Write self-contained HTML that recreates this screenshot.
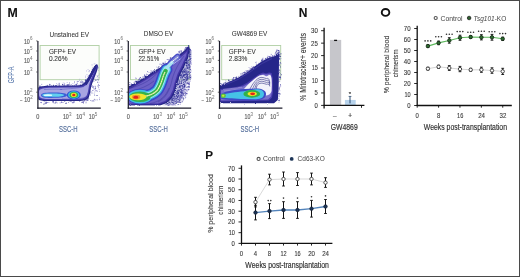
<!DOCTYPE html>
<html><head><meta charset="utf-8"><style>
html,body{margin:0;padding:0;background:#fff;}
svg{display:block;font-family:"Liberation Sans", sans-serif;will-change:transform;}
</style></head><body>
<svg width="520" height="277" viewBox="0 0 520 277">
<text x="7.60" y="16.80" font-size="12.3" fill="#111" text-anchor="start" font-weight="bold" stroke="#111" stroke-width="0.1" >M</text>
<text x="298.80" y="16.70" font-size="12.0" fill="#111" text-anchor="start" font-weight="bold" stroke="#111" stroke-width="0.1" >N</text>
<ellipse cx="385.55" cy="12.45" rx="3.8" ry="3.4" fill="none" stroke="#111" stroke-width="1.9"/>
<text x="205.20" y="159.00" font-size="11.7" fill="#111" text-anchor="start" font-weight="bold" stroke="#111" stroke-width="0.1" >P</text>
<text x="69.30" y="36.60" font-size="6.9" fill="#333" text-anchor="middle" textLength="39.4" lengthAdjust="spacingAndGlyphs" stroke="#333" stroke-width="0.05" >Unstained EV</text>
<rect x="40.1" y="45.5" width="59" height="34.2" fill="#fcfdfb" stroke="#b0cfa4" stroke-width="0.9"/>
<text x="48.90" y="53.80" font-size="6.9" fill="#333" text-anchor="start" textLength="27.0" lengthAdjust="spacingAndGlyphs" stroke="#333" stroke-width="0.08" >GFP+ EV</text>
<text x="48.90" y="61.00" font-size="6.9" fill="#333" text-anchor="start" textLength="18.6" lengthAdjust="spacingAndGlyphs" stroke="#333" stroke-width="0.08" >0.26%</text>
<text x="23.90" y="43.50" font-size="6.6" fill="#5c5c5c" text-anchor="start" textLength="5.9" lengthAdjust="spacingAndGlyphs" stroke="#5c5c5c" stroke-width="0.15" >10</text><text x="30.00" y="40.20" font-size="4.5" fill="#7a7a7a" text-anchor="start" stroke="#7a7a7a" stroke-width="0.05" >6</text>
<line x1="36.2" y1="40.9" x2="37.6" y2="40.9" stroke="#333" stroke-width="0.7"/>
<text x="23.90" y="53.60" font-size="6.6" fill="#5c5c5c" text-anchor="start" textLength="5.9" lengthAdjust="spacingAndGlyphs" stroke="#5c5c5c" stroke-width="0.15" >10</text><text x="30.00" y="50.30" font-size="4.5" fill="#7a7a7a" text-anchor="start" stroke="#7a7a7a" stroke-width="0.05" >5</text>
<line x1="36.2" y1="51.0" x2="37.6" y2="51.0" stroke="#333" stroke-width="0.7"/>
<text x="23.90" y="63.00" font-size="6.6" fill="#5c5c5c" text-anchor="start" textLength="5.9" lengthAdjust="spacingAndGlyphs" stroke="#5c5c5c" stroke-width="0.15" >10</text><text x="30.00" y="59.70" font-size="4.5" fill="#7a7a7a" text-anchor="start" stroke="#7a7a7a" stroke-width="0.05" >4</text>
<line x1="36.2" y1="60.4" x2="37.6" y2="60.4" stroke="#333" stroke-width="0.7"/>
<text x="23.90" y="74.60" font-size="6.6" fill="#5c5c5c" text-anchor="start" textLength="5.9" lengthAdjust="spacingAndGlyphs" stroke="#5c5c5c" stroke-width="0.15" >10</text><text x="30.00" y="71.30" font-size="4.5" fill="#7a7a7a" text-anchor="start" stroke="#7a7a7a" stroke-width="0.05" >3</text>
<line x1="36.2" y1="72.0" x2="37.6" y2="72.0" stroke="#333" stroke-width="0.7"/>
<text x="23.90" y="94.80" font-size="6.6" fill="#5c5c5c" text-anchor="start" textLength="5.9" lengthAdjust="spacingAndGlyphs" stroke="#5c5c5c" stroke-width="0.15" >10</text><text x="30.00" y="91.50" font-size="4.5" fill="#7a7a7a" text-anchor="start" stroke="#7a7a7a" stroke-width="0.05" >2</text>
<line x1="36.2" y1="92.2" x2="37.6" y2="92.2" stroke="#333" stroke-width="0.7"/>
<text x="20.00" y="101.90" font-size="6.6" fill="#5c5c5c" text-anchor="start" textLength="2.4" lengthAdjust="spacingAndGlyphs" >–</text>
<text x="24.20" y="101.90" font-size="6.6" fill="#5c5c5c" text-anchor="start" textLength="5.9" lengthAdjust="spacingAndGlyphs" stroke="#5c5c5c" stroke-width="0.15" >10</text><text x="30.30" y="98.60" font-size="4.5" fill="#7a7a7a" text-anchor="start" stroke="#7a7a7a" stroke-width="0.05" >2</text>
<text x="37.80" y="119.00" font-size="6.6" fill="#5c5c5c" text-anchor="middle" textLength="3.1" lengthAdjust="spacingAndGlyphs" stroke="#5c5c5c" stroke-width="0.15" >0</text>
<text x="62.90" y="118.90" font-size="6.6" fill="#5c5c5c" text-anchor="start" textLength="5.9" lengthAdjust="spacingAndGlyphs" stroke="#5c5c5c" stroke-width="0.15" >10</text><text x="69.00" y="115.60" font-size="4.5" fill="#7a7a7a" text-anchor="start" stroke="#7a7a7a" stroke-width="0.05" >3</text>
<text x="76.30" y="118.90" font-size="6.6" fill="#5c5c5c" text-anchor="start" textLength="5.9" lengthAdjust="spacingAndGlyphs" stroke="#5c5c5c" stroke-width="0.15" >10</text><text x="82.40" y="115.60" font-size="4.5" fill="#7a7a7a" text-anchor="start" stroke="#7a7a7a" stroke-width="0.05" >4</text>
<text x="88.70" y="118.90" font-size="6.6" fill="#5c5c5c" text-anchor="start" textLength="5.9" lengthAdjust="spacingAndGlyphs" stroke="#5c5c5c" stroke-width="0.15" >10</text><text x="94.80" y="115.60" font-size="4.5" fill="#7a7a7a" text-anchor="start" stroke="#7a7a7a" stroke-width="0.05" >5</text>
<g transform="translate(68.20,131.8) scale(1,1.12)"><text x="0.00" y="0.00" font-size="8.9" fill="#56709c" text-anchor="middle" textLength="18.6" lengthAdjust="spacingAndGlyphs" stroke="#56709c" stroke-width="0.15" >SSC-H</text></g>
<text x="158.60" y="36.10" font-size="6.9" fill="#333" text-anchor="middle" textLength="29.5" lengthAdjust="spacingAndGlyphs" stroke="#333" stroke-width="0.05" >DMSO EV</text>
<rect x="130.5" y="45.5" width="59" height="34.2" fill="#fcfdfb" stroke="#b0cfa4" stroke-width="0.9"/>
<text x="138.40" y="53.80" font-size="6.9" fill="#333" text-anchor="start" textLength="27.0" lengthAdjust="spacingAndGlyphs" stroke="#333" stroke-width="0.08" >GFP+ EV</text>
<text x="138.40" y="61.00" font-size="6.9" fill="#333" text-anchor="start" textLength="20.8" lengthAdjust="spacingAndGlyphs" stroke="#333" stroke-width="0.08" >22.51%</text>
<text x="114.30" y="43.50" font-size="6.6" fill="#5c5c5c" text-anchor="start" textLength="5.9" lengthAdjust="spacingAndGlyphs" stroke="#5c5c5c" stroke-width="0.15" >10</text><text x="120.40" y="40.20" font-size="4.5" fill="#7a7a7a" text-anchor="start" stroke="#7a7a7a" stroke-width="0.05" >6</text>
<line x1="126.6" y1="40.9" x2="128.0" y2="40.9" stroke="#333" stroke-width="0.7"/>
<text x="114.30" y="53.60" font-size="6.6" fill="#5c5c5c" text-anchor="start" textLength="5.9" lengthAdjust="spacingAndGlyphs" stroke="#5c5c5c" stroke-width="0.15" >10</text><text x="120.40" y="50.30" font-size="4.5" fill="#7a7a7a" text-anchor="start" stroke="#7a7a7a" stroke-width="0.05" >5</text>
<line x1="126.6" y1="51.0" x2="128.0" y2="51.0" stroke="#333" stroke-width="0.7"/>
<text x="114.30" y="63.00" font-size="6.6" fill="#5c5c5c" text-anchor="start" textLength="5.9" lengthAdjust="spacingAndGlyphs" stroke="#5c5c5c" stroke-width="0.15" >10</text><text x="120.40" y="59.70" font-size="4.5" fill="#7a7a7a" text-anchor="start" stroke="#7a7a7a" stroke-width="0.05" >4</text>
<line x1="126.6" y1="60.4" x2="128.0" y2="60.4" stroke="#333" stroke-width="0.7"/>
<text x="114.30" y="74.60" font-size="6.6" fill="#5c5c5c" text-anchor="start" textLength="5.9" lengthAdjust="spacingAndGlyphs" stroke="#5c5c5c" stroke-width="0.15" >10</text><text x="120.40" y="71.30" font-size="4.5" fill="#7a7a7a" text-anchor="start" stroke="#7a7a7a" stroke-width="0.05" >3</text>
<line x1="126.6" y1="72.0" x2="128.0" y2="72.0" stroke="#333" stroke-width="0.7"/>
<text x="114.30" y="94.80" font-size="6.6" fill="#5c5c5c" text-anchor="start" textLength="5.9" lengthAdjust="spacingAndGlyphs" stroke="#5c5c5c" stroke-width="0.15" >10</text><text x="120.40" y="91.50" font-size="4.5" fill="#7a7a7a" text-anchor="start" stroke="#7a7a7a" stroke-width="0.05" >2</text>
<line x1="126.6" y1="92.2" x2="128.0" y2="92.2" stroke="#333" stroke-width="0.7"/>
<text x="110.40" y="101.90" font-size="6.6" fill="#5c5c5c" text-anchor="start" textLength="2.4" lengthAdjust="spacingAndGlyphs" >–</text>
<text x="114.60" y="101.90" font-size="6.6" fill="#5c5c5c" text-anchor="start" textLength="5.9" lengthAdjust="spacingAndGlyphs" stroke="#5c5c5c" stroke-width="0.15" >10</text><text x="120.70" y="98.60" font-size="4.5" fill="#7a7a7a" text-anchor="start" stroke="#7a7a7a" stroke-width="0.05" >2</text>
<text x="128.20" y="119.00" font-size="6.6" fill="#5c5c5c" text-anchor="middle" textLength="3.1" lengthAdjust="spacingAndGlyphs" stroke="#5c5c5c" stroke-width="0.15" >0</text>
<text x="153.30" y="118.90" font-size="6.6" fill="#5c5c5c" text-anchor="start" textLength="5.9" lengthAdjust="spacingAndGlyphs" stroke="#5c5c5c" stroke-width="0.15" >10</text><text x="159.40" y="115.60" font-size="4.5" fill="#7a7a7a" text-anchor="start" stroke="#7a7a7a" stroke-width="0.05" >3</text>
<text x="166.70" y="118.90" font-size="6.6" fill="#5c5c5c" text-anchor="start" textLength="5.9" lengthAdjust="spacingAndGlyphs" stroke="#5c5c5c" stroke-width="0.15" >10</text><text x="172.80" y="115.60" font-size="4.5" fill="#7a7a7a" text-anchor="start" stroke="#7a7a7a" stroke-width="0.05" >4</text>
<text x="179.10" y="118.90" font-size="6.6" fill="#5c5c5c" text-anchor="start" textLength="5.9" lengthAdjust="spacingAndGlyphs" stroke="#5c5c5c" stroke-width="0.15" >10</text><text x="185.20" y="115.60" font-size="4.5" fill="#7a7a7a" text-anchor="start" stroke="#7a7a7a" stroke-width="0.05" >5</text>
<g transform="translate(158.60,131.8) scale(1,1.12)"><text x="0.00" y="0.00" font-size="8.9" fill="#56709c" text-anchor="middle" textLength="18.6" lengthAdjust="spacingAndGlyphs" stroke="#56709c" stroke-width="0.15" >SSC-H</text></g>
<text x="249.50" y="36.10" font-size="6.9" fill="#333" text-anchor="middle" textLength="35.6" lengthAdjust="spacingAndGlyphs" stroke="#333" stroke-width="0.05" >GW4869 EV</text>
<rect x="221.7" y="45.5" width="59" height="34.2" fill="#fcfdfb" stroke="#b0cfa4" stroke-width="0.9"/>
<text x="228.80" y="53.80" font-size="6.9" fill="#333" text-anchor="start" textLength="27.0" lengthAdjust="spacingAndGlyphs" stroke="#333" stroke-width="0.08" >GFP+ EV</text>
<text x="228.80" y="61.00" font-size="6.9" fill="#333" text-anchor="start" textLength="18.6" lengthAdjust="spacingAndGlyphs" stroke="#333" stroke-width="0.08" >2.83%</text>
<text x="205.50" y="43.50" font-size="6.6" fill="#5c5c5c" text-anchor="start" textLength="5.9" lengthAdjust="spacingAndGlyphs" stroke="#5c5c5c" stroke-width="0.15" >10</text><text x="211.60" y="40.20" font-size="4.5" fill="#7a7a7a" text-anchor="start" stroke="#7a7a7a" stroke-width="0.05" >6</text>
<line x1="217.79999999999998" y1="40.9" x2="219.2" y2="40.9" stroke="#333" stroke-width="0.7"/>
<text x="205.50" y="53.60" font-size="6.6" fill="#5c5c5c" text-anchor="start" textLength="5.9" lengthAdjust="spacingAndGlyphs" stroke="#5c5c5c" stroke-width="0.15" >10</text><text x="211.60" y="50.30" font-size="4.5" fill="#7a7a7a" text-anchor="start" stroke="#7a7a7a" stroke-width="0.05" >5</text>
<line x1="217.79999999999998" y1="51.0" x2="219.2" y2="51.0" stroke="#333" stroke-width="0.7"/>
<text x="205.50" y="63.00" font-size="6.6" fill="#5c5c5c" text-anchor="start" textLength="5.9" lengthAdjust="spacingAndGlyphs" stroke="#5c5c5c" stroke-width="0.15" >10</text><text x="211.60" y="59.70" font-size="4.5" fill="#7a7a7a" text-anchor="start" stroke="#7a7a7a" stroke-width="0.05" >4</text>
<line x1="217.79999999999998" y1="60.4" x2="219.2" y2="60.4" stroke="#333" stroke-width="0.7"/>
<text x="205.50" y="74.60" font-size="6.6" fill="#5c5c5c" text-anchor="start" textLength="5.9" lengthAdjust="spacingAndGlyphs" stroke="#5c5c5c" stroke-width="0.15" >10</text><text x="211.60" y="71.30" font-size="4.5" fill="#7a7a7a" text-anchor="start" stroke="#7a7a7a" stroke-width="0.05" >3</text>
<line x1="217.79999999999998" y1="72.0" x2="219.2" y2="72.0" stroke="#333" stroke-width="0.7"/>
<text x="205.50" y="94.80" font-size="6.6" fill="#5c5c5c" text-anchor="start" textLength="5.9" lengthAdjust="spacingAndGlyphs" stroke="#5c5c5c" stroke-width="0.15" >10</text><text x="211.60" y="91.50" font-size="4.5" fill="#7a7a7a" text-anchor="start" stroke="#7a7a7a" stroke-width="0.05" >2</text>
<line x1="217.79999999999998" y1="92.2" x2="219.2" y2="92.2" stroke="#333" stroke-width="0.7"/>
<text x="201.60" y="101.90" font-size="6.6" fill="#5c5c5c" text-anchor="start" textLength="2.4" lengthAdjust="spacingAndGlyphs" >–</text>
<text x="205.80" y="101.90" font-size="6.6" fill="#5c5c5c" text-anchor="start" textLength="5.9" lengthAdjust="spacingAndGlyphs" stroke="#5c5c5c" stroke-width="0.15" >10</text><text x="211.90" y="98.60" font-size="4.5" fill="#7a7a7a" text-anchor="start" stroke="#7a7a7a" stroke-width="0.05" >2</text>
<text x="219.40" y="119.00" font-size="6.6" fill="#5c5c5c" text-anchor="middle" textLength="3.1" lengthAdjust="spacingAndGlyphs" stroke="#5c5c5c" stroke-width="0.15" >0</text>
<text x="244.50" y="118.90" font-size="6.6" fill="#5c5c5c" text-anchor="start" textLength="5.9" lengthAdjust="spacingAndGlyphs" stroke="#5c5c5c" stroke-width="0.15" >10</text><text x="250.60" y="115.60" font-size="4.5" fill="#7a7a7a" text-anchor="start" stroke="#7a7a7a" stroke-width="0.05" >3</text>
<text x="257.90" y="118.90" font-size="6.6" fill="#5c5c5c" text-anchor="start" textLength="5.9" lengthAdjust="spacingAndGlyphs" stroke="#5c5c5c" stroke-width="0.15" >10</text><text x="264.00" y="115.60" font-size="4.5" fill="#7a7a7a" text-anchor="start" stroke="#7a7a7a" stroke-width="0.05" >4</text>
<text x="270.30" y="118.90" font-size="6.6" fill="#5c5c5c" text-anchor="start" textLength="5.9" lengthAdjust="spacingAndGlyphs" stroke="#5c5c5c" stroke-width="0.15" >10</text><text x="276.40" y="115.60" font-size="4.5" fill="#7a7a7a" text-anchor="start" stroke="#7a7a7a" stroke-width="0.05" >5</text>
<g transform="translate(249.80,131.8) scale(1,1.12)"><text x="0.00" y="0.00" font-size="8.9" fill="#56709c" text-anchor="middle" textLength="18.6" lengthAdjust="spacingAndGlyphs" stroke="#56709c" stroke-width="0.15" >SSC-H</text></g>
<text transform="translate(14.2,74.9) rotate(-90)" font-size="9.0" fill="#5878ac" stroke="#5878ac" stroke-width="0.08" text-anchor="middle" textLength="16.6" lengthAdjust="spacingAndGlyphs">GFP-A</text>
<defs>
<filter id="bl" x="-20%" y="-20%" width="140%" height="140%"><feGaussianBlur stdDeviation="0.45"/></filter>
<filter id="bl3" x="-20%" y="-20%" width="140%" height="140%"><feGaussianBlur stdDeviation="0.3"/></filter>
<filter id="er1" x="-20%" y="-20%" width="140%" height="140%"><feMorphology operator="erode" radius="1.2"/><feGaussianBlur stdDeviation="0.4"/></filter>
<filter id="er2" x="-20%" y="-20%" width="140%" height="140%"><feMorphology operator="erode" radius="2.2"/><feGaussianBlur stdDeviation="0.45"/></filter>
<filter id="rough" x="-10%" y="-10%" width="120%" height="120%"><feTurbulence type="fractalNoise" baseFrequency="0.9" numOctaves="2" seed="3" result="t"/><feDisplacementMap in="SourceGraphic" in2="t" scale="2.4" xChannelSelector="R" yChannelSelector="G" result="d"/><feGaussianBlur in="d" stdDeviation="0.35"/></filter>
<clipPath id="c1"><rect x="38.2" y="41" width="63" height="64.8"/></clipPath>
<clipPath id="c2"><rect x="128.6" y="41" width="63" height="64.8"/></clipPath>
<clipPath id="c3"><rect x="219.8" y="41" width="63" height="64.8"/></clipPath>
</defs>
<g clip-path="url(#c1)">
<g filter="url(#bl3)">
<g><rect x="93.0" y="89.7" width="0.9" height="0.9" fill="#7a70c8" opacity="0.58"/><rect x="97.4" y="79.3" width="0.9" height="0.9" fill="#7a70c8" opacity="0.66"/><rect x="96.7" y="76.6" width="0.9" height="0.9" fill="#5a4fb4" opacity="0.42"/><rect x="93.9" y="98.9" width="0.9" height="0.9" fill="#26268a" opacity="0.65"/><rect x="92.4" y="86.7" width="0.9" height="0.9" fill="#3a3a9e" opacity="0.66"/><rect x="97.1" y="75.8" width="0.9" height="0.9" fill="#26268a" opacity="0.45"/><rect x="93.1" y="86.3" width="0.9" height="0.9" fill="#3a3a9e" opacity="0.61"/><rect x="95.0" y="88.0" width="0.9" height="0.9" fill="#26268a" opacity="0.58"/><rect x="99.0" y="97.5" width="0.9" height="0.9" fill="#5a4fb4" opacity="0.51"/><rect x="90.5" y="82.1" width="0.9" height="0.9" fill="#26268a" opacity="0.63"/><rect x="90.3" y="100.0" width="0.9" height="0.9" fill="#26268a" opacity="0.58"/><rect x="98.8" y="85.1" width="0.9" height="0.9" fill="#26268a" opacity="0.63"/><rect x="90.2" y="92.9" width="0.9" height="0.9" fill="#5a4fb4" opacity="0.39"/><rect x="91.7" y="101.0" width="0.9" height="0.9" fill="#26268a" opacity="0.42"/><rect x="93.1" y="87.6" width="0.9" height="0.9" fill="#3a3a9e" opacity="0.57"/><rect x="90.1" y="94.5" width="0.9" height="0.9" fill="#3a3a9e" opacity="0.56"/><rect x="92.2" y="85.1" width="0.9" height="0.9" fill="#3a3a9e" opacity="0.35"/><rect x="99.0" y="90.9" width="0.9" height="0.9" fill="#26268a" opacity="0.37"/><rect x="89.6" y="86.4" width="0.9" height="0.9" fill="#26268a" opacity="0.74"/><rect x="91.6" y="82.3" width="0.9" height="0.9" fill="#26268a" opacity="0.39"/><rect x="90.3" y="91.8" width="0.9" height="0.9" fill="#26268a" opacity="0.65"/><rect x="92.1" y="86.7" width="0.9" height="0.9" fill="#7a70c8" opacity="0.77"/><rect x="89.5" y="84.8" width="0.9" height="0.9" fill="#3a3a9e" opacity="0.51"/><rect x="90.5" y="91.1" width="0.9" height="0.9" fill="#3a3a9e" opacity="0.43"/><rect x="94.9" y="89.5" width="0.9" height="0.9" fill="#7a70c8" opacity="0.79"/><rect x="94.6" y="85.8" width="0.9" height="0.9" fill="#26268a" opacity="0.40"/><rect x="93.6" y="81.1" width="0.9" height="0.9" fill="#7a70c8" opacity="0.48"/><rect x="97.1" y="90.7" width="0.9" height="0.9" fill="#5a4fb4" opacity="0.61"/><rect x="89.4" y="87.4" width="0.9" height="0.9" fill="#26268a" opacity="0.49"/><rect x="98.1" y="79.7" width="0.9" height="0.9" fill="#26268a" opacity="0.38"/><rect x="92.5" y="81.0" width="0.9" height="0.9" fill="#26268a" opacity="0.44"/><rect x="92.1" y="90.0" width="0.9" height="0.9" fill="#3a3a9e" opacity="0.40"/><rect x="89.5" y="86.6" width="0.9" height="0.9" fill="#5a4fb4" opacity="0.68"/><rect x="95.6" y="90.4" width="0.9" height="0.9" fill="#3a3a9e" opacity="0.64"/><rect x="98.2" y="87.3" width="0.9" height="0.9" fill="#5a4fb4" opacity="0.70"/><rect x="95.0" y="87.5" width="0.9" height="0.9" fill="#5a4fb4" opacity="0.51"/><rect x="94.0" y="94.6" width="0.9" height="0.9" fill="#3a3a9e" opacity="0.75"/><rect x="98.1" y="83.9" width="0.9" height="0.9" fill="#7a70c8" opacity="0.80"/><rect x="97.6" y="85.7" width="0.9" height="0.9" fill="#26268a" opacity="0.78"/><rect x="94.3" y="91.5" width="0.9" height="0.9" fill="#7a70c8" opacity="0.54"/><rect x="90.8" y="85.7" width="0.9" height="0.9" fill="#5a4fb4" opacity="0.54"/><rect x="96.1" y="90.3" width="0.9" height="0.9" fill="#7a70c8" opacity="0.58"/><rect x="94.0" y="88.5" width="0.9" height="0.9" fill="#26268a" opacity="0.51"/><rect x="98.5" y="77.2" width="0.9" height="0.9" fill="#7a70c8" opacity="0.48"/><rect x="95.5" y="79.7" width="0.9" height="0.9" fill="#3a3a9e" opacity="0.73"/><rect x="91.8" y="100.0" width="0.9" height="0.9" fill="#7a70c8" opacity="0.80"/><rect x="91.6" y="92.6" width="0.9" height="0.9" fill="#3a3a9e" opacity="0.67"/><rect x="96.8" y="95.1" width="0.9" height="0.9" fill="#3a3a9e" opacity="0.79"/><rect x="92.2" y="90.3" width="0.9" height="0.9" fill="#5a4fb4" opacity="0.45"/><rect x="89.5" y="83.8" width="0.9" height="0.9" fill="#26268a" opacity="0.71"/><rect x="98.5" y="81.8" width="0.9" height="0.9" fill="#3a3a9e" opacity="0.41"/><rect x="93.2" y="99.9" width="0.9" height="0.9" fill="#7a70c8" opacity="0.54"/><rect x="93.7" y="92.8" width="0.9" height="0.9" fill="#7a70c8" opacity="0.51"/><rect x="97.1" y="81.8" width="0.9" height="0.9" fill="#26268a" opacity="0.69"/><rect x="91.1" y="83.9" width="0.9" height="0.9" fill="#26268a" opacity="0.67"/><rect x="92.5" y="79.3" width="0.9" height="0.9" fill="#5a4fb4" opacity="0.47"/><rect x="94.9" y="86.5" width="0.9" height="0.9" fill="#5a4fb4" opacity="0.83"/><rect x="95.5" y="79.6" width="0.9" height="0.9" fill="#7a70c8" opacity="0.48"/><rect x="95.9" y="95.1" width="0.9" height="0.9" fill="#26268a" opacity="0.44"/><rect x="91.0" y="83.7" width="0.9" height="0.9" fill="#3a3a9e" opacity="0.55"/><rect x="96.7" y="99.4" width="0.9" height="0.9" fill="#26268a" opacity="0.56"/><rect x="97.8" y="84.9" width="0.9" height="0.9" fill="#7a70c8" opacity="0.58"/><rect x="94.9" y="99.5" width="0.9" height="0.9" fill="#7a70c8" opacity="0.63"/><rect x="95.2" y="88.1" width="0.9" height="0.9" fill="#5a4fb4" opacity="0.58"/><rect x="95.2" y="79.7" width="0.9" height="0.9" fill="#26268a" opacity="0.46"/><rect x="98.8" y="89.0" width="0.9" height="0.9" fill="#5a4fb4" opacity="0.48"/><rect x="91.8" y="85.8" width="0.9" height="0.9" fill="#5a4fb4" opacity="0.59"/><rect x="89.9" y="83.4" width="0.9" height="0.9" fill="#3a3a9e" opacity="0.59"/><rect x="99.0" y="99.2" width="0.9" height="0.9" fill="#7a70c8" opacity="0.82"/><rect x="93.4" y="100.6" width="0.9" height="0.9" fill="#26268a" opacity="0.73"/></g>
<g><rect x="70.7" y="84.3" width="0.9" height="0.9" fill="#5a4fb4" opacity="0.36"/><rect x="64.0" y="85.3" width="0.9" height="0.9" fill="#3a3a9e" opacity="0.52"/><rect x="76.8" y="80.9" width="0.9" height="0.9" fill="#7a70c8" opacity="0.45"/><rect x="74.0" y="81.3" width="0.9" height="0.9" fill="#5a4fb4" opacity="0.57"/><rect x="81.3" y="80.6" width="0.9" height="0.9" fill="#26268a" opacity="0.63"/><rect x="76.8" y="81.5" width="0.9" height="0.9" fill="#7a70c8" opacity="0.68"/><rect x="58.7" y="82.8" width="0.9" height="0.9" fill="#3a3a9e" opacity="0.52"/><rect x="84.1" y="83.6" width="0.9" height="0.9" fill="#26268a" opacity="0.52"/><rect x="75.0" y="84.3" width="0.9" height="0.9" fill="#7a70c8" opacity="0.49"/><rect x="87.2" y="84.3" width="0.9" height="0.9" fill="#5a4fb4" opacity="0.68"/><rect x="83.6" y="82.5" width="0.9" height="0.9" fill="#5a4fb4" opacity="0.35"/><rect x="62.8" y="82.4" width="0.9" height="0.9" fill="#3a3a9e" opacity="0.31"/><rect x="82.1" y="82.8" width="0.9" height="0.9" fill="#26268a" opacity="0.39"/><rect x="69.1" y="82.5" width="0.9" height="0.9" fill="#26268a" opacity="0.60"/><rect x="64.0" y="82.8" width="0.9" height="0.9" fill="#7a70c8" opacity="0.44"/><rect x="64.3" y="83.1" width="0.9" height="0.9" fill="#7a70c8" opacity="0.40"/><rect x="80.3" y="81.4" width="0.9" height="0.9" fill="#26268a" opacity="0.68"/><rect x="85.2" y="85.2" width="0.9" height="0.9" fill="#3a3a9e" opacity="0.40"/><rect x="81.0" y="85.4" width="0.9" height="0.9" fill="#26268a" opacity="0.39"/><rect x="72.4" y="83.1" width="0.9" height="0.9" fill="#5a4fb4" opacity="0.41"/><rect x="86.2" y="85.8" width="0.9" height="0.9" fill="#3a3a9e" opacity="0.48"/><rect x="65.9" y="85.6" width="0.9" height="0.9" fill="#7a70c8" opacity="0.58"/><rect x="63.4" y="84.4" width="0.9" height="0.9" fill="#26268a" opacity="0.35"/><rect x="84.3" y="82.7" width="0.9" height="0.9" fill="#3a3a9e" opacity="0.38"/><rect x="73.8" y="84.7" width="0.9" height="0.9" fill="#5a4fb4" opacity="0.60"/><rect x="68.8" y="83.8" width="0.9" height="0.9" fill="#7a70c8" opacity="0.62"/><rect x="74.1" y="82.3" width="0.9" height="0.9" fill="#5a4fb4" opacity="0.56"/><rect x="77.7" y="81.0" width="0.9" height="0.9" fill="#26268a" opacity="0.62"/><rect x="84.6" y="85.9" width="0.9" height="0.9" fill="#3a3a9e" opacity="0.62"/><rect x="66.7" y="82.0" width="0.9" height="0.9" fill="#7a70c8" opacity="0.55"/><rect x="59.1" y="83.5" width="0.9" height="0.9" fill="#7a70c8" opacity="0.53"/><rect x="77.7" y="84.7" width="0.9" height="0.9" fill="#5a4fb4" opacity="0.58"/><rect x="80.1" y="84.3" width="0.9" height="0.9" fill="#7a70c8" opacity="0.45"/><rect x="56.0" y="83.2" width="0.9" height="0.9" fill="#7a70c8" opacity="0.49"/><rect x="56.9" y="83.9" width="0.9" height="0.9" fill="#7a70c8" opacity="0.40"/></g>
<g><rect x="93.5" y="63.5" width="0.9" height="0.9" fill="#5a4fb4" opacity="0.26"/><rect x="96.5" y="75.0" width="0.9" height="0.9" fill="#7a70c8" opacity="0.33"/><rect x="85.1" y="75.6" width="0.9" height="0.9" fill="#7a70c8" opacity="0.39"/><rect x="85.2" y="80.6" width="0.9" height="0.9" fill="#5a4fb4" opacity="0.56"/><rect x="94.7" y="64.9" width="0.9" height="0.9" fill="#7a70c8" opacity="0.33"/><rect x="87.6" y="69.2" width="0.9" height="0.9" fill="#5a4fb4" opacity="0.41"/><rect x="94.8" y="69.7" width="0.9" height="0.9" fill="#7a70c8" opacity="0.58"/><rect x="91.6" y="68.9" width="0.9" height="0.9" fill="#5a4fb4" opacity="0.42"/><rect x="97.7" y="75.2" width="0.9" height="0.9" fill="#5a4fb4" opacity="0.35"/><rect x="88.4" y="79.5" width="0.9" height="0.9" fill="#5a4fb4" opacity="0.56"/><rect x="93.2" y="80.3" width="0.9" height="0.9" fill="#7a70c8" opacity="0.39"/><rect x="97.9" y="67.8" width="0.9" height="0.9" fill="#5a4fb4" opacity="0.36"/><rect x="86.1" y="70.5" width="0.9" height="0.9" fill="#7a70c8" opacity="0.52"/><rect x="93.9" y="78.4" width="0.9" height="0.9" fill="#7a70c8" opacity="0.42"/><rect x="85.9" y="78.5" width="0.9" height="0.9" fill="#5a4fb4" opacity="0.35"/><rect x="78.9" y="79.7" width="0.9" height="0.9" fill="#7a70c8" opacity="0.31"/><rect x="88.5" y="70.6" width="0.9" height="0.9" fill="#7a70c8" opacity="0.27"/><rect x="79.3" y="78.6" width="0.9" height="0.9" fill="#7a70c8" opacity="0.33"/><rect x="93.9" y="69.9" width="0.9" height="0.9" fill="#7a70c8" opacity="0.49"/><rect x="93.8" y="78.4" width="0.9" height="0.9" fill="#7a70c8" opacity="0.37"/><rect x="91.0" y="75.5" width="0.9" height="0.9" fill="#7a70c8" opacity="0.36"/><rect x="95.3" y="77.6" width="0.9" height="0.9" fill="#7a70c8" opacity="0.26"/><rect x="92.1" y="67.7" width="0.9" height="0.9" fill="#7a70c8" opacity="0.57"/><rect x="88.5" y="71.3" width="0.9" height="0.9" fill="#7a70c8" opacity="0.57"/><rect x="92.4" y="66.9" width="0.9" height="0.9" fill="#7a70c8" opacity="0.25"/><rect x="97.4" y="78.8" width="0.9" height="0.9" fill="#5a4fb4" opacity="0.60"/><rect x="93.2" y="68.8" width="0.9" height="0.9" fill="#5a4fb4" opacity="0.37"/><rect x="90.9" y="73.6" width="0.9" height="0.9" fill="#5a4fb4" opacity="0.39"/><rect x="94.4" y="63.4" width="0.9" height="0.9" fill="#7a70c8" opacity="0.54"/><rect x="91.8" y="72.7" width="0.9" height="0.9" fill="#7a70c8" opacity="0.38"/><rect x="89.1" y="70.3" width="0.9" height="0.9" fill="#5a4fb4" opacity="0.54"/><rect x="92.4" y="80.2" width="0.9" height="0.9" fill="#7a70c8" opacity="0.55"/><rect x="98.7" y="74.6" width="0.9" height="0.9" fill="#7a70c8" opacity="0.26"/><rect x="85.1" y="76.7" width="0.9" height="0.9" fill="#7a70c8" opacity="0.60"/><rect x="79.3" y="80.2" width="0.9" height="0.9" fill="#5a4fb4" opacity="0.28"/><rect x="91.6" y="64.5" width="0.9" height="0.9" fill="#5a4fb4" opacity="0.53"/><rect x="93.2" y="71.8" width="0.9" height="0.9" fill="#5a4fb4" opacity="0.36"/><rect x="90.9" y="79.3" width="0.9" height="0.9" fill="#7a70c8" opacity="0.40"/><rect x="86.8" y="79.3" width="0.9" height="0.9" fill="#7a70c8" opacity="0.51"/><rect x="87.3" y="76.3" width="0.9" height="0.9" fill="#5a4fb4" opacity="0.41"/><rect x="86.5" y="74.3" width="0.9" height="0.9" fill="#5a4fb4" opacity="0.48"/><rect x="98.9" y="73.5" width="0.9" height="0.9" fill="#7a70c8" opacity="0.41"/><rect x="85.1" y="79.5" width="0.9" height="0.9" fill="#7a70c8" opacity="0.39"/><rect x="94.9" y="68.9" width="0.9" height="0.9" fill="#5a4fb4" opacity="0.31"/><rect x="98.0" y="69.9" width="0.9" height="0.9" fill="#7a70c8" opacity="0.37"/></g>
<g><rect x="56.2" y="85.0" width="0.9" height="0.9" fill="#3a3a9e" opacity="0.83"/><rect x="82.3" y="81.3" width="0.9" height="0.9" fill="#3a3a9e" opacity="0.82"/><rect x="51.5" y="87.3" width="0.9" height="0.9" fill="#5a4fb4" opacity="0.51"/><rect x="47.4" y="86.5" width="0.9" height="0.9" fill="#26268a" opacity="1.00"/><rect x="91.5" y="75.2" width="0.9" height="0.9" fill="#5a4fb4" opacity="0.91"/><rect x="87.2" y="79.6" width="0.9" height="0.9" fill="#3a3a9e" opacity="0.90"/><rect x="56.1" y="86.2" width="0.9" height="0.9" fill="#7a70c8" opacity="0.84"/><rect x="91.5" y="70.9" width="0.9" height="0.9" fill="#5a4fb4" opacity="0.83"/><rect x="62.0" y="84.4" width="0.9" height="0.9" fill="#5a4fb4" opacity="0.85"/><rect x="75.8" y="84.5" width="0.9" height="0.9" fill="#3a3a9e" opacity="0.72"/><rect x="85.3" y="79.4" width="0.9" height="0.9" fill="#3a3a9e" opacity="0.76"/><rect x="55.8" y="85.4" width="0.9" height="0.9" fill="#7a70c8" opacity="0.63"/><rect x="57.6" y="86.5" width="0.9" height="0.9" fill="#3a3a9e" opacity="0.78"/><rect x="91.5" y="71.1" width="0.9" height="0.9" fill="#5a4fb4" opacity="0.57"/><rect x="67.6" y="84.7" width="0.9" height="0.9" fill="#26268a" opacity="0.86"/><rect x="93.1" y="68.4" width="0.9" height="0.9" fill="#26268a" opacity="0.61"/><rect x="72.1" y="85.0" width="0.9" height="0.9" fill="#5a4fb4" opacity="0.58"/><rect x="66.5" y="84.5" width="0.9" height="0.9" fill="#5a4fb4" opacity="0.94"/><rect x="89.5" y="76.4" width="0.9" height="0.9" fill="#5a4fb4" opacity="0.76"/><rect x="82.8" y="84.3" width="0.9" height="0.9" fill="#3a3a9e" opacity="0.86"/><rect x="53.1" y="84.8" width="0.9" height="0.9" fill="#26268a" opacity="0.68"/><rect x="85.2" y="79.4" width="0.9" height="0.9" fill="#5a4fb4" opacity="0.59"/><rect x="51.8" y="86.0" width="0.9" height="0.9" fill="#3a3a9e" opacity="0.58"/><rect x="67.5" y="84.2" width="0.9" height="0.9" fill="#26268a" opacity="0.99"/><rect x="89.4" y="74.6" width="0.9" height="0.9" fill="#3a3a9e" opacity="1.00"/><rect x="47.1" y="84.9" width="0.9" height="0.9" fill="#5a4fb4" opacity="0.95"/><rect x="76.3" y="84.4" width="0.9" height="0.9" fill="#5a4fb4" opacity="0.93"/><rect x="41.3" y="83.9" width="0.9" height="0.9" fill="#5a4fb4" opacity="0.67"/><rect x="72.0" y="86.3" width="0.9" height="0.9" fill="#7a70c8" opacity="0.61"/><rect x="52.8" y="85.5" width="0.9" height="0.9" fill="#26268a" opacity="0.69"/><rect x="85.4" y="80.8" width="0.9" height="0.9" fill="#7a70c8" opacity="0.84"/><rect x="91.2" y="73.8" width="0.9" height="0.9" fill="#5a4fb4" opacity="0.71"/><rect x="54.7" y="85.8" width="0.9" height="0.9" fill="#7a70c8" opacity="0.60"/><rect x="62.3" y="84.3" width="0.9" height="0.9" fill="#26268a" opacity="0.66"/><rect x="69.6" y="85.6" width="0.9" height="0.9" fill="#26268a" opacity="0.83"/><rect x="59.4" y="85.6" width="0.9" height="0.9" fill="#7a70c8" opacity="0.74"/><rect x="75.9" y="84.8" width="0.9" height="0.9" fill="#7a70c8" opacity="0.98"/><rect x="48.9" y="86.4" width="0.9" height="0.9" fill="#26268a" opacity="0.56"/><rect x="90.1" y="75.2" width="0.9" height="0.9" fill="#7a70c8" opacity="0.65"/><rect x="62.1" y="86.2" width="0.9" height="0.9" fill="#26268a" opacity="0.68"/><rect x="68.4" y="87.3" width="0.9" height="0.9" fill="#26268a" opacity="0.68"/><rect x="58.6" y="83.6" width="0.9" height="0.9" fill="#26268a" opacity="0.66"/><rect x="92.0" y="70.9" width="0.9" height="0.9" fill="#26268a" opacity="0.95"/><rect x="92.9" y="69.9" width="0.9" height="0.9" fill="#3a3a9e" opacity="0.54"/><rect x="94.2" y="69.2" width="0.9" height="0.9" fill="#3a3a9e" opacity="0.52"/><rect x="54.8" y="85.9" width="0.9" height="0.9" fill="#3a3a9e" opacity="0.76"/><rect x="92.3" y="69.0" width="0.9" height="0.9" fill="#26268a" opacity="0.92"/><rect x="92.9" y="71.1" width="0.9" height="0.9" fill="#26268a" opacity="0.81"/><rect x="94.1" y="68.3" width="0.9" height="0.9" fill="#7a70c8" opacity="0.65"/><rect x="94.0" y="66.7" width="0.9" height="0.9" fill="#5a4fb4" opacity="0.63"/><rect x="63.8" y="85.9" width="0.9" height="0.9" fill="#26268a" opacity="0.55"/><rect x="85.1" y="80.3" width="0.9" height="0.9" fill="#26268a" opacity="1.00"/><rect x="88.5" y="75.1" width="0.9" height="0.9" fill="#5a4fb4" opacity="0.96"/><rect x="41.7" y="86.5" width="0.9" height="0.9" fill="#26268a" opacity="0.65"/><rect x="95.3" y="64.9" width="0.9" height="0.9" fill="#3a3a9e" opacity="0.73"/><rect x="39.2" y="86.1" width="0.9" height="0.9" fill="#26268a" opacity="0.77"/><rect x="57.4" y="86.0" width="0.9" height="0.9" fill="#5a4fb4" opacity="0.71"/><rect x="98.1" y="66.8" width="0.9" height="0.9" fill="#7a70c8" opacity="0.70"/><rect x="49.3" y="83.8" width="0.9" height="0.9" fill="#7a70c8" opacity="0.60"/><rect x="64.0" y="84.4" width="0.9" height="0.9" fill="#7a70c8" opacity="0.92"/><rect x="41.0" y="86.8" width="0.9" height="0.9" fill="#3a3a9e" opacity="0.56"/><rect x="39.4" y="85.4" width="0.9" height="0.9" fill="#3a3a9e" opacity="0.65"/><rect x="91.1" y="71.0" width="0.9" height="0.9" fill="#26268a" opacity="0.61"/><rect x="86.6" y="79.0" width="0.9" height="0.9" fill="#7a70c8" opacity="0.51"/><rect x="74.4" y="85.5" width="0.9" height="0.9" fill="#5a4fb4" opacity="0.92"/><rect x="49.2" y="84.4" width="0.9" height="0.9" fill="#26268a" opacity="0.87"/><rect x="67.5" y="85.4" width="0.9" height="0.9" fill="#26268a" opacity="0.80"/><rect x="55.2" y="85.0" width="0.9" height="0.9" fill="#26268a" opacity="0.79"/><rect x="93.2" y="71.7" width="0.9" height="0.9" fill="#26268a" opacity="0.76"/><rect x="95.1" y="65.1" width="0.9" height="0.9" fill="#3a3a9e" opacity="0.96"/><rect x="87.6" y="80.3" width="0.9" height="0.9" fill="#7a70c8" opacity="0.91"/><rect x="91.2" y="75.2" width="0.9" height="0.9" fill="#5a4fb4" opacity="0.86"/><rect x="82.6" y="81.9" width="0.9" height="0.9" fill="#3a3a9e" opacity="0.56"/><rect x="50.9" y="85.3" width="0.9" height="0.9" fill="#26268a" opacity="0.53"/><rect x="81.0" y="82.3" width="0.9" height="0.9" fill="#7a70c8" opacity="0.94"/><rect x="64.3" y="84.7" width="0.9" height="0.9" fill="#7a70c8" opacity="0.90"/><rect x="73.2" y="86.9" width="0.9" height="0.9" fill="#5a4fb4" opacity="0.67"/><rect x="83.4" y="83.0" width="0.9" height="0.9" fill="#3a3a9e" opacity="0.84"/><rect x="64.0" y="86.3" width="0.9" height="0.9" fill="#7a70c8" opacity="0.65"/><rect x="94.0" y="69.3" width="0.9" height="0.9" fill="#26268a" opacity="0.99"/><rect x="68.8" y="84.4" width="0.9" height="0.9" fill="#26268a" opacity="0.54"/><rect x="53.3" y="86.3" width="0.9" height="0.9" fill="#3a3a9e" opacity="0.77"/><rect x="96.2" y="65.9" width="0.9" height="0.9" fill="#7a70c8" opacity="0.97"/><rect x="58.6" y="84.6" width="0.9" height="0.9" fill="#3a3a9e" opacity="0.81"/><rect x="91.8" y="72.1" width="0.9" height="0.9" fill="#26268a" opacity="0.78"/><rect x="79.9" y="82.2" width="0.9" height="0.9" fill="#5a4fb4" opacity="0.58"/><rect x="40.0" y="85.9" width="0.9" height="0.9" fill="#3a3a9e" opacity="0.72"/><rect x="95.3" y="65.7" width="0.9" height="0.9" fill="#3a3a9e" opacity="0.83"/><rect x="84.6" y="80.5" width="0.9" height="0.9" fill="#3a3a9e" opacity="0.56"/><rect x="62.2" y="83.9" width="0.9" height="0.9" fill="#26268a" opacity="0.76"/><rect x="73.6" y="85.4" width="0.9" height="0.9" fill="#7a70c8" opacity="0.65"/><rect x="58.8" y="85.0" width="0.9" height="0.9" fill="#5a4fb4" opacity="0.64"/><rect x="76.7" y="82.9" width="0.9" height="0.9" fill="#5a4fb4" opacity="0.87"/><rect x="53.1" y="85.0" width="0.9" height="0.9" fill="#26268a" opacity="0.58"/><rect x="91.7" y="73.5" width="0.9" height="0.9" fill="#3a3a9e" opacity="0.81"/><rect x="45.7" y="85.7" width="0.9" height="0.9" fill="#7a70c8" opacity="0.72"/><rect x="45.9" y="85.5" width="0.9" height="0.9" fill="#7a70c8" opacity="0.57"/><rect x="70.7" y="84.2" width="0.9" height="0.9" fill="#7a70c8" opacity="0.67"/><rect x="63.2" y="87.3" width="0.9" height="0.9" fill="#26268a" opacity="0.85"/><rect x="87.6" y="77.8" width="0.9" height="0.9" fill="#5a4fb4" opacity="0.72"/><rect x="67.0" y="85.4" width="0.9" height="0.9" fill="#3a3a9e" opacity="0.62"/><rect x="49.0" y="85.8" width="0.9" height="0.9" fill="#7a70c8" opacity="0.51"/><rect x="63.1" y="85.5" width="0.9" height="0.9" fill="#26268a" opacity="0.57"/><rect x="49.6" y="84.3" width="0.9" height="0.9" fill="#3a3a9e" opacity="0.81"/><rect x="94.4" y="68.4" width="0.9" height="0.9" fill="#26268a" opacity="0.75"/><rect x="75.7" y="84.0" width="0.9" height="0.9" fill="#3a3a9e" opacity="0.81"/><rect x="64.1" y="87.0" width="0.9" height="0.9" fill="#5a4fb4" opacity="0.96"/><rect x="65.6" y="85.6" width="0.9" height="0.9" fill="#26268a" opacity="0.78"/><rect x="65.7" y="86.0" width="0.9" height="0.9" fill="#26268a" opacity="0.89"/><rect x="68.3" y="84.3" width="0.9" height="0.9" fill="#7a70c8" opacity="0.87"/><rect x="91.3" y="70.7" width="0.9" height="0.9" fill="#3a3a9e" opacity="0.51"/><rect x="94.7" y="66.4" width="0.9" height="0.9" fill="#26268a" opacity="0.75"/><rect x="93.2" y="71.2" width="0.9" height="0.9" fill="#7a70c8" opacity="0.70"/><rect x="79.7" y="83.9" width="0.9" height="0.9" fill="#7a70c8" opacity="0.89"/><rect x="67.7" y="85.1" width="0.9" height="0.9" fill="#7a70c8" opacity="0.61"/><rect x="82.5" y="82.5" width="0.9" height="0.9" fill="#3a3a9e" opacity="0.78"/><rect x="67.1" y="86.7" width="0.9" height="0.9" fill="#7a70c8" opacity="0.76"/><rect x="84.1" y="82.3" width="0.9" height="0.9" fill="#7a70c8" opacity="0.70"/><rect x="93.0" y="72.9" width="0.9" height="0.9" fill="#26268a" opacity="0.75"/><rect x="71.6" y="87.0" width="0.9" height="0.9" fill="#7a70c8" opacity="0.54"/></g>
<g><rect x="45.4" y="101.7" width="0.9" height="0.9" fill="#3a3a9e" opacity="0.64"/><rect x="52.8" y="101.0" width="0.9" height="0.9" fill="#26268a" opacity="0.83"/><rect x="55.2" y="101.7" width="0.9" height="0.9" fill="#26268a" opacity="0.63"/><rect x="83.6" y="100.9" width="0.9" height="0.9" fill="#5a4fb4" opacity="0.68"/><rect x="53.0" y="102.3" width="0.9" height="0.9" fill="#3a3a9e" opacity="0.58"/><rect x="73.3" y="100.8" width="0.9" height="0.9" fill="#5a4fb4" opacity="0.58"/><rect x="72.7" y="102.2" width="0.9" height="0.9" fill="#26268a" opacity="0.64"/><rect x="82.8" y="102.0" width="0.9" height="0.9" fill="#7a70c8" opacity="0.70"/><rect x="88.1" y="97.5" width="0.9" height="0.9" fill="#26268a" opacity="0.79"/><rect x="71.9" y="102.1" width="0.9" height="0.9" fill="#5a4fb4" opacity="0.59"/><rect x="44.7" y="102.6" width="0.9" height="0.9" fill="#3a3a9e" opacity="0.64"/><rect x="71.3" y="101.2" width="0.9" height="0.9" fill="#7a70c8" opacity="0.90"/><rect x="65.1" y="102.9" width="0.9" height="0.9" fill="#26268a" opacity="0.64"/><rect x="45.9" y="102.8" width="0.9" height="0.9" fill="#3a3a9e" opacity="0.87"/><rect x="45.7" y="101.7" width="0.9" height="0.9" fill="#7a70c8" opacity="0.99"/><rect x="48.4" y="102.0" width="0.9" height="0.9" fill="#7a70c8" opacity="0.73"/><rect x="64.3" y="101.0" width="0.9" height="0.9" fill="#26268a" opacity="0.63"/><rect x="59.7" y="102.4" width="0.9" height="0.9" fill="#7a70c8" opacity="0.93"/><rect x="86.7" y="100.0" width="0.9" height="0.9" fill="#5a4fb4" opacity="0.79"/><rect x="41.0" y="102.2" width="0.9" height="0.9" fill="#7a70c8" opacity="0.97"/><rect x="61.2" y="101.5" width="0.9" height="0.9" fill="#7a70c8" opacity="0.63"/><rect x="55.1" y="102.7" width="0.9" height="0.9" fill="#3a3a9e" opacity="0.52"/><rect x="68.1" y="101.9" width="0.9" height="0.9" fill="#26268a" opacity="0.52"/><rect x="55.7" y="101.7" width="0.9" height="0.9" fill="#26268a" opacity="0.79"/><rect x="54.2" y="102.6" width="0.9" height="0.9" fill="#5a4fb4" opacity="0.56"/><rect x="87.1" y="99.0" width="0.9" height="0.9" fill="#3a3a9e" opacity="0.50"/><rect x="52.5" y="101.6" width="0.9" height="0.9" fill="#3a3a9e" opacity="0.80"/><rect x="85.6" y="100.4" width="0.9" height="0.9" fill="#5a4fb4" opacity="0.86"/><rect x="85.6" y="102.3" width="0.9" height="0.9" fill="#3a3a9e" opacity="0.75"/><rect x="82.2" y="101.8" width="0.9" height="0.9" fill="#5a4fb4" opacity="0.75"/><rect x="52.3" y="101.3" width="0.9" height="0.9" fill="#5a4fb4" opacity="0.74"/><rect x="87.4" y="99.8" width="0.9" height="0.9" fill="#26268a" opacity="0.62"/><rect x="85.9" y="99.4" width="0.9" height="0.9" fill="#5a4fb4" opacity="0.90"/><rect x="46.5" y="102.1" width="0.9" height="0.9" fill="#26268a" opacity="0.85"/><rect x="47.0" y="102.0" width="0.9" height="0.9" fill="#7a70c8" opacity="0.53"/><rect x="45.3" y="102.8" width="0.9" height="0.9" fill="#5a4fb4" opacity="0.77"/><rect x="61.0" y="101.7" width="0.9" height="0.9" fill="#3a3a9e" opacity="0.57"/><rect x="73.5" y="101.8" width="0.9" height="0.9" fill="#3a3a9e" opacity="0.99"/><rect x="83.1" y="102.5" width="0.9" height="0.9" fill="#26268a" opacity="0.79"/><rect x="63.4" y="99.9" width="0.9" height="0.9" fill="#7a70c8" opacity="0.66"/><rect x="43.8" y="100.5" width="0.9" height="0.9" fill="#26268a" opacity="0.96"/><rect x="43.4" y="103.7" width="0.9" height="0.9" fill="#26268a" opacity="0.94"/><rect x="81.5" y="101.8" width="0.9" height="0.9" fill="#5a4fb4" opacity="0.52"/><rect x="88.3" y="98.4" width="0.9" height="0.9" fill="#3a3a9e" opacity="0.50"/><rect x="62.5" y="102.1" width="0.9" height="0.9" fill="#26268a" opacity="0.65"/><rect x="87.4" y="98.2" width="0.9" height="0.9" fill="#3a3a9e" opacity="0.64"/><rect x="69.7" y="100.9" width="0.9" height="0.9" fill="#3a3a9e" opacity="0.86"/><rect x="40.4" y="102.0" width="0.9" height="0.9" fill="#5a4fb4" opacity="0.95"/><rect x="82.8" y="100.9" width="0.9" height="0.9" fill="#5a4fb4" opacity="0.86"/><rect x="56.7" y="102.5" width="0.9" height="0.9" fill="#5a4fb4" opacity="0.57"/><rect x="87.4" y="99.6" width="0.9" height="0.9" fill="#3a3a9e" opacity="0.76"/><rect x="81.8" y="100.5" width="0.9" height="0.9" fill="#7a70c8" opacity="0.51"/><rect x="72.4" y="102.4" width="0.9" height="0.9" fill="#7a70c8" opacity="0.90"/><rect x="61.2" y="102.0" width="0.9" height="0.9" fill="#7a70c8" opacity="0.99"/><rect x="79.2" y="100.8" width="0.9" height="0.9" fill="#3a3a9e" opacity="0.69"/><rect x="66.1" y="102.7" width="0.9" height="0.9" fill="#26268a" opacity="0.88"/><rect x="81.5" y="102.0" width="0.9" height="0.9" fill="#26268a" opacity="0.62"/><rect x="44.5" y="103.3" width="0.9" height="0.9" fill="#26268a" opacity="0.51"/><rect x="73.8" y="101.3" width="0.9" height="0.9" fill="#7a70c8" opacity="0.73"/><rect x="84.3" y="100.1" width="0.9" height="0.9" fill="#26268a" opacity="0.81"/></g>
</g>
<path d="M37,89 C38,86.5 42,86 50,85.8 L76,85.6 C80.5,85.5 83,84.5 85.5,81.5 C88,78 91,72.5 93.8,68 C95,65.5 96,64 97,64.2 C98.3,64.8 98.2,67.5 97,71 C95.5,75 93.5,80 92,84 C90.5,88 90.4,93.5 89,96.8 C87.8,99.6 85.5,100.9 80,100.9 L44,100.9 C39.5,100.9 37,99.5 37,96.8 Z" fill="#26268a" filter="url(#bl)"/>
<path d="M37,89 C38,86.5 42,86 50,85.8 L76,85.6 C80.5,85.5 83,84.5 85.5,81.5 C88,78 91,72.5 93.8,68 C95,65.5 96,64 97,64.2 C98.3,64.8 98.2,67.5 97,71 C95.5,75 93.5,80 92,84 C90.5,88 90.4,93.5 89,96.8 C87.8,99.6 85.5,100.9 80,100.9 L44,100.9 C39.5,100.9 37,99.5 37,96.8 Z" fill="#4a40b0" filter="url(#er1)"/>
<path d="M37,89 C38,86.5 42,86 50,85.8 L76,85.6 C80.5,85.5 83,84.5 85.5,81.5 C88,78 91,72.5 93.8,68 C95,65.5 96,64 97,64.2 C98.3,64.8 98.2,67.5 97,71 C95.5,75 93.5,80 92,84 C90.5,88 90.4,93.5 89,96.8 C87.8,99.6 85.5,100.9 80,100.9 L44,100.9 C39.5,100.9 37,99.5 37,96.8 Z" fill="#a8a4e2" filter="url(#er2)"/>
<path d="M85.5,84.5 C88.5,80 91.5,74 95.5,66.5" fill="none" stroke="#2a2a8c" stroke-width="2.6" filter="url(#bl)"/>
<g fill="none" stroke="#4a48b8" stroke-width="0.5" opacity="0.9">
<path d="M60,89.5 C70,88.5 78,88.5 84,86.5"/><path d="M62,99 C72,99.3 80,99.2 86,97"/><path d="M44,89.5 C52,89 58,89 62,89.5"/>
</g>
<g filter="url(#bl)">
<path d="M41,95.2 C41,92.6 47,92.3 56,92.6 C62,92.8 67,93.5 67,95.2 C67,96.9 62,97.6 56,97.8 C47,98.1 41,97.8 41,95.2 Z" fill="#3a5ed6"/>
<path d="M42.3,95.2 C42.3,93.6 47,93.4 55,93.6 C60,93.8 64,94.3 64,95.2 C64,96.1 60,96.6 55,96.8 C47,97 42.3,96.8 42.3,95.2 Z" fill="#62d0ee"/>
<ellipse cx="48" cy="95.2" rx="4.2" ry="0.9" fill="#e0fbff"/>
<ellipse cx="73.8" cy="94.95" rx="7.0" ry="4.5" fill="#3454d0"/>
<ellipse cx="73.8" cy="94.95" rx="5.7" ry="3.7" fill="#3cc0e4"/>
<ellipse cx="73.8" cy="94.95" rx="4.3" ry="2.9" fill="#2fb04c"/>
<ellipse cx="73.8" cy="94.95" rx="2.9" ry="2.1" fill="#f0e22c"/>
<ellipse cx="73.8" cy="94.95" rx="1.6" ry="1.2" fill="#e4221e"/>
</g></g>
<g clip-path="url(#c2)">
<g filter="url(#bl3)">
<path d="M176,66 L190,46 L191,62 L187,84 L182,98 L174,105.5 L163,105.5 L171,99 L175,90 Z" fill="#5a5ab4" opacity="0.35"/>
<g><rect x="181.5" y="76.3" width="0.9" height="0.9" fill="#3a3a9e" opacity="0.99"/><rect x="189.3" y="73.3" width="0.9" height="0.9" fill="#3a3a9e" opacity="0.89"/><rect x="168.0" y="104.2" width="0.9" height="0.9" fill="#5a4fb4" opacity="0.46"/><rect x="182.3" y="75.7" width="0.9" height="0.9" fill="#3a3a9e" opacity="0.49"/><rect x="185.9" y="86.8" width="0.9" height="0.9" fill="#26268a" opacity="0.52"/><rect x="177.4" y="96.8" width="0.9" height="0.9" fill="#3a3a9e" opacity="0.64"/><rect x="172.6" y="104.3" width="0.9" height="0.9" fill="#7a70c8" opacity="0.62"/><rect x="186.7" y="57.4" width="0.9" height="0.9" fill="#7a70c8" opacity="0.45"/><rect x="178.6" y="81.7" width="0.9" height="0.9" fill="#5a4fb4" opacity="0.76"/><rect x="189.1" y="68.5" width="0.9" height="0.9" fill="#5a4fb4" opacity="0.59"/><rect x="169.4" y="102.5" width="0.9" height="0.9" fill="#3a3a9e" opacity="0.88"/><rect x="189.9" y="72.0" width="0.9" height="0.9" fill="#3a3a9e" opacity="0.98"/><rect x="180.4" y="100.1" width="0.9" height="0.9" fill="#7a70c8" opacity="0.73"/><rect x="176.4" y="72.0" width="0.9" height="0.9" fill="#7a70c8" opacity="0.48"/><rect x="172.5" y="98.3" width="0.9" height="0.9" fill="#5a4fb4" opacity="0.47"/><rect x="187.6" y="86.1" width="0.9" height="0.9" fill="#3a3a9e" opacity="0.99"/><rect x="184.4" y="76.3" width="0.9" height="0.9" fill="#5a4fb4" opacity="0.53"/><rect x="177.5" y="104.2" width="0.9" height="0.9" fill="#5a4fb4" opacity="0.89"/><rect x="187.9" y="83.5" width="0.9" height="0.9" fill="#7a70c8" opacity="0.72"/><rect x="188.5" y="76.1" width="0.9" height="0.9" fill="#3a3a9e" opacity="0.74"/><rect x="189.8" y="49.4" width="0.9" height="0.9" fill="#5a4fb4" opacity="0.80"/><rect x="187.1" y="82.5" width="0.9" height="0.9" fill="#5a4fb4" opacity="0.83"/><rect x="184.5" y="95.9" width="0.9" height="0.9" fill="#3a3a9e" opacity="0.52"/><rect x="179.0" y="67.1" width="0.9" height="0.9" fill="#7a70c8" opacity="0.94"/><rect x="187.3" y="59.9" width="0.9" height="0.9" fill="#26268a" opacity="0.78"/><rect x="178.1" y="92.0" width="0.9" height="0.9" fill="#26268a" opacity="0.88"/><rect x="188.4" y="65.4" width="0.9" height="0.9" fill="#7a70c8" opacity="0.97"/><rect x="178.2" y="91.3" width="0.9" height="0.9" fill="#5a4fb4" opacity="0.61"/><rect x="181.2" y="92.7" width="0.9" height="0.9" fill="#3a3a9e" opacity="0.49"/><rect x="190.8" y="54.3" width="0.9" height="0.9" fill="#26268a" opacity="0.81"/><rect x="181.3" y="95.7" width="0.9" height="0.9" fill="#7a70c8" opacity="0.73"/><rect x="183.3" y="75.8" width="0.9" height="0.9" fill="#7a70c8" opacity="0.93"/><rect x="175.5" y="73.2" width="0.9" height="0.9" fill="#3a3a9e" opacity="0.67"/><rect x="188.8" y="86.6" width="0.9" height="0.9" fill="#26268a" opacity="0.71"/><rect x="177.8" y="90.3" width="0.9" height="0.9" fill="#3a3a9e" opacity="0.88"/><rect x="181.3" y="92.8" width="0.9" height="0.9" fill="#5a4fb4" opacity="0.58"/><rect x="188.8" y="70.8" width="0.9" height="0.9" fill="#7a70c8" opacity="0.90"/><rect x="181.7" y="88.2" width="0.9" height="0.9" fill="#5a4fb4" opacity="0.50"/><rect x="188.4" y="77.9" width="0.9" height="0.9" fill="#3a3a9e" opacity="0.78"/><rect x="189.5" y="75.6" width="0.9" height="0.9" fill="#7a70c8" opacity="0.70"/><rect x="182.3" y="87.5" width="0.9" height="0.9" fill="#7a70c8" opacity="0.79"/><rect x="167.6" y="105.5" width="0.9" height="0.9" fill="#3a3a9e" opacity="0.47"/><rect x="180.8" y="89.3" width="0.9" height="0.9" fill="#3a3a9e" opacity="0.99"/><rect x="189.5" y="56.7" width="0.9" height="0.9" fill="#5a4fb4" opacity="0.55"/><rect x="188.7" y="73.5" width="0.9" height="0.9" fill="#26268a" opacity="0.62"/><rect x="175.8" y="100.1" width="0.9" height="0.9" fill="#3a3a9e" opacity="0.57"/><rect x="184.4" y="92.8" width="0.9" height="0.9" fill="#3a3a9e" opacity="0.53"/><rect x="177.9" y="79.1" width="0.9" height="0.9" fill="#7a70c8" opacity="0.71"/><rect x="185.8" y="67.9" width="0.9" height="0.9" fill="#5a4fb4" opacity="0.53"/><rect x="182.4" y="59.0" width="0.9" height="0.9" fill="#26268a" opacity="0.82"/><rect x="177.9" y="88.2" width="0.9" height="0.9" fill="#7a70c8" opacity="0.54"/><rect x="167.7" y="102.9" width="0.9" height="0.9" fill="#5a4fb4" opacity="0.67"/><rect x="183.0" y="90.9" width="0.9" height="0.9" fill="#7a70c8" opacity="0.49"/><rect x="186.5" y="60.6" width="0.9" height="0.9" fill="#26268a" opacity="0.85"/><rect x="180.8" y="85.3" width="0.9" height="0.9" fill="#3a3a9e" opacity="0.46"/><rect x="187.5" y="74.0" width="0.9" height="0.9" fill="#26268a" opacity="0.95"/><rect x="182.7" y="60.8" width="0.9" height="0.9" fill="#26268a" opacity="0.98"/><rect x="175.1" y="103.6" width="0.9" height="0.9" fill="#5a4fb4" opacity="0.46"/><rect x="180.8" y="92.6" width="0.9" height="0.9" fill="#3a3a9e" opacity="0.55"/><rect x="190.3" y="77.5" width="0.9" height="0.9" fill="#7a70c8" opacity="0.56"/><rect x="185.2" y="91.7" width="0.9" height="0.9" fill="#5a4fb4" opacity="0.95"/><rect x="187.5" y="81.8" width="0.9" height="0.9" fill="#26268a" opacity="0.95"/><rect x="184.3" y="60.5" width="0.9" height="0.9" fill="#5a4fb4" opacity="0.94"/><rect x="181.7" y="93.5" width="0.9" height="0.9" fill="#3a3a9e" opacity="0.81"/><rect x="186.4" y="82.6" width="0.9" height="0.9" fill="#5a4fb4" opacity="0.86"/><rect x="174.8" y="71.2" width="0.9" height="0.9" fill="#26268a" opacity="0.88"/><rect x="187.5" y="65.5" width="0.9" height="0.9" fill="#7a70c8" opacity="0.56"/><rect x="186.1" y="76.5" width="0.9" height="0.9" fill="#26268a" opacity="0.46"/><rect x="188.8" y="55.8" width="0.9" height="0.9" fill="#5a4fb4" opacity="0.70"/><rect x="180.6" y="88.9" width="0.9" height="0.9" fill="#5a4fb4" opacity="0.86"/><rect x="185.3" y="94.8" width="0.9" height="0.9" fill="#3a3a9e" opacity="0.78"/><rect x="173.7" y="98.1" width="0.9" height="0.9" fill="#5a4fb4" opacity="0.59"/><rect x="189.3" y="54.1" width="0.9" height="0.9" fill="#5a4fb4" opacity="0.81"/><rect x="185.1" y="77.2" width="0.9" height="0.9" fill="#26268a" opacity="0.83"/><rect x="183.1" y="72.4" width="0.9" height="0.9" fill="#26268a" opacity="0.87"/><rect x="180.6" y="78.1" width="0.9" height="0.9" fill="#3a3a9e" opacity="0.78"/><rect x="176.5" y="77.5" width="0.9" height="0.9" fill="#5a4fb4" opacity="0.69"/><rect x="165.6" y="104.1" width="0.9" height="0.9" fill="#3a3a9e" opacity="0.64"/><rect x="184.6" y="85.5" width="0.9" height="0.9" fill="#7a70c8" opacity="0.85"/><rect x="180.2" y="73.9" width="0.9" height="0.9" fill="#3a3a9e" opacity="0.46"/><rect x="181.7" y="74.8" width="0.9" height="0.9" fill="#3a3a9e" opacity="0.88"/><rect x="183.0" y="65.7" width="0.9" height="0.9" fill="#26268a" opacity="0.70"/><rect x="181.7" y="85.1" width="0.9" height="0.9" fill="#26268a" opacity="0.87"/><rect x="180.0" y="96.3" width="0.9" height="0.9" fill="#26268a" opacity="0.67"/><rect x="182.9" y="100.2" width="0.9" height="0.9" fill="#7a70c8" opacity="0.47"/><rect x="178.0" y="100.6" width="0.9" height="0.9" fill="#7a70c8" opacity="0.55"/><rect x="189.1" y="52.7" width="0.9" height="0.9" fill="#5a4fb4" opacity="0.88"/><rect x="183.7" y="79.3" width="0.9" height="0.9" fill="#3a3a9e" opacity="0.61"/><rect x="171.9" y="102.1" width="0.9" height="0.9" fill="#5a4fb4" opacity="0.48"/><rect x="173.4" y="94.8" width="0.9" height="0.9" fill="#3a3a9e" opacity="0.62"/><rect x="186.5" y="78.2" width="0.9" height="0.9" fill="#26268a" opacity="0.80"/><rect x="177.3" y="80.8" width="0.9" height="0.9" fill="#5a4fb4" opacity="0.85"/><rect x="180.8" y="73.7" width="0.9" height="0.9" fill="#26268a" opacity="0.68"/><rect x="170.6" y="99.2" width="0.9" height="0.9" fill="#5a4fb4" opacity="0.46"/><rect x="190.1" y="62.7" width="0.9" height="0.9" fill="#5a4fb4" opacity="0.74"/><rect x="180.5" y="97.1" width="0.9" height="0.9" fill="#5a4fb4" opacity="0.71"/><rect x="173.5" y="100.6" width="0.9" height="0.9" fill="#3a3a9e" opacity="0.61"/><rect x="184.5" y="89.1" width="0.9" height="0.9" fill="#26268a" opacity="0.93"/><rect x="190.4" y="57.9" width="0.9" height="0.9" fill="#7a70c8" opacity="0.47"/><rect x="180.0" y="102.1" width="0.9" height="0.9" fill="#3a3a9e" opacity="0.89"/><rect x="180.9" y="91.9" width="0.9" height="0.9" fill="#26268a" opacity="0.93"/><rect x="190.4" y="77.5" width="0.9" height="0.9" fill="#3a3a9e" opacity="0.98"/><rect x="182.0" y="73.4" width="0.9" height="0.9" fill="#5a4fb4" opacity="0.87"/><rect x="183.5" y="92.5" width="0.9" height="0.9" fill="#3a3a9e" opacity="0.70"/><rect x="178.3" y="65.5" width="0.9" height="0.9" fill="#7a70c8" opacity="0.93"/><rect x="189.7" y="80.7" width="0.9" height="0.9" fill="#5a4fb4" opacity="0.64"/><rect x="183.2" y="97.3" width="0.9" height="0.9" fill="#5a4fb4" opacity="0.70"/><rect x="178.8" y="86.4" width="0.9" height="0.9" fill="#5a4fb4" opacity="0.56"/><rect x="185.7" y="57.5" width="0.9" height="0.9" fill="#5a4fb4" opacity="0.47"/><rect x="185.5" y="88.9" width="0.9" height="0.9" fill="#26268a" opacity="0.47"/><rect x="182.8" y="61.7" width="0.9" height="0.9" fill="#3a3a9e" opacity="0.92"/><rect x="189.1" y="66.2" width="0.9" height="0.9" fill="#5a4fb4" opacity="0.63"/><rect x="183.9" y="70.7" width="0.9" height="0.9" fill="#5a4fb4" opacity="0.86"/><rect x="184.0" y="62.4" width="0.9" height="0.9" fill="#5a4fb4" opacity="0.58"/><rect x="186.4" y="93.4" width="0.9" height="0.9" fill="#3a3a9e" opacity="1.00"/><rect x="167.2" y="104.9" width="0.9" height="0.9" fill="#7a70c8" opacity="0.70"/><rect x="183.0" y="94.3" width="0.9" height="0.9" fill="#3a3a9e" opacity="0.85"/><rect x="174.9" y="76.7" width="0.9" height="0.9" fill="#7a70c8" opacity="0.95"/><rect x="188.6" y="84.4" width="0.9" height="0.9" fill="#26268a" opacity="0.85"/><rect x="176.5" y="81.9" width="0.9" height="0.9" fill="#5a4fb4" opacity="0.99"/><rect x="179.7" y="85.7" width="0.9" height="0.9" fill="#3a3a9e" opacity="0.62"/><rect x="189.1" y="56.4" width="0.9" height="0.9" fill="#7a70c8" opacity="0.81"/><rect x="179.5" y="93.4" width="0.9" height="0.9" fill="#7a70c8" opacity="0.75"/><rect x="186.8" y="86.8" width="0.9" height="0.9" fill="#7a70c8" opacity="0.60"/><rect x="177.6" y="72.8" width="0.9" height="0.9" fill="#3a3a9e" opacity="0.80"/><rect x="189.1" y="63.6" width="0.9" height="0.9" fill="#3a3a9e" opacity="0.99"/><rect x="178.7" y="101.4" width="0.9" height="0.9" fill="#26268a" opacity="0.97"/><rect x="177.5" y="83.2" width="0.9" height="0.9" fill="#5a4fb4" opacity="0.59"/><rect x="171.7" y="99.1" width="0.9" height="0.9" fill="#26268a" opacity="0.92"/><rect x="190.8" y="58.0" width="0.9" height="0.9" fill="#26268a" opacity="0.73"/><rect x="185.3" y="62.0" width="0.9" height="0.9" fill="#7a70c8" opacity="0.83"/><rect x="175.9" y="100.6" width="0.9" height="0.9" fill="#5a4fb4" opacity="0.96"/><rect x="181.4" y="98.6" width="0.9" height="0.9" fill="#7a70c8" opacity="0.61"/><rect x="184.0" y="61.6" width="0.9" height="0.9" fill="#5a4fb4" opacity="0.59"/><rect x="190.0" y="79.2" width="0.9" height="0.9" fill="#26268a" opacity="0.60"/><rect x="169.2" y="100.8" width="0.9" height="0.9" fill="#3a3a9e" opacity="0.51"/><rect x="188.9" y="83.7" width="0.9" height="0.9" fill="#26268a" opacity="0.98"/><rect x="187.0" y="76.4" width="0.9" height="0.9" fill="#3a3a9e" opacity="0.54"/><rect x="175.3" y="96.4" width="0.9" height="0.9" fill="#7a70c8" opacity="0.88"/><rect x="190.5" y="56.6" width="0.9" height="0.9" fill="#7a70c8" opacity="0.80"/><rect x="176.6" y="71.8" width="0.9" height="0.9" fill="#7a70c8" opacity="0.64"/><rect x="182.5" y="60.1" width="0.9" height="0.9" fill="#3a3a9e" opacity="0.50"/><rect x="190.5" y="50.3" width="0.9" height="0.9" fill="#7a70c8" opacity="0.89"/><rect x="184.0" y="64.1" width="0.9" height="0.9" fill="#7a70c8" opacity="0.48"/><rect x="186.9" y="74.9" width="0.9" height="0.9" fill="#7a70c8" opacity="0.81"/><rect x="186.2" y="92.9" width="0.9" height="0.9" fill="#26268a" opacity="0.68"/><rect x="185.6" y="89.8" width="0.9" height="0.9" fill="#5a4fb4" opacity="0.58"/><rect x="176.3" y="100.7" width="0.9" height="0.9" fill="#3a3a9e" opacity="0.62"/><rect x="186.9" y="64.8" width="0.9" height="0.9" fill="#5a4fb4" opacity="0.83"/><rect x="190.5" y="52.1" width="0.9" height="0.9" fill="#26268a" opacity="0.95"/><rect x="189.6" y="75.7" width="0.9" height="0.9" fill="#7a70c8" opacity="0.63"/><rect x="185.3" y="56.2" width="0.9" height="0.9" fill="#26268a" opacity="0.56"/><rect x="181.3" y="79.3" width="0.9" height="0.9" fill="#7a70c8" opacity="0.72"/><rect x="175.4" y="105.2" width="0.9" height="0.9" fill="#7a70c8" opacity="0.56"/><rect x="185.7" y="61.5" width="0.9" height="0.9" fill="#3a3a9e" opacity="0.46"/><rect x="181.9" y="60.0" width="0.9" height="0.9" fill="#5a4fb4" opacity="0.78"/><rect x="180.5" y="91.4" width="0.9" height="0.9" fill="#26268a" opacity="0.96"/><rect x="180.1" y="63.9" width="0.9" height="0.9" fill="#26268a" opacity="0.83"/><rect x="186.7" y="62.4" width="0.9" height="0.9" fill="#7a70c8" opacity="0.89"/><rect x="188.3" y="49.9" width="0.9" height="0.9" fill="#7a70c8" opacity="0.75"/><rect x="180.3" y="66.6" width="0.9" height="0.9" fill="#7a70c8" opacity="0.84"/><rect x="188.7" y="82.3" width="0.9" height="0.9" fill="#5a4fb4" opacity="0.90"/><rect x="182.8" y="63.5" width="0.9" height="0.9" fill="#5a4fb4" opacity="0.62"/><rect x="183.7" y="55.8" width="0.9" height="0.9" fill="#3a3a9e" opacity="0.76"/><rect x="186.5" y="78.2" width="0.9" height="0.9" fill="#3a3a9e" opacity="0.66"/><rect x="178.6" y="94.6" width="0.9" height="0.9" fill="#26268a" opacity="0.59"/><rect x="183.0" y="94.1" width="0.9" height="0.9" fill="#5a4fb4" opacity="0.66"/><rect x="177.4" y="101.7" width="0.9" height="0.9" fill="#26268a" opacity="0.72"/><rect x="181.5" y="98.2" width="0.9" height="0.9" fill="#3a3a9e" opacity="0.74"/><rect x="185.7" y="89.8" width="0.9" height="0.9" fill="#7a70c8" opacity="0.97"/><rect x="188.9" y="56.5" width="0.9" height="0.9" fill="#5a4fb4" opacity="0.91"/><rect x="168.6" y="101.8" width="0.9" height="0.9" fill="#3a3a9e" opacity="0.71"/><rect x="181.6" y="97.0" width="0.9" height="0.9" fill="#3a3a9e" opacity="0.97"/><rect x="187.2" y="66.5" width="0.9" height="0.9" fill="#3a3a9e" opacity="0.52"/><rect x="189.8" y="65.6" width="0.9" height="0.9" fill="#7a70c8" opacity="0.65"/><rect x="187.6" y="83.4" width="0.9" height="0.9" fill="#5a4fb4" opacity="0.93"/><rect x="179.1" y="97.5" width="0.9" height="0.9" fill="#3a3a9e" opacity="0.81"/><rect x="179.9" y="95.2" width="0.9" height="0.9" fill="#3a3a9e" opacity="0.72"/><rect x="176.0" y="98.0" width="0.9" height="0.9" fill="#3a3a9e" opacity="0.91"/><rect x="178.5" y="73.7" width="0.9" height="0.9" fill="#3a3a9e" opacity="0.53"/><rect x="187.7" y="78.5" width="0.9" height="0.9" fill="#26268a" opacity="0.64"/><rect x="178.1" y="66.8" width="0.9" height="0.9" fill="#7a70c8" opacity="0.96"/><rect x="183.5" y="73.8" width="0.9" height="0.9" fill="#7a70c8" opacity="0.57"/><rect x="181.9" y="59.1" width="0.9" height="0.9" fill="#3a3a9e" opacity="0.85"/><rect x="177.7" y="84.0" width="0.9" height="0.9" fill="#7a70c8" opacity="0.54"/><rect x="176.6" y="81.4" width="0.9" height="0.9" fill="#5a4fb4" opacity="0.75"/><rect x="190.9" y="75.9" width="0.9" height="0.9" fill="#5a4fb4" opacity="0.49"/><rect x="186.3" y="78.7" width="0.9" height="0.9" fill="#5a4fb4" opacity="0.66"/><rect x="182.6" y="95.0" width="0.9" height="0.9" fill="#26268a" opacity="0.55"/><rect x="184.7" y="70.9" width="0.9" height="0.9" fill="#7a70c8" opacity="0.51"/><rect x="184.8" y="57.9" width="0.9" height="0.9" fill="#26268a" opacity="0.47"/><rect x="182.7" y="57.4" width="0.9" height="0.9" fill="#3a3a9e" opacity="0.49"/><rect x="188.2" y="76.9" width="0.9" height="0.9" fill="#26268a" opacity="0.52"/><rect x="179.7" y="86.1" width="0.9" height="0.9" fill="#5a4fb4" opacity="0.52"/><rect x="187.5" y="78.3" width="0.9" height="0.9" fill="#5a4fb4" opacity="0.55"/><rect x="174.3" y="71.4" width="0.9" height="0.9" fill="#5a4fb4" opacity="0.87"/><rect x="179.0" y="72.9" width="0.9" height="0.9" fill="#26268a" opacity="0.69"/><rect x="190.5" y="55.6" width="0.9" height="0.9" fill="#7a70c8" opacity="0.80"/><rect x="181.8" y="95.4" width="0.9" height="0.9" fill="#5a4fb4" opacity="0.66"/><rect x="181.4" y="101.7" width="0.9" height="0.9" fill="#26268a" opacity="0.62"/><rect x="177.5" y="92.9" width="0.9" height="0.9" fill="#26268a" opacity="0.92"/><rect x="174.6" y="98.0" width="0.9" height="0.9" fill="#3a3a9e" opacity="0.64"/><rect x="188.3" y="88.9" width="0.9" height="0.9" fill="#3a3a9e" opacity="0.90"/><rect x="168.4" y="102.0" width="0.9" height="0.9" fill="#7a70c8" opacity="0.73"/><rect x="181.8" y="101.0" width="0.9" height="0.9" fill="#26268a" opacity="0.57"/><rect x="189.2" y="58.6" width="0.9" height="0.9" fill="#5a4fb4" opacity="0.48"/><rect x="184.9" y="73.4" width="0.9" height="0.9" fill="#7a70c8" opacity="0.46"/><rect x="175.0" y="73.8" width="0.9" height="0.9" fill="#3a3a9e" opacity="0.93"/><rect x="171.1" y="104.3" width="0.9" height="0.9" fill="#7a70c8" opacity="0.70"/><rect x="179.7" y="98.0" width="0.9" height="0.9" fill="#5a4fb4" opacity="0.79"/><rect x="179.3" y="67.5" width="0.9" height="0.9" fill="#26268a" opacity="0.91"/><rect x="172.8" y="104.1" width="0.9" height="0.9" fill="#7a70c8" opacity="0.45"/><rect x="183.8" y="85.0" width="0.9" height="0.9" fill="#7a70c8" opacity="0.95"/><rect x="190.4" y="55.8" width="0.9" height="0.9" fill="#26268a" opacity="1.00"/><rect x="189.0" y="78.4" width="0.9" height="0.9" fill="#7a70c8" opacity="0.89"/><rect x="172.2" y="101.9" width="0.9" height="0.9" fill="#3a3a9e" opacity="0.90"/><rect x="168.6" y="104.8" width="0.9" height="0.9" fill="#5a4fb4" opacity="0.89"/><rect x="178.2" y="101.6" width="0.9" height="0.9" fill="#26268a" opacity="0.92"/><rect x="175.7" y="96.8" width="0.9" height="0.9" fill="#7a70c8" opacity="0.51"/><rect x="189.1" y="82.4" width="0.9" height="0.9" fill="#7a70c8" opacity="0.55"/><rect x="187.6" y="55.6" width="0.9" height="0.9" fill="#3a3a9e" opacity="0.61"/><rect x="188.3" y="64.3" width="0.9" height="0.9" fill="#7a70c8" opacity="0.85"/><rect x="183.1" y="75.6" width="0.9" height="0.9" fill="#26268a" opacity="0.78"/><rect x="172.7" y="105.6" width="0.9" height="0.9" fill="#5a4fb4" opacity="0.47"/><rect x="178.4" y="75.6" width="0.9" height="0.9" fill="#5a4fb4" opacity="0.67"/><rect x="183.5" y="86.6" width="0.9" height="0.9" fill="#5a4fb4" opacity="0.95"/><rect x="175.4" y="72.6" width="0.9" height="0.9" fill="#7a70c8" opacity="0.82"/><rect x="186.3" y="56.8" width="0.9" height="0.9" fill="#26268a" opacity="0.76"/><rect x="178.9" y="82.9" width="0.9" height="0.9" fill="#26268a" opacity="0.79"/><rect x="187.3" y="67.2" width="0.9" height="0.9" fill="#7a70c8" opacity="0.89"/><rect x="185.6" y="57.2" width="0.9" height="0.9" fill="#26268a" opacity="0.70"/><rect x="181.2" y="61.7" width="0.9" height="0.9" fill="#3a3a9e" opacity="0.99"/><rect x="167.7" y="105.3" width="0.9" height="0.9" fill="#7a70c8" opacity="0.50"/><rect x="169.4" y="104.2" width="0.9" height="0.9" fill="#3a3a9e" opacity="0.78"/><rect x="178.6" y="65.6" width="0.9" height="0.9" fill="#7a70c8" opacity="0.58"/><rect x="188.9" y="48.4" width="0.9" height="0.9" fill="#7a70c8" opacity="0.61"/><rect x="188.4" y="83.8" width="0.9" height="0.9" fill="#7a70c8" opacity="0.76"/><rect x="182.6" y="86.4" width="0.9" height="0.9" fill="#5a4fb4" opacity="0.96"/><rect x="188.3" y="87.3" width="0.9" height="0.9" fill="#5a4fb4" opacity="0.60"/><rect x="177.3" y="85.3" width="0.9" height="0.9" fill="#7a70c8" opacity="0.93"/><rect x="185.6" y="55.1" width="0.9" height="0.9" fill="#7a70c8" opacity="0.87"/><rect x="176.9" y="84.5" width="0.9" height="0.9" fill="#26268a" opacity="0.55"/><rect x="184.2" y="71.0" width="0.9" height="0.9" fill="#26268a" opacity="0.99"/><rect x="177.2" y="83.8" width="0.9" height="0.9" fill="#7a70c8" opacity="0.55"/><rect x="190.5" y="71.5" width="0.9" height="0.9" fill="#3a3a9e" opacity="0.64"/><rect x="175.6" y="103.1" width="0.9" height="0.9" fill="#26268a" opacity="0.86"/><rect x="168.6" y="106.2" width="0.9" height="0.9" fill="#5a4fb4" opacity="0.49"/><rect x="166.5" y="103.3" width="0.9" height="0.9" fill="#26268a" opacity="0.83"/><rect x="190.5" y="57.3" width="0.9" height="0.9" fill="#7a70c8" opacity="0.79"/><rect x="182.3" y="92.6" width="0.9" height="0.9" fill="#5a4fb4" opacity="0.75"/><rect x="190.0" y="49.4" width="0.9" height="0.9" fill="#26268a" opacity="0.48"/><rect x="187.8" y="51.1" width="0.9" height="0.9" fill="#7a70c8" opacity="0.61"/><rect x="179.3" y="99.8" width="0.9" height="0.9" fill="#7a70c8" opacity="0.87"/><rect x="184.9" y="92.5" width="0.9" height="0.9" fill="#5a4fb4" opacity="0.73"/><rect x="177.1" y="101.4" width="0.9" height="0.9" fill="#26268a" opacity="0.53"/><rect x="181.2" y="75.6" width="0.9" height="0.9" fill="#7a70c8" opacity="0.82"/><rect x="183.9" y="68.6" width="0.9" height="0.9" fill="#26268a" opacity="0.80"/><rect x="187.4" y="89.5" width="0.9" height="0.9" fill="#7a70c8" opacity="0.98"/><rect x="189.5" y="52.8" width="0.9" height="0.9" fill="#3a3a9e" opacity="0.92"/><rect x="174.0" y="94.3" width="0.9" height="0.9" fill="#3a3a9e" opacity="0.98"/><rect x="188.7" y="85.6" width="0.9" height="0.9" fill="#5a4fb4" opacity="0.48"/><rect x="180.5" y="68.2" width="0.9" height="0.9" fill="#26268a" opacity="0.97"/><rect x="176.0" y="99.2" width="0.9" height="0.9" fill="#5a4fb4" opacity="0.46"/><rect x="184.1" y="60.9" width="0.9" height="0.9" fill="#26268a" opacity="1.00"/><rect x="185.5" y="74.2" width="0.9" height="0.9" fill="#3a3a9e" opacity="0.65"/><rect x="179.6" y="84.6" width="0.9" height="0.9" fill="#3a3a9e" opacity="0.64"/><rect x="189.8" y="69.1" width="0.9" height="0.9" fill="#7a70c8" opacity="0.96"/><rect x="180.1" y="83.2" width="0.9" height="0.9" fill="#5a4fb4" opacity="0.52"/><rect x="179.0" y="96.3" width="0.9" height="0.9" fill="#3a3a9e" opacity="0.49"/><rect x="188.1" y="86.4" width="0.9" height="0.9" fill="#3a3a9e" opacity="0.82"/><rect x="188.9" y="59.8" width="0.9" height="0.9" fill="#7a70c8" opacity="0.86"/><rect x="184.3" y="83.0" width="0.9" height="0.9" fill="#26268a" opacity="0.46"/><rect x="176.0" y="71.0" width="0.9" height="0.9" fill="#5a4fb4" opacity="0.67"/><rect x="173.7" y="104.3" width="0.9" height="0.9" fill="#5a4fb4" opacity="0.60"/><rect x="180.9" y="65.1" width="0.9" height="0.9" fill="#3a3a9e" opacity="0.78"/><rect x="180.0" y="103.7" width="0.9" height="0.9" fill="#5a4fb4" opacity="0.55"/><rect x="184.8" y="72.1" width="0.9" height="0.9" fill="#26268a" opacity="0.80"/><rect x="187.4" y="79.6" width="0.9" height="0.9" fill="#3a3a9e" opacity="0.75"/><rect x="190.9" y="63.8" width="0.9" height="0.9" fill="#5a4fb4" opacity="0.56"/><rect x="183.0" y="99.0" width="0.9" height="0.9" fill="#26268a" opacity="0.58"/><rect x="184.6" y="92.3" width="0.9" height="0.9" fill="#5a4fb4" opacity="0.97"/><rect x="185.9" y="76.0" width="0.9" height="0.9" fill="#26268a" opacity="0.77"/><rect x="188.9" y="53.0" width="0.9" height="0.9" fill="#7a70c8" opacity="0.88"/><rect x="179.1" y="73.7" width="0.9" height="0.9" fill="#5a4fb4" opacity="0.67"/><rect x="176.9" y="97.4" width="0.9" height="0.9" fill="#7a70c8" opacity="0.86"/><rect x="188.5" y="67.9" width="0.9" height="0.9" fill="#7a70c8" opacity="1.00"/><rect x="183.1" y="95.2" width="0.9" height="0.9" fill="#7a70c8" opacity="0.74"/><rect x="187.3" y="56.9" width="0.9" height="0.9" fill="#5a4fb4" opacity="0.76"/><rect x="186.4" y="74.3" width="0.9" height="0.9" fill="#5a4fb4" opacity="0.83"/><rect x="189.5" y="72.0" width="0.9" height="0.9" fill="#7a70c8" opacity="0.60"/><rect x="184.7" y="54.9" width="0.9" height="0.9" fill="#3a3a9e" opacity="0.76"/><rect x="190.7" y="60.0" width="0.9" height="0.9" fill="#3a3a9e" opacity="0.46"/><rect x="177.2" y="94.0" width="0.9" height="0.9" fill="#3a3a9e" opacity="0.93"/><rect x="176.8" y="79.1" width="0.9" height="0.9" fill="#3a3a9e" opacity="0.74"/><rect x="174.7" y="91.6" width="0.9" height="0.9" fill="#7a70c8" opacity="0.68"/><rect x="180.6" y="77.2" width="0.9" height="0.9" fill="#3a3a9e" opacity="0.86"/><rect x="179.9" y="99.2" width="0.9" height="0.9" fill="#5a4fb4" opacity="0.74"/><rect x="183.7" y="74.0" width="0.9" height="0.9" fill="#26268a" opacity="0.61"/><rect x="183.1" y="67.0" width="0.9" height="0.9" fill="#3a3a9e" opacity="0.89"/><rect x="186.8" y="83.2" width="0.9" height="0.9" fill="#3a3a9e" opacity="0.52"/><rect x="176.7" y="69.6" width="0.9" height="0.9" fill="#5a4fb4" opacity="0.63"/><rect x="190.6" y="53.0" width="0.9" height="0.9" fill="#26268a" opacity="0.67"/><rect x="184.9" y="93.2" width="0.9" height="0.9" fill="#7a70c8" opacity="0.80"/><rect x="189.6" y="68.8" width="0.9" height="0.9" fill="#5a4fb4" opacity="0.62"/><rect x="188.2" y="64.2" width="0.9" height="0.9" fill="#26268a" opacity="0.71"/><rect x="190.6" y="50.7" width="0.9" height="0.9" fill="#3a3a9e" opacity="0.58"/><rect x="189.9" y="66.7" width="0.9" height="0.9" fill="#3a3a9e" opacity="0.81"/><rect x="174.5" y="97.4" width="0.9" height="0.9" fill="#3a3a9e" opacity="0.74"/><rect x="176.3" y="82.4" width="0.9" height="0.9" fill="#7a70c8" opacity="0.68"/><rect x="186.0" y="73.3" width="0.9" height="0.9" fill="#3a3a9e" opacity="0.87"/><rect x="167.8" y="101.6" width="0.9" height="0.9" fill="#3a3a9e" opacity="0.99"/><rect x="189.7" y="76.5" width="0.9" height="0.9" fill="#26268a" opacity="0.51"/><rect x="185.3" y="96.8" width="0.9" height="0.9" fill="#3a3a9e" opacity="0.50"/><rect x="174.9" y="101.2" width="0.9" height="0.9" fill="#5a4fb4" opacity="0.94"/><rect x="190.9" y="63.6" width="0.9" height="0.9" fill="#7a70c8" opacity="0.78"/><rect x="190.3" y="74.5" width="0.9" height="0.9" fill="#26268a" opacity="0.77"/><rect x="178.9" y="63.4" width="0.9" height="0.9" fill="#26268a" opacity="0.46"/><rect x="179.6" y="85.2" width="0.9" height="0.9" fill="#7a70c8" opacity="0.98"/><rect x="187.0" y="52.4" width="0.9" height="0.9" fill="#5a4fb4" opacity="0.80"/><rect x="177.6" y="96.1" width="0.9" height="0.9" fill="#5a4fb4" opacity="0.94"/><rect x="188.8" y="76.9" width="0.9" height="0.9" fill="#26268a" opacity="0.46"/><rect x="181.1" y="64.9" width="0.9" height="0.9" fill="#7a70c8" opacity="0.58"/><rect x="174.6" y="99.0" width="0.9" height="0.9" fill="#26268a" opacity="0.88"/><rect x="180.6" y="83.0" width="0.9" height="0.9" fill="#7a70c8" opacity="0.78"/><rect x="186.7" y="71.2" width="0.9" height="0.9" fill="#7a70c8" opacity="0.69"/><rect x="190.6" y="58.1" width="0.9" height="0.9" fill="#3a3a9e" opacity="0.50"/><rect x="177.9" y="76.3" width="0.9" height="0.9" fill="#3a3a9e" opacity="0.49"/><rect x="190.8" y="50.5" width="0.9" height="0.9" fill="#5a4fb4" opacity="0.85"/><rect x="178.3" y="79.6" width="0.9" height="0.9" fill="#7a70c8" opacity="0.52"/><rect x="187.2" y="54.0" width="0.9" height="0.9" fill="#5a4fb4" opacity="0.47"/><rect x="186.2" y="56.1" width="0.9" height="0.9" fill="#26268a" opacity="0.87"/><rect x="183.5" y="61.9" width="0.9" height="0.9" fill="#26268a" opacity="0.87"/><rect x="177.8" y="66.1" width="0.9" height="0.9" fill="#7a70c8" opacity="0.55"/><rect x="189.1" y="71.9" width="0.9" height="0.9" fill="#7a70c8" opacity="0.89"/><rect x="181.0" y="95.1" width="0.9" height="0.9" fill="#26268a" opacity="0.84"/><rect x="180.9" y="89.8" width="0.9" height="0.9" fill="#26268a" opacity="0.82"/><rect x="189.7" y="75.3" width="0.9" height="0.9" fill="#3a3a9e" opacity="0.72"/><rect x="182.1" y="71.6" width="0.9" height="0.9" fill="#7a70c8" opacity="0.46"/><rect x="175.5" y="80.2" width="0.9" height="0.9" fill="#3a3a9e" opacity="0.70"/><rect x="185.8" y="93.0" width="0.9" height="0.9" fill="#26268a" opacity="0.60"/><rect x="185.2" y="88.9" width="0.9" height="0.9" fill="#7a70c8" opacity="0.95"/><rect x="178.8" y="97.4" width="0.9" height="0.9" fill="#5a4fb4" opacity="0.97"/><rect x="180.4" y="92.0" width="0.9" height="0.9" fill="#3a3a9e" opacity="0.85"/><rect x="176.3" y="101.8" width="0.9" height="0.9" fill="#7a70c8" opacity="0.76"/><rect x="185.9" y="64.6" width="0.9" height="0.9" fill="#5a4fb4" opacity="0.83"/><rect x="168.2" y="105.1" width="0.9" height="0.9" fill="#26268a" opacity="0.84"/><rect x="186.4" y="79.8" width="0.9" height="0.9" fill="#26268a" opacity="0.99"/><rect x="184.1" y="88.5" width="0.9" height="0.9" fill="#5a4fb4" opacity="0.47"/><rect x="179.4" y="80.8" width="0.9" height="0.9" fill="#26268a" opacity="0.74"/><rect x="182.2" y="90.0" width="0.9" height="0.9" fill="#5a4fb4" opacity="0.84"/><rect x="172.1" y="100.2" width="0.9" height="0.9" fill="#26268a" opacity="0.93"/><rect x="180.2" y="95.6" width="0.9" height="0.9" fill="#3a3a9e" opacity="0.53"/><rect x="190.2" y="65.9" width="0.9" height="0.9" fill="#5a4fb4" opacity="0.49"/><rect x="183.0" y="64.4" width="0.9" height="0.9" fill="#26268a" opacity="0.64"/><rect x="171.5" y="102.1" width="0.9" height="0.9" fill="#26268a" opacity="0.99"/><rect x="184.2" y="87.0" width="0.9" height="0.9" fill="#7a70c8" opacity="0.57"/><rect x="176.1" y="95.2" width="0.9" height="0.9" fill="#3a3a9e" opacity="0.85"/><rect x="177.9" y="78.8" width="0.9" height="0.9" fill="#26268a" opacity="0.66"/><rect x="176.4" y="102.2" width="0.9" height="0.9" fill="#26268a" opacity="0.80"/><rect x="176.9" y="91.1" width="0.9" height="0.9" fill="#5a4fb4" opacity="0.64"/><rect x="190.2" y="68.8" width="0.9" height="0.9" fill="#26268a" opacity="0.75"/><rect x="178.3" y="83.8" width="0.9" height="0.9" fill="#3a3a9e" opacity="0.65"/><rect x="181.6" y="63.0" width="0.9" height="0.9" fill="#26268a" opacity="0.50"/><rect x="177.9" y="67.6" width="0.9" height="0.9" fill="#3a3a9e" opacity="0.62"/><rect x="177.3" y="96.8" width="0.9" height="0.9" fill="#7a70c8" opacity="0.93"/><rect x="186.7" y="88.7" width="0.9" height="0.9" fill="#7a70c8" opacity="0.48"/><rect x="171.9" y="104.5" width="0.9" height="0.9" fill="#3a3a9e" opacity="0.48"/><rect x="185.2" y="73.8" width="0.9" height="0.9" fill="#3a3a9e" opacity="0.78"/><rect x="183.3" y="93.0" width="0.9" height="0.9" fill="#26268a" opacity="0.84"/><rect x="190.1" y="77.0" width="0.9" height="0.9" fill="#26268a" opacity="0.87"/><rect x="186.9" y="75.3" width="0.9" height="0.9" fill="#26268a" opacity="0.68"/><rect x="181.9" y="100.4" width="0.9" height="0.9" fill="#5a4fb4" opacity="0.54"/><rect x="181.7" y="85.4" width="0.9" height="0.9" fill="#5a4fb4" opacity="0.85"/><rect x="179.9" y="88.8" width="0.9" height="0.9" fill="#26268a" opacity="0.98"/><rect x="169.9" y="102.7" width="0.9" height="0.9" fill="#3a3a9e" opacity="0.72"/><rect x="180.8" y="75.6" width="0.9" height="0.9" fill="#26268a" opacity="0.50"/><rect x="185.5" y="73.8" width="0.9" height="0.9" fill="#26268a" opacity="0.56"/><rect x="188.4" y="83.0" width="0.9" height="0.9" fill="#5a4fb4" opacity="0.99"/><rect x="174.8" y="74.8" width="0.9" height="0.9" fill="#26268a" opacity="0.49"/><rect x="180.7" y="70.9" width="0.9" height="0.9" fill="#7a70c8" opacity="0.87"/><rect x="177.3" y="75.1" width="0.9" height="0.9" fill="#3a3a9e" opacity="0.73"/><rect x="186.5" y="57.1" width="0.9" height="0.9" fill="#7a70c8" opacity="0.73"/><rect x="182.2" y="95.6" width="0.9" height="0.9" fill="#5a4fb4" opacity="0.49"/><rect x="188.9" y="63.9" width="0.9" height="0.9" fill="#7a70c8" opacity="0.62"/><rect x="178.7" y="81.6" width="0.9" height="0.9" fill="#3a3a9e" opacity="0.60"/><rect x="190.5" y="70.3" width="0.9" height="0.9" fill="#3a3a9e" opacity="0.82"/><rect x="169.4" y="106.0" width="0.9" height="0.9" fill="#26268a" opacity="0.58"/><rect x="179.4" y="85.7" width="0.9" height="0.9" fill="#3a3a9e" opacity="0.84"/><rect x="186.5" y="52.8" width="0.9" height="0.9" fill="#5a4fb4" opacity="0.67"/><rect x="185.4" y="58.3" width="0.9" height="0.9" fill="#5a4fb4" opacity="0.88"/><rect x="183.5" y="98.2" width="0.9" height="0.9" fill="#5a4fb4" opacity="0.52"/><rect x="179.4" y="75.1" width="0.9" height="0.9" fill="#3a3a9e" opacity="0.55"/><rect x="188.8" y="75.3" width="0.9" height="0.9" fill="#5a4fb4" opacity="0.57"/><rect x="169.7" y="99.5" width="0.9" height="0.9" fill="#5a4fb4" opacity="0.99"/><rect x="179.3" y="62.8" width="0.9" height="0.9" fill="#5a4fb4" opacity="0.54"/><rect x="174.4" y="103.4" width="0.9" height="0.9" fill="#7a70c8" opacity="0.92"/><rect x="179.9" y="94.1" width="0.9" height="0.9" fill="#7a70c8" opacity="0.93"/><rect x="180.0" y="76.6" width="0.9" height="0.9" fill="#26268a" opacity="0.63"/><rect x="185.0" y="94.0" width="0.9" height="0.9" fill="#5a4fb4" opacity="0.67"/><rect x="184.2" y="69.1" width="0.9" height="0.9" fill="#26268a" opacity="0.47"/><rect x="180.3" y="92.1" width="0.9" height="0.9" fill="#26268a" opacity="0.47"/><rect x="178.1" y="99.2" width="0.9" height="0.9" fill="#7a70c8" opacity="0.56"/><rect x="175.7" y="69.6" width="0.9" height="0.9" fill="#26268a" opacity="0.56"/><rect x="175.3" y="94.0" width="0.9" height="0.9" fill="#7a70c8" opacity="0.97"/><rect x="177.7" y="77.3" width="0.9" height="0.9" fill="#26268a" opacity="0.74"/><rect x="178.0" y="92.8" width="0.9" height="0.9" fill="#7a70c8" opacity="0.88"/><rect x="167.3" y="103.4" width="0.9" height="0.9" fill="#3a3a9e" opacity="0.71"/><rect x="177.2" y="81.0" width="0.9" height="0.9" fill="#26268a" opacity="0.69"/><rect x="183.9" y="79.6" width="0.9" height="0.9" fill="#7a70c8" opacity="0.94"/><rect x="186.9" y="57.4" width="0.9" height="0.9" fill="#7a70c8" opacity="0.64"/><rect x="182.3" y="83.4" width="0.9" height="0.9" fill="#7a70c8" opacity="0.68"/><rect x="177.5" y="93.4" width="0.9" height="0.9" fill="#26268a" opacity="0.58"/><rect x="174.7" y="97.6" width="0.9" height="0.9" fill="#5a4fb4" opacity="0.52"/><rect x="175.7" y="102.8" width="0.9" height="0.9" fill="#3a3a9e" opacity="0.75"/><rect x="179.5" y="98.6" width="0.9" height="0.9" fill="#5a4fb4" opacity="0.64"/><rect x="177.0" y="70.7" width="0.9" height="0.9" fill="#5a4fb4" opacity="0.96"/><rect x="187.4" y="78.1" width="0.9" height="0.9" fill="#26268a" opacity="0.98"/><rect x="189.1" y="83.4" width="0.9" height="0.9" fill="#7a70c8" opacity="0.54"/><rect x="190.4" y="58.7" width="0.9" height="0.9" fill="#26268a" opacity="0.83"/><rect x="182.7" y="84.4" width="0.9" height="0.9" fill="#7a70c8" opacity="0.76"/><rect x="177.2" y="95.8" width="0.9" height="0.9" fill="#26268a" opacity="0.61"/><rect x="175.8" y="78.1" width="0.9" height="0.9" fill="#26268a" opacity="0.72"/><rect x="185.9" y="65.1" width="0.9" height="0.9" fill="#3a3a9e" opacity="0.69"/><rect x="178.8" y="85.3" width="0.9" height="0.9" fill="#7a70c8" opacity="0.47"/><rect x="190.8" y="62.4" width="0.9" height="0.9" fill="#5a4fb4" opacity="0.99"/><rect x="187.8" y="59.7" width="0.9" height="0.9" fill="#26268a" opacity="0.82"/><rect x="180.3" y="73.7" width="0.9" height="0.9" fill="#3a3a9e" opacity="0.76"/><rect x="183.5" y="67.5" width="0.9" height="0.9" fill="#26268a" opacity="0.68"/><rect x="186.0" y="57.3" width="0.9" height="0.9" fill="#5a4fb4" opacity="0.57"/><rect x="182.6" y="93.7" width="0.9" height="0.9" fill="#5a4fb4" opacity="0.57"/><rect x="188.8" y="76.9" width="0.9" height="0.9" fill="#5a4fb4" opacity="0.80"/><rect x="174.6" y="105.2" width="0.9" height="0.9" fill="#7a70c8" opacity="0.50"/><rect x="182.9" y="97.9" width="0.9" height="0.9" fill="#26268a" opacity="0.76"/><rect x="181.6" y="93.6" width="0.9" height="0.9" fill="#7a70c8" opacity="0.94"/><rect x="178.3" y="103.9" width="0.9" height="0.9" fill="#3a3a9e" opacity="0.77"/><rect x="178.3" y="96.3" width="0.9" height="0.9" fill="#5a4fb4" opacity="0.78"/><rect x="179.5" y="101.4" width="0.9" height="0.9" fill="#26268a" opacity="0.90"/><rect x="174.8" y="76.4" width="0.9" height="0.9" fill="#5a4fb4" opacity="0.79"/><rect x="176.8" y="69.2" width="0.9" height="0.9" fill="#3a3a9e" opacity="0.94"/><rect x="172.2" y="97.6" width="0.9" height="0.9" fill="#7a70c8" opacity="0.58"/><rect x="182.2" y="60.1" width="0.9" height="0.9" fill="#5a4fb4" opacity="0.71"/><rect x="190.5" y="77.5" width="0.9" height="0.9" fill="#3a3a9e" opacity="0.57"/><rect x="181.7" y="91.5" width="0.9" height="0.9" fill="#5a4fb4" opacity="0.94"/><rect x="184.8" y="70.1" width="0.9" height="0.9" fill="#3a3a9e" opacity="0.91"/><rect x="174.9" y="92.4" width="0.9" height="0.9" fill="#3a3a9e" opacity="0.75"/><rect x="183.5" y="89.8" width="0.9" height="0.9" fill="#5a4fb4" opacity="0.55"/><rect x="173.1" y="100.4" width="0.9" height="0.9" fill="#7a70c8" opacity="0.95"/><rect x="186.6" y="92.8" width="0.9" height="0.9" fill="#7a70c8" opacity="0.84"/><rect x="182.2" y="86.4" width="0.9" height="0.9" fill="#7a70c8" opacity="0.69"/><rect x="181.8" y="67.0" width="0.9" height="0.9" fill="#5a4fb4" opacity="0.69"/><rect x="190.8" y="60.1" width="0.9" height="0.9" fill="#7a70c8" opacity="0.59"/><rect x="178.8" y="99.1" width="0.9" height="0.9" fill="#7a70c8" opacity="0.84"/><rect x="181.8" y="92.6" width="0.9" height="0.9" fill="#26268a" opacity="0.73"/><rect x="187.7" y="64.7" width="0.9" height="0.9" fill="#26268a" opacity="0.84"/><rect x="177.6" y="92.8" width="0.9" height="0.9" fill="#3a3a9e" opacity="0.92"/><rect x="179.5" y="99.2" width="0.9" height="0.9" fill="#26268a" opacity="0.47"/><rect x="172.7" y="98.4" width="0.9" height="0.9" fill="#5a4fb4" opacity="0.47"/><rect x="184.2" y="90.9" width="0.9" height="0.9" fill="#5a4fb4" opacity="0.63"/><rect x="174.6" y="100.8" width="0.9" height="0.9" fill="#26268a" opacity="0.92"/><rect x="174.5" y="95.0" width="0.9" height="0.9" fill="#7a70c8" opacity="0.64"/><rect x="184.1" y="76.7" width="0.9" height="0.9" fill="#7a70c8" opacity="0.52"/><rect x="181.2" y="90.4" width="0.9" height="0.9" fill="#7a70c8" opacity="0.72"/><rect x="183.9" y="74.0" width="0.9" height="0.9" fill="#3a3a9e" opacity="0.73"/><rect x="179.2" y="100.1" width="0.9" height="0.9" fill="#26268a" opacity="0.92"/><rect x="182.5" y="90.1" width="0.9" height="0.9" fill="#5a4fb4" opacity="0.76"/><rect x="188.9" y="51.8" width="0.9" height="0.9" fill="#5a4fb4" opacity="0.57"/><rect x="179.2" y="101.9" width="0.9" height="0.9" fill="#5a4fb4" opacity="0.93"/><rect x="174.4" y="101.7" width="0.9" height="0.9" fill="#5a4fb4" opacity="0.55"/><rect x="173.7" y="94.1" width="0.9" height="0.9" fill="#7a70c8" opacity="0.50"/><rect x="187.1" y="63.6" width="0.9" height="0.9" fill="#7a70c8" opacity="0.75"/><rect x="166.5" y="103.3" width="0.9" height="0.9" fill="#3a3a9e" opacity="0.64"/><rect x="188.5" y="80.7" width="0.9" height="0.9" fill="#3a3a9e" opacity="0.75"/><rect x="186.6" y="90.7" width="0.9" height="0.9" fill="#5a4fb4" opacity="0.93"/><rect x="189.4" y="74.5" width="0.9" height="0.9" fill="#7a70c8" opacity="0.69"/><rect x="188.9" y="86.5" width="0.9" height="0.9" fill="#26268a" opacity="0.85"/><rect x="180.5" y="64.1" width="0.9" height="0.9" fill="#3a3a9e" opacity="0.80"/><rect x="176.7" y="96.0" width="0.9" height="0.9" fill="#5a4fb4" opacity="0.70"/><rect x="182.9" y="89.0" width="0.9" height="0.9" fill="#7a70c8" opacity="0.64"/><rect x="175.9" y="80.1" width="0.9" height="0.9" fill="#5a4fb4" opacity="0.74"/><rect x="183.0" y="94.2" width="0.9" height="0.9" fill="#7a70c8" opacity="0.56"/><rect x="181.4" y="68.9" width="0.9" height="0.9" fill="#26268a" opacity="0.88"/><rect x="183.5" y="57.6" width="0.9" height="0.9" fill="#26268a" opacity="0.89"/><rect x="189.4" y="50.3" width="0.9" height="0.9" fill="#3a3a9e" opacity="0.55"/><rect x="184.3" y="85.9" width="0.9" height="0.9" fill="#26268a" opacity="0.48"/><rect x="183.1" y="74.8" width="0.9" height="0.9" fill="#3a3a9e" opacity="0.89"/><rect x="175.9" y="83.9" width="0.9" height="0.9" fill="#3a3a9e" opacity="0.77"/><rect x="167.3" y="103.0" width="0.9" height="0.9" fill="#26268a" opacity="0.92"/><rect x="181.4" y="96.2" width="0.9" height="0.9" fill="#5a4fb4" opacity="0.62"/><rect x="179.6" y="62.1" width="0.9" height="0.9" fill="#26268a" opacity="0.88"/><rect x="181.1" y="93.4" width="0.9" height="0.9" fill="#7a70c8" opacity="0.68"/><rect x="173.9" y="97.0" width="0.9" height="0.9" fill="#5a4fb4" opacity="0.69"/><rect x="181.1" y="82.7" width="0.9" height="0.9" fill="#5a4fb4" opacity="0.73"/><rect x="190.8" y="63.5" width="0.9" height="0.9" fill="#7a70c8" opacity="0.61"/><rect x="187.7" y="72.4" width="0.9" height="0.9" fill="#7a70c8" opacity="0.70"/><rect x="171.3" y="100.9" width="0.9" height="0.9" fill="#5a4fb4" opacity="0.46"/><rect x="177.2" y="81.9" width="0.9" height="0.9" fill="#5a4fb4" opacity="0.90"/><rect x="183.9" y="55.9" width="0.9" height="0.9" fill="#3a3a9e" opacity="0.88"/><rect x="187.9" y="50.5" width="0.9" height="0.9" fill="#3a3a9e" opacity="0.88"/><rect x="181.8" y="70.4" width="0.9" height="0.9" fill="#7a70c8" opacity="0.55"/><rect x="181.7" y="92.3" width="0.9" height="0.9" fill="#5a4fb4" opacity="0.95"/><rect x="184.0" y="77.1" width="0.9" height="0.9" fill="#5a4fb4" opacity="0.48"/><rect x="189.7" y="68.7" width="0.9" height="0.9" fill="#5a4fb4" opacity="0.62"/><rect x="175.5" y="81.9" width="0.9" height="0.9" fill="#5a4fb4" opacity="0.80"/><rect x="188.3" y="89.3" width="0.9" height="0.9" fill="#5a4fb4" opacity="0.89"/><rect x="184.0" y="94.8" width="0.9" height="0.9" fill="#5a4fb4" opacity="0.87"/><rect x="176.1" y="85.7" width="0.9" height="0.9" fill="#3a3a9e" opacity="0.83"/><rect x="185.0" y="97.4" width="0.9" height="0.9" fill="#7a70c8" opacity="0.80"/><rect x="187.8" y="72.1" width="0.9" height="0.9" fill="#3a3a9e" opacity="0.86"/><rect x="188.7" y="66.9" width="0.9" height="0.9" fill="#26268a" opacity="0.85"/><rect x="187.7" y="83.0" width="0.9" height="0.9" fill="#26268a" opacity="0.85"/><rect x="171.1" y="100.8" width="0.9" height="0.9" fill="#26268a" opacity="0.48"/><rect x="187.5" y="76.5" width="0.9" height="0.9" fill="#3a3a9e" opacity="0.79"/><rect x="168.9" y="102.0" width="0.9" height="0.9" fill="#7a70c8" opacity="0.68"/><rect x="179.3" y="86.1" width="0.9" height="0.9" fill="#26268a" opacity="0.93"/><rect x="179.1" y="102.1" width="0.9" height="0.9" fill="#7a70c8" opacity="0.99"/><rect x="190.1" y="49.3" width="0.9" height="0.9" fill="#7a70c8" opacity="0.68"/><rect x="177.6" y="68.5" width="0.9" height="0.9" fill="#7a70c8" opacity="0.71"/><rect x="178.0" y="74.8" width="0.9" height="0.9" fill="#26268a" opacity="0.75"/><rect x="186.6" y="86.8" width="0.9" height="0.9" fill="#26268a" opacity="0.72"/><rect x="175.6" y="68.9" width="0.9" height="0.9" fill="#7a70c8" opacity="0.91"/></g>
<g><rect x="190.1" y="54.1" width="0.9" height="0.9" fill="#26268a" opacity="0.85"/><rect x="179.4" y="86.7" width="0.9" height="0.9" fill="#3a3a9e" opacity="0.92"/><rect x="185.4" y="70.9" width="0.9" height="0.9" fill="#26268a" opacity="0.83"/><rect x="190.0" y="49.5" width="0.9" height="0.9" fill="#3a3a9e" opacity="0.84"/><rect x="176.6" y="91.3" width="0.9" height="0.9" fill="#26268a" opacity="0.71"/><rect x="175.7" y="86.1" width="0.9" height="0.9" fill="#3a3a9e" opacity="0.62"/><rect x="180.9" y="69.7" width="0.9" height="0.9" fill="#26268a" opacity="0.72"/><rect x="177.8" y="79.8" width="0.9" height="0.9" fill="#3a3a9e" opacity="0.83"/><rect x="181.8" y="76.6" width="0.9" height="0.9" fill="#3a3a9e" opacity="0.64"/><rect x="179.1" y="69.4" width="0.9" height="0.9" fill="#26268a" opacity="0.80"/><rect x="188.8" y="55.9" width="0.9" height="0.9" fill="#3a3a9e" opacity="0.74"/><rect x="176.9" y="66.7" width="0.9" height="0.9" fill="#26268a" opacity="0.78"/><rect x="184.9" y="53.9" width="0.9" height="0.9" fill="#3a3a9e" opacity="1.00"/><rect x="185.6" y="73.4" width="0.9" height="0.9" fill="#26268a" opacity="0.86"/><rect x="177.4" y="91.5" width="0.9" height="0.9" fill="#3a3a9e" opacity="0.98"/><rect x="183.3" y="65.8" width="0.9" height="0.9" fill="#26268a" opacity="0.85"/><rect x="182.5" y="86.6" width="0.9" height="0.9" fill="#26268a" opacity="0.62"/><rect x="175.4" y="96.2" width="0.9" height="0.9" fill="#26268a" opacity="0.61"/><rect x="185.8" y="79.7" width="0.9" height="0.9" fill="#26268a" opacity="0.76"/><rect x="172.5" y="98.7" width="0.9" height="0.9" fill="#26268a" opacity="0.62"/><rect x="177.9" y="95.2" width="0.9" height="0.9" fill="#26268a" opacity="0.68"/><rect x="188.7" y="52.5" width="0.9" height="0.9" fill="#26268a" opacity="0.97"/><rect x="175.9" y="95.1" width="0.9" height="0.9" fill="#26268a" opacity="0.71"/><rect x="186.1" y="58.5" width="0.9" height="0.9" fill="#3a3a9e" opacity="0.94"/><rect x="183.4" y="56.2" width="0.9" height="0.9" fill="#3a3a9e" opacity="0.71"/><rect x="187.7" y="61.3" width="0.9" height="0.9" fill="#3a3a9e" opacity="0.71"/><rect x="173.3" y="94.6" width="0.9" height="0.9" fill="#3a3a9e" opacity="0.88"/><rect x="178.1" y="84.0" width="0.9" height="0.9" fill="#26268a" opacity="0.88"/><rect x="171.8" y="99.4" width="0.9" height="0.9" fill="#3a3a9e" opacity="0.69"/><rect x="181.1" y="90.5" width="0.9" height="0.9" fill="#26268a" opacity="0.65"/><rect x="176.6" y="98.9" width="0.9" height="0.9" fill="#3a3a9e" opacity="0.73"/><rect x="176.6" y="97.6" width="0.9" height="0.9" fill="#3a3a9e" opacity="0.65"/><rect x="189.3" y="55.3" width="0.9" height="0.9" fill="#3a3a9e" opacity="0.77"/><rect x="177.4" y="93.2" width="0.9" height="0.9" fill="#3a3a9e" opacity="0.69"/><rect x="179.7" y="62.2" width="0.9" height="0.9" fill="#26268a" opacity="0.64"/><rect x="181.7" y="71.8" width="0.9" height="0.9" fill="#3a3a9e" opacity="1.00"/><rect x="187.2" y="52.6" width="0.9" height="0.9" fill="#3a3a9e" opacity="0.73"/><rect x="184.2" y="58.0" width="0.9" height="0.9" fill="#26268a" opacity="0.97"/><rect x="182.2" y="72.6" width="0.9" height="0.9" fill="#26268a" opacity="0.76"/><rect x="179.6" y="95.4" width="0.9" height="0.9" fill="#3a3a9e" opacity="0.74"/><rect x="179.5" y="91.1" width="0.9" height="0.9" fill="#26268a" opacity="0.83"/><rect x="186.6" y="61.5" width="0.9" height="0.9" fill="#26268a" opacity="0.61"/><rect x="177.1" y="69.1" width="0.9" height="0.9" fill="#26268a" opacity="0.91"/><rect x="184.0" y="72.2" width="0.9" height="0.9" fill="#3a3a9e" opacity="0.70"/><rect x="184.3" y="79.2" width="0.9" height="0.9" fill="#26268a" opacity="0.84"/><rect x="177.3" y="67.7" width="0.9" height="0.9" fill="#26268a" opacity="0.62"/><rect x="182.7" y="63.9" width="0.9" height="0.9" fill="#26268a" opacity="0.65"/><rect x="177.8" y="83.6" width="0.9" height="0.9" fill="#3a3a9e" opacity="0.61"/><rect x="177.0" y="74.0" width="0.9" height="0.9" fill="#26268a" opacity="0.80"/><rect x="177.8" y="73.6" width="0.9" height="0.9" fill="#26268a" opacity="0.89"/><rect x="184.6" y="84.8" width="0.9" height="0.9" fill="#3a3a9e" opacity="0.82"/><rect x="176.8" y="91.5" width="0.9" height="0.9" fill="#3a3a9e" opacity="0.69"/><rect x="173.8" y="95.8" width="0.9" height="0.9" fill="#26268a" opacity="0.85"/><rect x="190.4" y="61.3" width="0.9" height="0.9" fill="#3a3a9e" opacity="0.85"/><rect x="175.7" y="88.1" width="0.9" height="0.9" fill="#3a3a9e" opacity="0.97"/><rect x="184.5" y="77.2" width="0.9" height="0.9" fill="#26268a" opacity="0.78"/><rect x="183.8" y="70.6" width="0.9" height="0.9" fill="#3a3a9e" opacity="0.85"/><rect x="188.0" y="68.6" width="0.9" height="0.9" fill="#3a3a9e" opacity="0.64"/><rect x="183.6" y="74.3" width="0.9" height="0.9" fill="#3a3a9e" opacity="0.72"/><rect x="171.6" y="98.1" width="0.9" height="0.9" fill="#3a3a9e" opacity="0.90"/><rect x="177.6" y="99.2" width="0.9" height="0.9" fill="#3a3a9e" opacity="0.81"/><rect x="176.5" y="95.8" width="0.9" height="0.9" fill="#3a3a9e" opacity="0.65"/><rect x="183.8" y="60.0" width="0.9" height="0.9" fill="#3a3a9e" opacity="0.87"/><rect x="172.4" y="96.3" width="0.9" height="0.9" fill="#26268a" opacity="0.70"/><rect x="177.5" y="87.0" width="0.9" height="0.9" fill="#3a3a9e" opacity="0.85"/><rect x="184.0" y="85.2" width="0.9" height="0.9" fill="#26268a" opacity="0.68"/><rect x="189.6" y="59.2" width="0.9" height="0.9" fill="#26268a" opacity="0.83"/><rect x="187.5" y="63.0" width="0.9" height="0.9" fill="#26268a" opacity="0.77"/><rect x="186.5" y="74.2" width="0.9" height="0.9" fill="#3a3a9e" opacity="0.76"/><rect x="186.1" y="56.1" width="0.9" height="0.9" fill="#3a3a9e" opacity="0.62"/><rect x="181.4" y="59.7" width="0.9" height="0.9" fill="#3a3a9e" opacity="0.69"/><rect x="184.2" y="86.0" width="0.9" height="0.9" fill="#26268a" opacity="0.83"/><rect x="186.8" y="67.9" width="0.9" height="0.9" fill="#26268a" opacity="0.74"/><rect x="180.8" y="75.1" width="0.9" height="0.9" fill="#3a3a9e" opacity="0.64"/><rect x="180.5" y="96.6" width="0.9" height="0.9" fill="#3a3a9e" opacity="0.68"/><rect x="178.1" y="93.3" width="0.9" height="0.9" fill="#3a3a9e" opacity="0.89"/><rect x="188.6" y="67.3" width="0.9" height="0.9" fill="#26268a" opacity="0.71"/><rect x="176.0" y="77.9" width="0.9" height="0.9" fill="#26268a" opacity="0.90"/><rect x="185.6" y="74.6" width="0.9" height="0.9" fill="#26268a" opacity="0.91"/><rect x="187.2" y="74.2" width="0.9" height="0.9" fill="#3a3a9e" opacity="0.63"/><rect x="177.4" y="74.0" width="0.9" height="0.9" fill="#3a3a9e" opacity="0.72"/><rect x="179.2" y="63.7" width="0.9" height="0.9" fill="#3a3a9e" opacity="0.84"/><rect x="182.5" y="69.0" width="0.9" height="0.9" fill="#3a3a9e" opacity="0.70"/><rect x="180.0" y="74.9" width="0.9" height="0.9" fill="#26268a" opacity="0.89"/><rect x="182.0" y="67.3" width="0.9" height="0.9" fill="#26268a" opacity="0.89"/><rect x="177.3" y="89.9" width="0.9" height="0.9" fill="#26268a" opacity="0.79"/><rect x="178.8" y="80.4" width="0.9" height="0.9" fill="#26268a" opacity="0.83"/><rect x="186.9" y="75.6" width="0.9" height="0.9" fill="#26268a" opacity="0.94"/><rect x="176.5" y="96.1" width="0.9" height="0.9" fill="#3a3a9e" opacity="0.68"/><rect x="186.5" y="77.1" width="0.9" height="0.9" fill="#26268a" opacity="0.82"/><rect x="185.2" y="59.3" width="0.9" height="0.9" fill="#26268a" opacity="0.71"/><rect x="186.9" y="78.1" width="0.9" height="0.9" fill="#3a3a9e" opacity="0.75"/><rect x="176.2" y="82.2" width="0.9" height="0.9" fill="#3a3a9e" opacity="0.70"/><rect x="189.4" y="48.8" width="0.9" height="0.9" fill="#3a3a9e" opacity="0.87"/><rect x="183.1" y="82.3" width="0.9" height="0.9" fill="#26268a" opacity="1.00"/><rect x="177.3" y="82.8" width="0.9" height="0.9" fill="#3a3a9e" opacity="0.81"/><rect x="185.7" y="52.4" width="0.9" height="0.9" fill="#26268a" opacity="0.70"/><rect x="185.8" y="68.7" width="0.9" height="0.9" fill="#3a3a9e" opacity="0.77"/><rect x="182.3" y="71.5" width="0.9" height="0.9" fill="#26268a" opacity="0.73"/><rect x="173.3" y="98.1" width="0.9" height="0.9" fill="#26268a" opacity="0.75"/><rect x="181.9" y="91.6" width="0.9" height="0.9" fill="#3a3a9e" opacity="0.89"/><rect x="176.4" y="76.2" width="0.9" height="0.9" fill="#26268a" opacity="0.86"/><rect x="182.9" y="70.9" width="0.9" height="0.9" fill="#26268a" opacity="0.73"/><rect x="172.6" y="97.6" width="0.9" height="0.9" fill="#3a3a9e" opacity="0.72"/><rect x="179.4" y="82.7" width="0.9" height="0.9" fill="#26268a" opacity="0.99"/><rect x="178.3" y="95.3" width="0.9" height="0.9" fill="#3a3a9e" opacity="0.92"/><rect x="181.4" y="59.9" width="0.9" height="0.9" fill="#26268a" opacity="0.73"/><rect x="179.1" y="69.4" width="0.9" height="0.9" fill="#3a3a9e" opacity="0.93"/><rect x="179.4" y="62.8" width="0.9" height="0.9" fill="#26268a" opacity="0.95"/><rect x="183.6" y="75.4" width="0.9" height="0.9" fill="#26268a" opacity="0.75"/><rect x="185.7" y="67.2" width="0.9" height="0.9" fill="#3a3a9e" opacity="0.71"/><rect x="178.7" y="75.3" width="0.9" height="0.9" fill="#26268a" opacity="0.94"/><rect x="181.1" y="82.6" width="0.9" height="0.9" fill="#26268a" opacity="0.87"/><rect x="185.1" y="68.5" width="0.9" height="0.9" fill="#3a3a9e" opacity="0.80"/><rect x="174.0" y="96.0" width="0.9" height="0.9" fill="#3a3a9e" opacity="0.80"/><rect x="171.0" y="99.8" width="0.9" height="0.9" fill="#26268a" opacity="0.67"/><rect x="177.6" y="67.6" width="0.9" height="0.9" fill="#26268a" opacity="0.89"/><rect x="186.9" y="57.9" width="0.9" height="0.9" fill="#3a3a9e" opacity="0.94"/><rect x="186.3" y="62.9" width="0.9" height="0.9" fill="#26268a" opacity="0.87"/><rect x="181.2" y="59.8" width="0.9" height="0.9" fill="#3a3a9e" opacity="0.82"/><rect x="183.9" y="83.9" width="0.9" height="0.9" fill="#26268a" opacity="0.85"/><rect x="185.7" y="64.7" width="0.9" height="0.9" fill="#3a3a9e" opacity="0.95"/><rect x="184.3" y="75.0" width="0.9" height="0.9" fill="#26268a" opacity="0.60"/><rect x="175.6" y="91.9" width="0.9" height="0.9" fill="#26268a" opacity="0.74"/><rect x="183.1" y="61.4" width="0.9" height="0.9" fill="#3a3a9e" opacity="0.95"/><rect x="179.7" y="87.3" width="0.9" height="0.9" fill="#26268a" opacity="1.00"/><rect x="184.9" y="81.6" width="0.9" height="0.9" fill="#3a3a9e" opacity="0.70"/><rect x="187.9" y="64.1" width="0.9" height="0.9" fill="#3a3a9e" opacity="0.67"/><rect x="179.3" y="74.0" width="0.9" height="0.9" fill="#3a3a9e" opacity="0.80"/><rect x="173.4" y="100.1" width="0.9" height="0.9" fill="#26268a" opacity="0.73"/><rect x="186.9" y="54.0" width="0.9" height="0.9" fill="#26268a" opacity="0.60"/><rect x="180.7" y="81.3" width="0.9" height="0.9" fill="#26268a" opacity="0.79"/><rect x="177.7" y="89.6" width="0.9" height="0.9" fill="#26268a" opacity="0.89"/><rect x="186.1" y="65.0" width="0.9" height="0.9" fill="#3a3a9e" opacity="0.98"/><rect x="175.2" y="88.4" width="0.9" height="0.9" fill="#26268a" opacity="0.81"/><rect x="188.7" y="66.4" width="0.9" height="0.9" fill="#3a3a9e" opacity="0.73"/><rect x="182.0" y="77.0" width="0.9" height="0.9" fill="#26268a" opacity="0.61"/><rect x="188.9" y="55.8" width="0.9" height="0.9" fill="#26268a" opacity="0.63"/><rect x="186.6" y="79.1" width="0.9" height="0.9" fill="#26268a" opacity="0.91"/><rect x="176.3" y="73.6" width="0.9" height="0.9" fill="#26268a" opacity="0.84"/><rect x="187.3" y="74.5" width="0.9" height="0.9" fill="#3a3a9e" opacity="0.92"/><rect x="176.2" y="84.0" width="0.9" height="0.9" fill="#26268a" opacity="0.68"/><rect x="186.3" y="70.5" width="0.9" height="0.9" fill="#26268a" opacity="0.93"/><rect x="180.9" y="88.9" width="0.9" height="0.9" fill="#3a3a9e" opacity="0.62"/><rect x="183.6" y="79.3" width="0.9" height="0.9" fill="#3a3a9e" opacity="0.76"/><rect x="173.0" y="102.7" width="0.9" height="0.9" fill="#3a3a9e" opacity="0.62"/><rect x="178.1" y="78.2" width="0.9" height="0.9" fill="#26268a" opacity="0.91"/><rect x="189.5" y="59.1" width="0.9" height="0.9" fill="#26268a" opacity="0.63"/><rect x="177.7" y="98.8" width="0.9" height="0.9" fill="#26268a" opacity="0.81"/><rect x="179.4" y="72.5" width="0.9" height="0.9" fill="#26268a" opacity="0.99"/><rect x="182.5" y="88.0" width="0.9" height="0.9" fill="#26268a" opacity="0.63"/><rect x="183.5" y="84.1" width="0.9" height="0.9" fill="#26268a" opacity="0.86"/><rect x="176.6" y="92.7" width="0.9" height="0.9" fill="#3a3a9e" opacity="0.87"/><rect x="182.2" y="57.2" width="0.9" height="0.9" fill="#26268a" opacity="0.77"/><rect x="178.9" y="86.8" width="0.9" height="0.9" fill="#26268a" opacity="0.85"/><rect x="184.5" y="73.9" width="0.9" height="0.9" fill="#26268a" opacity="0.78"/><rect x="185.1" y="54.3" width="0.9" height="0.9" fill="#26268a" opacity="0.95"/><rect x="184.1" y="55.9" width="0.9" height="0.9" fill="#3a3a9e" opacity="1.00"/><rect x="186.2" y="62.9" width="0.9" height="0.9" fill="#26268a" opacity="0.61"/><rect x="186.6" y="70.7" width="0.9" height="0.9" fill="#3a3a9e" opacity="0.86"/><rect x="179.7" y="69.2" width="0.9" height="0.9" fill="#3a3a9e" opacity="0.71"/><rect x="183.1" y="75.5" width="0.9" height="0.9" fill="#3a3a9e" opacity="0.80"/><rect x="183.4" y="74.0" width="0.9" height="0.9" fill="#3a3a9e" opacity="0.74"/><rect x="185.5" y="80.0" width="0.9" height="0.9" fill="#3a3a9e" opacity="0.71"/><rect x="185.7" y="71.9" width="0.9" height="0.9" fill="#3a3a9e" opacity="0.95"/><rect x="188.8" y="54.2" width="0.9" height="0.9" fill="#3a3a9e" opacity="0.79"/><rect x="181.1" y="82.7" width="0.9" height="0.9" fill="#26268a" opacity="0.90"/><rect x="183.1" y="75.1" width="0.9" height="0.9" fill="#26268a" opacity="0.72"/><rect x="183.8" y="57.3" width="0.9" height="0.9" fill="#3a3a9e" opacity="0.89"/><rect x="172.5" y="102.4" width="0.9" height="0.9" fill="#3a3a9e" opacity="0.97"/><rect x="184.4" y="70.8" width="0.9" height="0.9" fill="#3a3a9e" opacity="0.86"/><rect x="180.6" y="85.4" width="0.9" height="0.9" fill="#3a3a9e" opacity="0.88"/><rect x="188.2" y="71.0" width="0.9" height="0.9" fill="#26268a" opacity="0.83"/><rect x="177.0" y="97.2" width="0.9" height="0.9" fill="#26268a" opacity="0.85"/><rect x="177.5" y="67.4" width="0.9" height="0.9" fill="#3a3a9e" opacity="0.60"/><rect x="183.0" y="84.1" width="0.9" height="0.9" fill="#26268a" opacity="0.95"/><rect x="189.9" y="61.4" width="0.9" height="0.9" fill="#3a3a9e" opacity="0.70"/><rect x="175.8" y="73.1" width="0.9" height="0.9" fill="#26268a" opacity="0.75"/><rect x="181.8" y="88.0" width="0.9" height="0.9" fill="#26268a" opacity="0.60"/><rect x="184.7" y="81.2" width="0.9" height="0.9" fill="#26268a" opacity="0.63"/><rect x="189.6" y="51.0" width="0.9" height="0.9" fill="#26268a" opacity="0.61"/><rect x="181.8" y="71.3" width="0.9" height="0.9" fill="#26268a" opacity="0.90"/><rect x="175.9" y="93.3" width="0.9" height="0.9" fill="#26268a" opacity="0.94"/><rect x="189.2" y="65.0" width="0.9" height="0.9" fill="#3a3a9e" opacity="0.83"/><rect x="179.1" y="71.8" width="0.9" height="0.9" fill="#3a3a9e" opacity="0.79"/><rect x="186.9" y="77.0" width="0.9" height="0.9" fill="#3a3a9e" opacity="0.77"/><rect x="185.3" y="78.2" width="0.9" height="0.9" fill="#3a3a9e" opacity="0.81"/><rect x="180.5" y="61.5" width="0.9" height="0.9" fill="#26268a" opacity="0.91"/><rect x="183.8" y="71.6" width="0.9" height="0.9" fill="#3a3a9e" opacity="0.85"/><rect x="187.6" y="61.9" width="0.9" height="0.9" fill="#26268a" opacity="0.99"/><rect x="183.0" y="63.1" width="0.9" height="0.9" fill="#26268a" opacity="0.76"/><rect x="176.8" y="83.2" width="0.9" height="0.9" fill="#3a3a9e" opacity="0.88"/><rect x="190.0" y="58.1" width="0.9" height="0.9" fill="#3a3a9e" opacity="0.71"/><rect x="176.1" y="66.5" width="0.9" height="0.9" fill="#3a3a9e" opacity="0.69"/><rect x="182.6" y="59.3" width="0.9" height="0.9" fill="#3a3a9e" opacity="0.79"/><rect x="185.7" y="62.8" width="0.9" height="0.9" fill="#3a3a9e" opacity="0.91"/><rect x="180.3" y="68.2" width="0.9" height="0.9" fill="#3a3a9e" opacity="0.96"/><rect x="184.4" y="69.1" width="0.9" height="0.9" fill="#3a3a9e" opacity="0.62"/><rect x="172.6" y="97.3" width="0.9" height="0.9" fill="#3a3a9e" opacity="0.73"/><rect x="177.7" y="95.4" width="0.9" height="0.9" fill="#3a3a9e" opacity="0.65"/><rect x="187.1" y="72.5" width="0.9" height="0.9" fill="#3a3a9e" opacity="0.96"/><rect x="187.2" y="68.0" width="0.9" height="0.9" fill="#26268a" opacity="0.74"/><rect x="182.2" y="78.3" width="0.9" height="0.9" fill="#3a3a9e" opacity="0.64"/><rect x="184.1" y="74.7" width="0.9" height="0.9" fill="#3a3a9e" opacity="0.78"/><rect x="178.6" y="71.2" width="0.9" height="0.9" fill="#26268a" opacity="0.85"/><rect x="178.7" y="89.9" width="0.9" height="0.9" fill="#3a3a9e" opacity="0.80"/><rect x="180.6" y="75.0" width="0.9" height="0.9" fill="#26268a" opacity="0.96"/><rect x="176.3" y="81.1" width="0.9" height="0.9" fill="#26268a" opacity="0.62"/><rect x="181.6" y="80.3" width="0.9" height="0.9" fill="#26268a" opacity="0.63"/><rect x="173.3" y="102.7" width="0.9" height="0.9" fill="#26268a" opacity="0.83"/><rect x="183.0" y="78.9" width="0.9" height="0.9" fill="#26268a" opacity="0.75"/><rect x="179.6" y="75.3" width="0.9" height="0.9" fill="#26268a" opacity="0.71"/><rect x="183.3" y="57.8" width="0.9" height="0.9" fill="#26268a" opacity="0.86"/><rect x="175.2" y="98.2" width="0.9" height="0.9" fill="#3a3a9e" opacity="0.71"/><rect x="183.8" y="81.2" width="0.9" height="0.9" fill="#3a3a9e" opacity="0.64"/><rect x="181.7" y="85.3" width="0.9" height="0.9" fill="#3a3a9e" opacity="0.76"/><rect x="177.1" y="74.2" width="0.9" height="0.9" fill="#26268a" opacity="0.60"/><rect x="183.8" y="87.1" width="0.9" height="0.9" fill="#3a3a9e" opacity="0.73"/><rect x="181.8" y="76.9" width="0.9" height="0.9" fill="#3a3a9e" opacity="0.91"/><rect x="182.6" y="80.3" width="0.9" height="0.9" fill="#26268a" opacity="0.85"/><rect x="180.9" y="91.6" width="0.9" height="0.9" fill="#3a3a9e" opacity="0.72"/><rect x="179.3" y="89.7" width="0.9" height="0.9" fill="#26268a" opacity="0.97"/><rect x="183.0" y="70.2" width="0.9" height="0.9" fill="#26268a" opacity="0.70"/><rect x="187.0" y="76.9" width="0.9" height="0.9" fill="#3a3a9e" opacity="0.78"/><rect x="181.1" y="80.6" width="0.9" height="0.9" fill="#3a3a9e" opacity="0.90"/><rect x="188.6" y="64.6" width="0.9" height="0.9" fill="#26268a" opacity="0.68"/><rect x="171.5" y="98.7" width="0.9" height="0.9" fill="#26268a" opacity="0.96"/><rect x="186.4" y="72.5" width="0.9" height="0.9" fill="#3a3a9e" opacity="0.98"/><rect x="186.5" y="63.2" width="0.9" height="0.9" fill="#26268a" opacity="0.88"/><rect x="182.3" y="58.6" width="0.9" height="0.9" fill="#3a3a9e" opacity="0.65"/><rect x="181.2" y="93.6" width="0.9" height="0.9" fill="#26268a" opacity="0.65"/><rect x="180.2" y="63.7" width="0.9" height="0.9" fill="#26268a" opacity="0.72"/><rect x="188.2" y="59.7" width="0.9" height="0.9" fill="#26268a" opacity="0.99"/><rect x="178.8" y="73.1" width="0.9" height="0.9" fill="#3a3a9e" opacity="0.67"/><rect x="187.5" y="53.5" width="0.9" height="0.9" fill="#3a3a9e" opacity="0.68"/><rect x="186.4" y="65.9" width="0.9" height="0.9" fill="#26268a" opacity="0.99"/><rect x="184.0" y="85.9" width="0.9" height="0.9" fill="#26268a" opacity="0.69"/><rect x="187.1" y="67.1" width="0.9" height="0.9" fill="#26268a" opacity="0.67"/><rect x="189.1" y="48.6" width="0.9" height="0.9" fill="#26268a" opacity="0.99"/><rect x="184.0" y="59.8" width="0.9" height="0.9" fill="#26268a" opacity="0.95"/><rect x="188.2" y="49.5" width="0.9" height="0.9" fill="#3a3a9e" opacity="0.83"/><rect x="182.2" y="86.3" width="0.9" height="0.9" fill="#3a3a9e" opacity="0.66"/><rect x="183.2" y="56.5" width="0.9" height="0.9" fill="#26268a" opacity="0.71"/><rect x="182.5" y="70.7" width="0.9" height="0.9" fill="#26268a" opacity="0.69"/><rect x="183.0" y="61.6" width="0.9" height="0.9" fill="#3a3a9e" opacity="0.92"/><rect x="173.2" y="95.5" width="0.9" height="0.9" fill="#26268a" opacity="0.98"/><rect x="184.9" y="81.5" width="0.9" height="0.9" fill="#3a3a9e" opacity="0.60"/><rect x="182.4" y="76.3" width="0.9" height="0.9" fill="#3a3a9e" opacity="0.87"/><rect x="180.1" y="77.3" width="0.9" height="0.9" fill="#3a3a9e" opacity="0.72"/><rect x="175.4" y="84.6" width="0.9" height="0.9" fill="#3a3a9e" opacity="0.86"/><rect x="176.4" y="90.8" width="0.9" height="0.9" fill="#3a3a9e" opacity="0.61"/><rect x="187.0" y="61.4" width="0.9" height="0.9" fill="#3a3a9e" opacity="0.63"/><rect x="178.2" y="92.2" width="0.9" height="0.9" fill="#26268a" opacity="0.83"/><rect x="181.2" y="74.1" width="0.9" height="0.9" fill="#3a3a9e" opacity="0.61"/><rect x="175.3" y="88.1" width="0.9" height="0.9" fill="#3a3a9e" opacity="0.66"/><rect x="177.2" y="92.4" width="0.9" height="0.9" fill="#26268a" opacity="0.61"/><rect x="189.0" y="51.2" width="0.9" height="0.9" fill="#3a3a9e" opacity="0.96"/><rect x="173.8" y="99.4" width="0.9" height="0.9" fill="#3a3a9e" opacity="0.79"/><rect x="179.5" y="62.9" width="0.9" height="0.9" fill="#26268a" opacity="0.65"/><rect x="180.1" y="61.6" width="0.9" height="0.9" fill="#3a3a9e" opacity="0.77"/></g>
<g><rect x="185.2" y="52.2" width="0.9" height="0.9" fill="#26268a" opacity="0.36"/><rect x="146.9" y="74.0" width="0.9" height="0.9" fill="#7a70c8" opacity="0.69"/><rect x="137.1" y="81.7" width="0.9" height="0.9" fill="#3a3a9e" opacity="0.75"/><rect x="183.0" y="52.3" width="0.9" height="0.9" fill="#26268a" opacity="0.41"/><rect x="170.5" y="58.1" width="0.9" height="0.9" fill="#7a70c8" opacity="0.58"/><rect x="132.9" y="84.6" width="0.9" height="0.9" fill="#26268a" opacity="0.73"/><rect x="166.7" y="59.1" width="0.9" height="0.9" fill="#5a4fb4" opacity="0.72"/><rect x="178.5" y="51.2" width="0.9" height="0.9" fill="#5a4fb4" opacity="0.78"/><rect x="148.6" y="75.6" width="0.9" height="0.9" fill="#7a70c8" opacity="0.73"/><rect x="156.2" y="70.1" width="0.9" height="0.9" fill="#3a3a9e" opacity="0.47"/><rect x="139.2" y="78.6" width="0.9" height="0.9" fill="#3a3a9e" opacity="0.73"/><rect x="135.2" y="85.0" width="0.9" height="0.9" fill="#7a70c8" opacity="0.38"/><rect x="144.3" y="74.0" width="0.9" height="0.9" fill="#5a4fb4" opacity="0.42"/><rect x="181.2" y="50.6" width="0.9" height="0.9" fill="#5a4fb4" opacity="0.93"/><rect x="156.3" y="69.3" width="0.9" height="0.9" fill="#26268a" opacity="0.81"/><rect x="178.6" y="55.3" width="0.9" height="0.9" fill="#3a3a9e" opacity="0.56"/><rect x="137.6" y="80.8" width="0.9" height="0.9" fill="#7a70c8" opacity="0.46"/><rect x="185.3" y="47.3" width="0.9" height="0.9" fill="#26268a" opacity="0.76"/><rect x="152.8" y="71.9" width="0.9" height="0.9" fill="#26268a" opacity="0.98"/><rect x="177.2" y="56.3" width="0.9" height="0.9" fill="#26268a" opacity="0.70"/><rect x="186.4" y="47.1" width="0.9" height="0.9" fill="#7a70c8" opacity="0.67"/><rect x="130.6" y="83.6" width="0.9" height="0.9" fill="#5a4fb4" opacity="0.65"/><rect x="142.5" y="81.6" width="0.9" height="0.9" fill="#3a3a9e" opacity="0.41"/><rect x="161.4" y="64.1" width="0.9" height="0.9" fill="#3a3a9e" opacity="0.80"/><rect x="162.3" y="65.2" width="0.9" height="0.9" fill="#3a3a9e" opacity="0.94"/><rect x="155.9" y="70.0" width="0.9" height="0.9" fill="#5a4fb4" opacity="0.78"/><rect x="154.3" y="71.5" width="0.9" height="0.9" fill="#7a70c8" opacity="0.40"/><rect x="186.2" y="49.6" width="0.9" height="0.9" fill="#3a3a9e" opacity="0.70"/><rect x="154.0" y="69.5" width="0.9" height="0.9" fill="#26268a" opacity="0.89"/><rect x="136.9" y="84.3" width="0.9" height="0.9" fill="#3a3a9e" opacity="0.57"/><rect x="162.7" y="65.6" width="0.9" height="0.9" fill="#26268a" opacity="0.57"/><rect x="169.5" y="59.4" width="0.9" height="0.9" fill="#26268a" opacity="0.50"/><rect x="161.6" y="63.8" width="0.9" height="0.9" fill="#5a4fb4" opacity="0.35"/><rect x="151.7" y="72.3" width="0.9" height="0.9" fill="#3a3a9e" opacity="0.84"/><rect x="153.1" y="71.2" width="0.9" height="0.9" fill="#7a70c8" opacity="0.83"/><rect x="184.5" y="48.5" width="0.9" height="0.9" fill="#7a70c8" opacity="0.80"/><rect x="157.3" y="67.6" width="0.9" height="0.9" fill="#3a3a9e" opacity="0.69"/><rect x="146.0" y="73.7" width="0.9" height="0.9" fill="#26268a" opacity="0.50"/><rect x="133.3" y="84.6" width="0.9" height="0.9" fill="#26268a" opacity="0.79"/><rect x="164.6" y="62.7" width="0.9" height="0.9" fill="#5a4fb4" opacity="0.79"/><rect x="153.6" y="71.2" width="0.9" height="0.9" fill="#5a4fb4" opacity="0.45"/><rect x="131.0" y="83.5" width="0.9" height="0.9" fill="#7a70c8" opacity="0.84"/><rect x="179.7" y="50.7" width="0.9" height="0.9" fill="#7a70c8" opacity="0.49"/><rect x="144.6" y="76.0" width="0.9" height="0.9" fill="#3a3a9e" opacity="0.68"/><rect x="135.3" y="81.4" width="0.9" height="0.9" fill="#7a70c8" opacity="0.35"/><rect x="131.3" y="84.8" width="0.9" height="0.9" fill="#26268a" opacity="0.51"/><rect x="185.9" y="47.2" width="0.9" height="0.9" fill="#26268a" opacity="0.53"/><rect x="150.5" y="72.4" width="0.9" height="0.9" fill="#3a3a9e" opacity="0.75"/><rect x="175.7" y="57.2" width="0.9" height="0.9" fill="#5a4fb4" opacity="0.54"/><rect x="134.5" y="84.5" width="0.9" height="0.9" fill="#3a3a9e" opacity="0.38"/><rect x="136.2" y="81.6" width="0.9" height="0.9" fill="#3a3a9e" opacity="0.75"/><rect x="135.3" y="77.5" width="0.9" height="0.9" fill="#5a4fb4" opacity="0.65"/><rect x="170.0" y="57.6" width="0.9" height="0.9" fill="#26268a" opacity="0.74"/><rect x="163.7" y="63.1" width="0.9" height="0.9" fill="#5a4fb4" opacity="0.37"/><rect x="150.3" y="73.5" width="0.9" height="0.9" fill="#7a70c8" opacity="0.99"/><rect x="174.5" y="58.2" width="0.9" height="0.9" fill="#3a3a9e" opacity="0.70"/><rect x="179.2" y="52.4" width="0.9" height="0.9" fill="#3a3a9e" opacity="0.83"/><rect x="183.6" y="50.5" width="0.9" height="0.9" fill="#5a4fb4" opacity="0.65"/><rect x="169.3" y="62.9" width="0.9" height="0.9" fill="#5a4fb4" opacity="0.60"/><rect x="174.7" y="56.4" width="0.9" height="0.9" fill="#26268a" opacity="0.67"/><rect x="150.3" y="73.5" width="0.9" height="0.9" fill="#3a3a9e" opacity="0.49"/><rect x="154.4" y="72.6" width="0.9" height="0.9" fill="#26268a" opacity="0.38"/><rect x="172.3" y="57.7" width="0.9" height="0.9" fill="#7a70c8" opacity="0.59"/><rect x="184.8" y="48.8" width="0.9" height="0.9" fill="#26268a" opacity="0.79"/><rect x="156.3" y="70.5" width="0.9" height="0.9" fill="#7a70c8" opacity="0.98"/><rect x="162.3" y="67.9" width="0.9" height="0.9" fill="#7a70c8" opacity="0.88"/><rect x="139.5" y="78.7" width="0.9" height="0.9" fill="#7a70c8" opacity="0.99"/><rect x="156.5" y="69.3" width="0.9" height="0.9" fill="#26268a" opacity="0.60"/><rect x="152.1" y="72.2" width="0.9" height="0.9" fill="#7a70c8" opacity="0.58"/><rect x="184.2" y="49.4" width="0.9" height="0.9" fill="#5a4fb4" opacity="0.82"/><rect x="138.9" y="82.8" width="0.9" height="0.9" fill="#7a70c8" opacity="0.70"/><rect x="136.2" y="81.4" width="0.9" height="0.9" fill="#26268a" opacity="0.63"/><rect x="171.2" y="62.4" width="0.9" height="0.9" fill="#26268a" opacity="0.75"/><rect x="173.4" y="57.5" width="0.9" height="0.9" fill="#3a3a9e" opacity="0.70"/><rect x="139.8" y="77.0" width="0.9" height="0.9" fill="#5a4fb4" opacity="0.81"/><rect x="156.4" y="72.7" width="0.9" height="0.9" fill="#5a4fb4" opacity="0.57"/><rect x="173.2" y="58.6" width="0.9" height="0.9" fill="#3a3a9e" opacity="0.39"/><rect x="176.5" y="58.2" width="0.9" height="0.9" fill="#3a3a9e" opacity="0.78"/><rect x="137.5" y="84.7" width="0.9" height="0.9" fill="#26268a" opacity="0.97"/><rect x="162.8" y="62.8" width="0.9" height="0.9" fill="#26268a" opacity="0.98"/><rect x="129.4" y="82.0" width="0.9" height="0.9" fill="#26268a" opacity="0.68"/><rect x="145.6" y="76.5" width="0.9" height="0.9" fill="#7a70c8" opacity="1.00"/><rect x="167.9" y="62.4" width="0.9" height="0.9" fill="#26268a" opacity="0.78"/><rect x="136.6" y="80.7" width="0.9" height="0.9" fill="#3a3a9e" opacity="0.67"/><rect x="173.3" y="59.0" width="0.9" height="0.9" fill="#26268a" opacity="0.74"/><rect x="151.8" y="71.2" width="0.9" height="0.9" fill="#26268a" opacity="0.72"/><rect x="163.4" y="65.1" width="0.9" height="0.9" fill="#3a3a9e" opacity="0.44"/><rect x="128.9" y="83.9" width="0.9" height="0.9" fill="#7a70c8" opacity="0.36"/><rect x="158.1" y="66.6" width="0.9" height="0.9" fill="#26268a" opacity="0.89"/><rect x="141.7" y="78.7" width="0.9" height="0.9" fill="#26268a" opacity="0.44"/><rect x="135.7" y="78.1" width="0.9" height="0.9" fill="#7a70c8" opacity="0.84"/><rect x="139.9" y="77.2" width="0.9" height="0.9" fill="#3a3a9e" opacity="0.69"/><rect x="159.6" y="63.7" width="0.9" height="0.9" fill="#3a3a9e" opacity="0.90"/><rect x="144.0" y="74.8" width="0.9" height="0.9" fill="#26268a" opacity="0.89"/><rect x="173.4" y="61.6" width="0.9" height="0.9" fill="#3a3a9e" opacity="0.42"/><rect x="154.2" y="69.3" width="0.9" height="0.9" fill="#26268a" opacity="0.48"/><rect x="160.2" y="69.4" width="0.9" height="0.9" fill="#26268a" opacity="0.81"/><rect x="137.8" y="80.4" width="0.9" height="0.9" fill="#7a70c8" opacity="0.65"/><rect x="138.1" y="79.4" width="0.9" height="0.9" fill="#26268a" opacity="0.72"/><rect x="185.4" y="47.6" width="0.9" height="0.9" fill="#26268a" opacity="0.85"/><rect x="173.4" y="59.2" width="0.9" height="0.9" fill="#26268a" opacity="0.84"/><rect x="156.5" y="70.7" width="0.9" height="0.9" fill="#26268a" opacity="0.46"/><rect x="181.1" y="51.5" width="0.9" height="0.9" fill="#5a4fb4" opacity="0.55"/><rect x="177.0" y="56.3" width="0.9" height="0.9" fill="#7a70c8" opacity="0.86"/><rect x="134.6" y="81.1" width="0.9" height="0.9" fill="#26268a" opacity="0.46"/><rect x="180.8" y="52.2" width="0.9" height="0.9" fill="#26268a" opacity="0.37"/><rect x="180.0" y="53.7" width="0.9" height="0.9" fill="#26268a" opacity="0.90"/><rect x="167.6" y="59.2" width="0.9" height="0.9" fill="#5a4fb4" opacity="0.97"/><rect x="167.1" y="62.9" width="0.9" height="0.9" fill="#5a4fb4" opacity="0.43"/><rect x="145.3" y="75.7" width="0.9" height="0.9" fill="#7a70c8" opacity="0.79"/><rect x="139.6" y="79.3" width="0.9" height="0.9" fill="#3a3a9e" opacity="0.88"/><rect x="183.1" y="53.4" width="0.9" height="0.9" fill="#5a4fb4" opacity="0.71"/><rect x="179.4" y="50.8" width="0.9" height="0.9" fill="#26268a" opacity="0.86"/><rect x="168.8" y="61.3" width="0.9" height="0.9" fill="#26268a" opacity="0.53"/><rect x="135.6" y="81.1" width="0.9" height="0.9" fill="#5a4fb4" opacity="0.63"/><rect x="180.8" y="51.6" width="0.9" height="0.9" fill="#3a3a9e" opacity="0.74"/><rect x="176.7" y="54.3" width="0.9" height="0.9" fill="#3a3a9e" opacity="0.98"/><rect x="169.8" y="60.1" width="0.9" height="0.9" fill="#3a3a9e" opacity="0.67"/><rect x="148.4" y="74.4" width="0.9" height="0.9" fill="#5a4fb4" opacity="0.70"/><rect x="163.3" y="62.8" width="0.9" height="0.9" fill="#26268a" opacity="0.84"/><rect x="180.5" y="50.1" width="0.9" height="0.9" fill="#26268a" opacity="0.39"/><rect x="135.3" y="80.8" width="0.9" height="0.9" fill="#26268a" opacity="0.91"/><rect x="146.4" y="76.1" width="0.9" height="0.9" fill="#5a4fb4" opacity="0.57"/><rect x="163.4" y="65.2" width="0.9" height="0.9" fill="#7a70c8" opacity="0.95"/><rect x="187.3" y="46.9" width="0.9" height="0.9" fill="#7a70c8" opacity="0.94"/><rect x="174.4" y="59.4" width="0.9" height="0.9" fill="#5a4fb4" opacity="0.99"/><rect x="131.0" y="84.3" width="0.9" height="0.9" fill="#26268a" opacity="0.89"/><rect x="160.9" y="65.3" width="0.9" height="0.9" fill="#26268a" opacity="0.43"/><rect x="129.0" y="84.2" width="0.9" height="0.9" fill="#7a70c8" opacity="0.86"/><rect x="162.4" y="67.3" width="0.9" height="0.9" fill="#3a3a9e" opacity="0.78"/><rect x="142.0" y="81.5" width="0.9" height="0.9" fill="#3a3a9e" opacity="0.42"/><rect x="187.0" y="47.5" width="0.9" height="0.9" fill="#26268a" opacity="0.87"/><rect x="144.0" y="76.0" width="0.9" height="0.9" fill="#7a70c8" opacity="0.62"/><rect x="141.0" y="78.6" width="0.9" height="0.9" fill="#3a3a9e" opacity="0.96"/><rect x="186.0" y="48.1" width="0.9" height="0.9" fill="#5a4fb4" opacity="0.47"/><rect x="178.0" y="54.1" width="0.9" height="0.9" fill="#3a3a9e" opacity="0.49"/><rect x="129.1" y="85.2" width="0.9" height="0.9" fill="#7a70c8" opacity="0.41"/><rect x="138.9" y="78.3" width="0.9" height="0.9" fill="#3a3a9e" opacity="0.48"/><rect x="186.1" y="48.7" width="0.9" height="0.9" fill="#26268a" opacity="0.82"/><rect x="127.7" y="83.5" width="0.9" height="0.9" fill="#5a4fb4" opacity="0.38"/><rect x="162.0" y="62.8" width="0.9" height="0.9" fill="#7a70c8" opacity="0.92"/><rect x="174.4" y="57.0" width="0.9" height="0.9" fill="#3a3a9e" opacity="0.53"/><rect x="175.1" y="57.2" width="0.9" height="0.9" fill="#3a3a9e" opacity="0.42"/><rect x="187.3" y="46.9" width="0.9" height="0.9" fill="#3a3a9e" opacity="0.90"/><rect x="169.8" y="59.1" width="0.9" height="0.9" fill="#7a70c8" opacity="0.68"/><rect x="177.3" y="55.7" width="0.9" height="0.9" fill="#26268a" opacity="0.92"/><rect x="162.4" y="65.8" width="0.9" height="0.9" fill="#7a70c8" opacity="0.90"/><rect x="129.6" y="86.9" width="0.9" height="0.9" fill="#7a70c8" opacity="0.51"/><rect x="164.9" y="62.7" width="0.9" height="0.9" fill="#3a3a9e" opacity="0.67"/><rect x="133.7" y="81.9" width="0.9" height="0.9" fill="#5a4fb4" opacity="0.90"/><rect x="169.9" y="58.5" width="0.9" height="0.9" fill="#5a4fb4" opacity="0.54"/><rect x="175.8" y="60.5" width="0.9" height="0.9" fill="#7a70c8" opacity="0.51"/><rect x="184.1" y="53.1" width="0.9" height="0.9" fill="#7a70c8" opacity="0.76"/><rect x="152.0" y="72.9" width="0.9" height="0.9" fill="#7a70c8" opacity="0.94"/><rect x="143.0" y="79.2" width="0.9" height="0.9" fill="#3a3a9e" opacity="0.48"/><rect x="170.8" y="60.8" width="0.9" height="0.9" fill="#26268a" opacity="0.64"/><rect x="168.3" y="60.7" width="0.9" height="0.9" fill="#26268a" opacity="0.69"/><rect x="180.3" y="53.1" width="0.9" height="0.9" fill="#3a3a9e" opacity="0.37"/><rect x="177.4" y="56.3" width="0.9" height="0.9" fill="#26268a" opacity="0.81"/><rect x="187.4" y="49.0" width="0.9" height="0.9" fill="#5a4fb4" opacity="0.96"/><rect x="141.5" y="79.0" width="0.9" height="0.9" fill="#3a3a9e" opacity="0.88"/><rect x="151.7" y="72.8" width="0.9" height="0.9" fill="#7a70c8" opacity="0.45"/><rect x="172.8" y="59.4" width="0.9" height="0.9" fill="#7a70c8" opacity="0.50"/><rect x="142.2" y="78.2" width="0.9" height="0.9" fill="#5a4fb4" opacity="0.45"/><rect x="185.3" y="52.0" width="0.9" height="0.9" fill="#7a70c8" opacity="0.47"/><rect x="177.0" y="56.1" width="0.9" height="0.9" fill="#7a70c8" opacity="0.85"/><rect x="156.5" y="70.2" width="0.9" height="0.9" fill="#7a70c8" opacity="0.57"/><rect x="174.4" y="58.2" width="0.9" height="0.9" fill="#5a4fb4" opacity="0.97"/><rect x="168.8" y="59.4" width="0.9" height="0.9" fill="#26268a" opacity="0.58"/><rect x="170.3" y="63.0" width="0.9" height="0.9" fill="#5a4fb4" opacity="0.92"/><rect x="166.2" y="63.0" width="0.9" height="0.9" fill="#26268a" opacity="0.98"/><rect x="132.5" y="84.9" width="0.9" height="0.9" fill="#5a4fb4" opacity="0.40"/><rect x="133.9" y="84.4" width="0.9" height="0.9" fill="#26268a" opacity="0.57"/><rect x="148.6" y="74.9" width="0.9" height="0.9" fill="#26268a" opacity="0.51"/><rect x="147.2" y="71.2" width="0.9" height="0.9" fill="#3a3a9e" opacity="0.81"/><rect x="173.0" y="56.6" width="0.9" height="0.9" fill="#26268a" opacity="0.55"/><rect x="158.3" y="68.2" width="0.9" height="0.9" fill="#7a70c8" opacity="0.70"/><rect x="144.7" y="75.6" width="0.9" height="0.9" fill="#3a3a9e" opacity="0.74"/><rect x="139.3" y="78.6" width="0.9" height="0.9" fill="#7a70c8" opacity="0.74"/><rect x="152.9" y="70.1" width="0.9" height="0.9" fill="#3a3a9e" opacity="0.61"/><rect x="156.2" y="66.6" width="0.9" height="0.9" fill="#26268a" opacity="0.35"/><rect x="179.1" y="52.2" width="0.9" height="0.9" fill="#3a3a9e" opacity="0.36"/><rect x="156.1" y="71.9" width="0.9" height="0.9" fill="#7a70c8" opacity="0.55"/><rect x="168.8" y="60.9" width="0.9" height="0.9" fill="#5a4fb4" opacity="0.85"/><rect x="144.1" y="76.2" width="0.9" height="0.9" fill="#7a70c8" opacity="0.45"/><rect x="154.6" y="71.0" width="0.9" height="0.9" fill="#5a4fb4" opacity="0.60"/><rect x="136.8" y="80.9" width="0.9" height="0.9" fill="#5a4fb4" opacity="0.95"/><rect x="151.3" y="70.6" width="0.9" height="0.9" fill="#7a70c8" opacity="0.76"/><rect x="135.9" y="86.9" width="0.9" height="0.9" fill="#3a3a9e" opacity="0.81"/><rect x="129.6" y="84.0" width="0.9" height="0.9" fill="#5a4fb4" opacity="0.40"/><rect x="163.3" y="65.9" width="0.9" height="0.9" fill="#5a4fb4" opacity="0.59"/><rect x="174.4" y="59.1" width="0.9" height="0.9" fill="#3a3a9e" opacity="0.66"/><rect x="178.1" y="51.5" width="0.9" height="0.9" fill="#7a70c8" opacity="0.67"/><rect x="172.9" y="58.4" width="0.9" height="0.9" fill="#3a3a9e" opacity="0.78"/><rect x="150.9" y="73.2" width="0.9" height="0.9" fill="#7a70c8" opacity="0.80"/><rect x="137.6" y="80.7" width="0.9" height="0.9" fill="#26268a" opacity="0.58"/><rect x="178.1" y="54.8" width="0.9" height="0.9" fill="#5a4fb4" opacity="0.97"/><rect x="169.9" y="57.6" width="0.9" height="0.9" fill="#26268a" opacity="0.90"/><rect x="160.7" y="68.6" width="0.9" height="0.9" fill="#3a3a9e" opacity="0.96"/><rect x="149.7" y="72.2" width="0.9" height="0.9" fill="#7a70c8" opacity="0.75"/><rect x="149.2" y="75.1" width="0.9" height="0.9" fill="#3a3a9e" opacity="0.89"/><rect x="151.4" y="72.2" width="0.9" height="0.9" fill="#26268a" opacity="0.50"/><rect x="150.4" y="70.4" width="0.9" height="0.9" fill="#3a3a9e" opacity="0.45"/><rect x="168.1" y="62.4" width="0.9" height="0.9" fill="#7a70c8" opacity="0.79"/><rect x="161.0" y="66.5" width="0.9" height="0.9" fill="#7a70c8" opacity="0.89"/><rect x="146.4" y="74.7" width="0.9" height="0.9" fill="#7a70c8" opacity="0.89"/><rect x="148.4" y="72.0" width="0.9" height="0.9" fill="#5a4fb4" opacity="0.43"/><rect x="158.8" y="66.2" width="0.9" height="0.9" fill="#3a3a9e" opacity="0.48"/><rect x="142.5" y="76.6" width="0.9" height="0.9" fill="#5a4fb4" opacity="0.52"/><rect x="186.6" y="47.4" width="0.9" height="0.9" fill="#26268a" opacity="0.42"/><rect x="177.8" y="54.7" width="0.9" height="0.9" fill="#5a4fb4" opacity="0.59"/><rect x="166.1" y="64.6" width="0.9" height="0.9" fill="#3a3a9e" opacity="0.89"/><rect x="179.4" y="54.8" width="0.9" height="0.9" fill="#7a70c8" opacity="0.64"/><rect x="170.4" y="60.2" width="0.9" height="0.9" fill="#26268a" opacity="0.96"/><rect x="164.8" y="60.9" width="0.9" height="0.9" fill="#7a70c8" opacity="0.55"/><rect x="163.6" y="66.0" width="0.9" height="0.9" fill="#3a3a9e" opacity="0.81"/><rect x="157.7" y="69.6" width="0.9" height="0.9" fill="#26268a" opacity="0.67"/><rect x="150.4" y="72.9" width="0.9" height="0.9" fill="#26268a" opacity="0.83"/><rect x="127.9" y="83.7" width="0.9" height="0.9" fill="#5a4fb4" opacity="0.40"/><rect x="171.7" y="57.2" width="0.9" height="0.9" fill="#26268a" opacity="0.98"/><rect x="142.7" y="76.6" width="0.9" height="0.9" fill="#3a3a9e" opacity="0.79"/><rect x="178.6" y="52.3" width="0.9" height="0.9" fill="#7a70c8" opacity="0.53"/><rect x="156.6" y="70.0" width="0.9" height="0.9" fill="#26268a" opacity="0.85"/><rect x="149.0" y="74.1" width="0.9" height="0.9" fill="#5a4fb4" opacity="0.56"/><rect x="178.7" y="52.6" width="0.9" height="0.9" fill="#7a70c8" opacity="0.37"/><rect x="178.6" y="57.5" width="0.9" height="0.9" fill="#7a70c8" opacity="0.74"/><rect x="171.3" y="58.2" width="0.9" height="0.9" fill="#7a70c8" opacity="0.52"/><rect x="176.3" y="55.3" width="0.9" height="0.9" fill="#3a3a9e" opacity="0.61"/><rect x="180.7" y="52.7" width="0.9" height="0.9" fill="#5a4fb4" opacity="0.77"/><rect x="175.2" y="58.7" width="0.9" height="0.9" fill="#5a4fb4" opacity="0.97"/></g>
</g>
<path d="M127,87.5 L136,82.5 L143,78.6 L150,74.1 L157,69.6 L164,65.1 L172,59.9 L180,54.3 L185,50 L188.8,45.8 L189.6,50 L188,58 L184,67 L179.5,76 L176.5,85 L174.8,92 L172,98 L167,103 L160,105.6 L127,105.6 Z" fill="#26268a" filter="url(#rough)"/>
<path d="M127,87.5 L136,82.5 L143,78.6 L150,74.1 L157,69.6 L164,65.1 L172,59.9 L180,54.3 L185,50 L188.8,45.8 L189.6,50 L188,58 L184,67 L179.5,76 L176.5,85 L174.8,92 L172,98 L167,103 L160,105.6 L127,105.6 Z" fill="#4536a6" filter="url(#er1)"/>
<path d="M127,87.5 L136,82.5 L143,78.6 L150,74.1 L157,69.6 L164,65.1 L172,59.9 L180,54.3 L185,50 L188.8,45.8 L189.6,50 L188,58 L184,67 L179.5,76 L176.5,85 L174.8,92 L172,98 L167,103 L160,105.6 L127,105.6 Z" fill="#6c60c6" filter="url(#er2)"/>
<g fill="none" stroke="#2e2a90" stroke-width="0.5" opacity="0.7"><path d="M131,88 C138,86 146,83 152,78 C158,73 162,68 168,63"/><path d="M132,91 C140,89 148,86 154,81"/><path d="M158,102 C166,98 170,90 172,80 C174,72 178,64 184,56"/><path d="M150,103.5 C160,102 166,96 169,88"/></g>
<g filter="url(#bl)" fill="none" stroke-linecap="round" stroke-linejoin="round">
<path d="M146,96 C150,95.5 154,93.5 157,90.5 C159.5,87.5 161.5,82 163,77 C164,74 165,71.5 166.5,69.5" stroke="#3a46c8" stroke-width="12"/>
<path d="M165.5,70.5 C168,66.5 171.5,62 177.5,57" stroke="#4a4ec8" stroke-width="6.5"/>
<path d="M165.5,70.5 C168,66.5 171.5,62 177.5,57" stroke="#7e86d6" stroke-width="3.6"/>
</g>
<g filter="url(#bl)">
<ellipse cx="140" cy="96.6" rx="13.5" ry="7.6" fill="#3a46c8"/>
<ellipse cx="140" cy="96.6" rx="12.2" ry="6.8" fill="#3ec0e4"/>
</g>
<g filter="url(#bl)" fill="none" stroke-linecap="round" stroke-linejoin="round">
<path d="M146,96 C150,95.5 154,93.5 157,90.5 C159.5,87.5 161.5,82 163,77 C164,74 165,71.5 166.5,69.5" stroke="#3ec0e4" stroke-width="8.8"/>
<path d="M146,96 C150,95.5 154,93.5 157,90.5 C159.5,87.5 161.5,82 163,77 C164,74 165,71.5 166.5,69.5" stroke="#a4e6f0" stroke-width="6.4"/>
<path d="M165.5,70 C167.5,67 169.5,64.5 172,62.5" stroke="#a8e2f2" stroke-width="3.4"/>
</g>
<g filter="url(#bl)">
<ellipse cx="140" cy="96.7" rx="10.8" ry="5.3" fill="#36b24c"/>
</g>
<g filter="url(#bl)" fill="none" stroke-linecap="round" stroke-linejoin="round">
<path d="M146,96 C150,95.5 154,93.5 157,90.5 C159.5,87.5 161.5,82 163,77 C163.8,74.5 164.6,72.5 165.6,71" stroke="#36b24c" stroke-width="4.4"/>
<path d="M144,96.2 C150,95.7 154,93.5 157,90.5 C159.5,87.5 161.5,82 163,77 C163.6,75 164.2,73.5 164.8,72.5" stroke="#f2f6b0" stroke-width="1.2" stroke-dasharray="1.3 1.1"/>
<path d="M171,62.5 L178,57" stroke="#f4f4fc" stroke-width="1" stroke-dasharray="1.4 1"/>
<path d="M173.5,64 L180,59" stroke="#e0e0f6" stroke-width="0.8" stroke-dasharray="1.4 1"/>
</g>
<g filter="url(#bl)">
<ellipse cx="138" cy="96.8" rx="8.6" ry="3.4" fill="#f0e62e"/>
<ellipse cx="136.2" cy="97.1" rx="4.2" ry="2.3" fill="#f29a22"/>
<ellipse cx="135.8" cy="97.2" rx="2.6" ry="1.5" fill="#e4221e"/>
</g></g>
<g clip-path="url(#c3)">
<g filter="url(#bl3)">
<g><rect x="221.2" y="85.6" width="0.9" height="0.9" fill="#26268a" opacity="0.44"/><rect x="227.6" y="82.9" width="0.9" height="0.9" fill="#3a3a9e" opacity="0.81"/><rect x="229.1" y="81.7" width="0.9" height="0.9" fill="#26268a" opacity="0.44"/><rect x="252.5" y="67.2" width="0.9" height="0.9" fill="#7a70c8" opacity="0.69"/><rect x="232.9" y="79.0" width="0.9" height="0.9" fill="#7a70c8" opacity="0.57"/><rect x="233.0" y="79.1" width="0.9" height="0.9" fill="#7a70c8" opacity="0.59"/><rect x="277.3" y="52.9" width="0.9" height="0.9" fill="#26268a" opacity="0.97"/><rect x="270.9" y="57.6" width="0.9" height="0.9" fill="#5a4fb4" opacity="0.44"/><rect x="229.7" y="81.5" width="0.9" height="0.9" fill="#26268a" opacity="0.83"/><rect x="272.2" y="55.0" width="0.9" height="0.9" fill="#3a3a9e" opacity="0.49"/><rect x="246.4" y="71.1" width="0.9" height="0.9" fill="#3a3a9e" opacity="0.66"/><rect x="237.1" y="78.4" width="0.9" height="0.9" fill="#5a4fb4" opacity="0.57"/><rect x="244.1" y="71.8" width="0.9" height="0.9" fill="#3a3a9e" opacity="0.98"/><rect x="276.5" y="49.5" width="0.9" height="0.9" fill="#5a4fb4" opacity="0.93"/><rect x="255.3" y="68.0" width="0.9" height="0.9" fill="#5a4fb4" opacity="0.41"/><rect x="231.9" y="78.9" width="0.9" height="0.9" fill="#5a4fb4" opacity="0.80"/><rect x="225.3" y="80.4" width="0.9" height="0.9" fill="#3a3a9e" opacity="0.42"/><rect x="233.7" y="81.0" width="0.9" height="0.9" fill="#5a4fb4" opacity="0.64"/><rect x="267.2" y="57.3" width="0.9" height="0.9" fill="#26268a" opacity="0.92"/><rect x="258.1" y="62.9" width="0.9" height="0.9" fill="#3a3a9e" opacity="0.48"/><rect x="230.8" y="81.4" width="0.9" height="0.9" fill="#26268a" opacity="0.67"/><rect x="267.3" y="57.8" width="0.9" height="0.9" fill="#5a4fb4" opacity="0.91"/><rect x="276.4" y="50.4" width="0.9" height="0.9" fill="#26268a" opacity="0.67"/><rect x="267.9" y="57.8" width="0.9" height="0.9" fill="#7a70c8" opacity="0.98"/><rect x="265.9" y="58.3" width="0.9" height="0.9" fill="#7a70c8" opacity="0.58"/><rect x="221.5" y="86.8" width="0.9" height="0.9" fill="#7a70c8" opacity="0.73"/><rect x="248.1" y="71.7" width="0.9" height="0.9" fill="#26268a" opacity="0.95"/><rect x="273.8" y="55.7" width="0.9" height="0.9" fill="#3a3a9e" opacity="0.97"/><rect x="272.3" y="55.6" width="0.9" height="0.9" fill="#7a70c8" opacity="0.50"/><rect x="231.8" y="78.4" width="0.9" height="0.9" fill="#7a70c8" opacity="0.55"/><rect x="269.2" y="56.6" width="0.9" height="0.9" fill="#5a4fb4" opacity="0.83"/><rect x="277.7" y="54.1" width="0.9" height="0.9" fill="#7a70c8" opacity="0.73"/><rect x="230.9" y="81.0" width="0.9" height="0.9" fill="#7a70c8" opacity="0.48"/><rect x="235.4" y="77.7" width="0.9" height="0.9" fill="#5a4fb4" opacity="0.48"/><rect x="273.9" y="55.1" width="0.9" height="0.9" fill="#5a4fb4" opacity="0.83"/><rect x="270.4" y="58.6" width="0.9" height="0.9" fill="#26268a" opacity="0.66"/><rect x="269.9" y="56.8" width="0.9" height="0.9" fill="#7a70c8" opacity="0.88"/><rect x="243.7" y="75.6" width="0.9" height="0.9" fill="#7a70c8" opacity="0.37"/><rect x="247.4" y="71.1" width="0.9" height="0.9" fill="#5a4fb4" opacity="0.57"/><rect x="261.3" y="60.1" width="0.9" height="0.9" fill="#5a4fb4" opacity="0.42"/><rect x="235.0" y="81.5" width="0.9" height="0.9" fill="#7a70c8" opacity="0.93"/><rect x="247.7" y="70.5" width="0.9" height="0.9" fill="#5a4fb4" opacity="0.78"/><rect x="246.6" y="72.9" width="0.9" height="0.9" fill="#7a70c8" opacity="0.89"/><rect x="278.2" y="51.3" width="0.9" height="0.9" fill="#5a4fb4" opacity="0.60"/><rect x="264.9" y="57.9" width="0.9" height="0.9" fill="#5a4fb4" opacity="0.61"/><rect x="267.4" y="60.7" width="0.9" height="0.9" fill="#3a3a9e" opacity="0.51"/><rect x="228.6" y="79.9" width="0.9" height="0.9" fill="#26268a" opacity="0.79"/><rect x="261.6" y="59.1" width="0.9" height="0.9" fill="#26268a" opacity="0.59"/><rect x="254.0" y="68.4" width="0.9" height="0.9" fill="#5a4fb4" opacity="0.55"/><rect x="244.0" y="72.8" width="0.9" height="0.9" fill="#3a3a9e" opacity="0.71"/><rect x="233.2" y="77.1" width="0.9" height="0.9" fill="#3a3a9e" opacity="0.97"/><rect x="235.8" y="79.5" width="0.9" height="0.9" fill="#7a70c8" opacity="0.79"/><rect x="241.6" y="77.6" width="0.9" height="0.9" fill="#26268a" opacity="0.56"/><rect x="263.6" y="59.5" width="0.9" height="0.9" fill="#7a70c8" opacity="0.44"/><rect x="223.0" y="83.6" width="0.9" height="0.9" fill="#7a70c8" opacity="0.50"/><rect x="272.3" y="56.6" width="0.9" height="0.9" fill="#3a3a9e" opacity="0.40"/><rect x="249.6" y="68.3" width="0.9" height="0.9" fill="#7a70c8" opacity="0.78"/><rect x="220.3" y="85.1" width="0.9" height="0.9" fill="#5a4fb4" opacity="0.50"/><rect x="277.2" y="49.9" width="0.9" height="0.9" fill="#7a70c8" opacity="0.94"/><rect x="240.5" y="75.9" width="0.9" height="0.9" fill="#7a70c8" opacity="0.48"/><rect x="235.1" y="81.2" width="0.9" height="0.9" fill="#7a70c8" opacity="0.38"/><rect x="264.2" y="60.5" width="0.9" height="0.9" fill="#7a70c8" opacity="0.84"/><rect x="229.6" y="83.6" width="0.9" height="0.9" fill="#5a4fb4" opacity="0.63"/><rect x="253.3" y="66.0" width="0.9" height="0.9" fill="#26268a" opacity="0.64"/><rect x="228.0" y="79.4" width="0.9" height="0.9" fill="#3a3a9e" opacity="0.43"/><rect x="243.3" y="72.5" width="0.9" height="0.9" fill="#3a3a9e" opacity="0.53"/><rect x="242.4" y="76.8" width="0.9" height="0.9" fill="#5a4fb4" opacity="0.74"/><rect x="269.1" y="56.1" width="0.9" height="0.9" fill="#7a70c8" opacity="0.57"/><rect x="232.0" y="80.2" width="0.9" height="0.9" fill="#3a3a9e" opacity="0.43"/><rect x="271.8" y="57.4" width="0.9" height="0.9" fill="#5a4fb4" opacity="0.52"/><rect x="266.6" y="57.6" width="0.9" height="0.9" fill="#26268a" opacity="0.57"/><rect x="274.8" y="55.6" width="0.9" height="0.9" fill="#7a70c8" opacity="0.66"/><rect x="229.0" y="80.7" width="0.9" height="0.9" fill="#5a4fb4" opacity="0.74"/><rect x="240.0" y="76.2" width="0.9" height="0.9" fill="#5a4fb4" opacity="0.71"/><rect x="266.8" y="59.6" width="0.9" height="0.9" fill="#3a3a9e" opacity="0.71"/><rect x="256.5" y="65.9" width="0.9" height="0.9" fill="#3a3a9e" opacity="0.52"/><rect x="253.3" y="67.2" width="0.9" height="0.9" fill="#5a4fb4" opacity="0.91"/><rect x="276.2" y="50.8" width="0.9" height="0.9" fill="#5a4fb4" opacity="0.84"/><rect x="259.3" y="63.6" width="0.9" height="0.9" fill="#3a3a9e" opacity="0.66"/><rect x="253.5" y="68.7" width="0.9" height="0.9" fill="#3a3a9e" opacity="0.63"/><rect x="278.1" y="52.4" width="0.9" height="0.9" fill="#5a4fb4" opacity="0.87"/><rect x="250.8" y="70.4" width="0.9" height="0.9" fill="#3a3a9e" opacity="0.89"/><rect x="240.3" y="73.5" width="0.9" height="0.9" fill="#3a3a9e" opacity="0.82"/><rect x="249.7" y="69.5" width="0.9" height="0.9" fill="#5a4fb4" opacity="0.46"/><rect x="262.4" y="60.4" width="0.9" height="0.9" fill="#5a4fb4" opacity="0.96"/><rect x="228.0" y="79.9" width="0.9" height="0.9" fill="#26268a" opacity="0.84"/><rect x="274.5" y="53.5" width="0.9" height="0.9" fill="#26268a" opacity="0.41"/><rect x="268.4" y="56.0" width="0.9" height="0.9" fill="#5a4fb4" opacity="0.72"/><rect x="234.8" y="77.6" width="0.9" height="0.9" fill="#26268a" opacity="0.98"/><rect x="245.6" y="73.9" width="0.9" height="0.9" fill="#26268a" opacity="0.39"/><rect x="244.9" y="72.2" width="0.9" height="0.9" fill="#26268a" opacity="0.57"/><rect x="252.9" y="66.9" width="0.9" height="0.9" fill="#7a70c8" opacity="0.98"/><rect x="271.9" y="55.5" width="0.9" height="0.9" fill="#5a4fb4" opacity="0.51"/><rect x="270.8" y="53.9" width="0.9" height="0.9" fill="#7a70c8" opacity="0.95"/><rect x="241.7" y="72.9" width="0.9" height="0.9" fill="#3a3a9e" opacity="0.98"/><rect x="263.2" y="61.3" width="0.9" height="0.9" fill="#3a3a9e" opacity="0.95"/><rect x="255.0" y="66.8" width="0.9" height="0.9" fill="#26268a" opacity="0.93"/><rect x="238.6" y="78.5" width="0.9" height="0.9" fill="#3a3a9e" opacity="0.67"/><rect x="242.1" y="75.6" width="0.9" height="0.9" fill="#5a4fb4" opacity="0.96"/><rect x="238.2" y="78.3" width="0.9" height="0.9" fill="#5a4fb4" opacity="0.78"/><rect x="278.4" y="53.5" width="0.9" height="0.9" fill="#7a70c8" opacity="0.48"/><rect x="245.8" y="72.3" width="0.9" height="0.9" fill="#26268a" opacity="0.36"/><rect x="251.4" y="66.0" width="0.9" height="0.9" fill="#7a70c8" opacity="0.62"/><rect x="251.0" y="68.1" width="0.9" height="0.9" fill="#7a70c8" opacity="0.67"/><rect x="251.9" y="67.7" width="0.9" height="0.9" fill="#26268a" opacity="0.99"/><rect x="276.7" y="53.5" width="0.9" height="0.9" fill="#5a4fb4" opacity="0.84"/><rect x="245.3" y="73.8" width="0.9" height="0.9" fill="#7a70c8" opacity="0.74"/><rect x="244.8" y="73.7" width="0.9" height="0.9" fill="#7a70c8" opacity="0.97"/><rect x="227.9" y="80.8" width="0.9" height="0.9" fill="#5a4fb4" opacity="0.57"/><rect x="235.9" y="76.4" width="0.9" height="0.9" fill="#5a4fb4" opacity="0.80"/><rect x="258.7" y="65.4" width="0.9" height="0.9" fill="#7a70c8" opacity="0.38"/><rect x="261.2" y="63.3" width="0.9" height="0.9" fill="#26268a" opacity="0.64"/><rect x="275.3" y="52.0" width="0.9" height="0.9" fill="#5a4fb4" opacity="0.96"/><rect x="231.1" y="80.9" width="0.9" height="0.9" fill="#5a4fb4" opacity="0.59"/><rect x="230.3" y="80.6" width="0.9" height="0.9" fill="#3a3a9e" opacity="0.43"/><rect x="236.6" y="78.8" width="0.9" height="0.9" fill="#26268a" opacity="0.39"/><rect x="234.5" y="80.5" width="0.9" height="0.9" fill="#3a3a9e" opacity="0.51"/><rect x="262.7" y="60.9" width="0.9" height="0.9" fill="#7a70c8" opacity="0.69"/><rect x="224.0" y="84.3" width="0.9" height="0.9" fill="#5a4fb4" opacity="0.43"/><rect x="253.9" y="66.4" width="0.9" height="0.9" fill="#26268a" opacity="0.39"/><rect x="270.4" y="55.8" width="0.9" height="0.9" fill="#5a4fb4" opacity="0.56"/><rect x="270.2" y="59.1" width="0.9" height="0.9" fill="#5a4fb4" opacity="0.88"/><rect x="279.0" y="50.6" width="0.9" height="0.9" fill="#7a70c8" opacity="0.90"/><rect x="273.7" y="56.0" width="0.9" height="0.9" fill="#7a70c8" opacity="0.50"/><rect x="248.8" y="69.8" width="0.9" height="0.9" fill="#26268a" opacity="0.88"/><rect x="261.3" y="60.2" width="0.9" height="0.9" fill="#5a4fb4" opacity="1.00"/><rect x="256.3" y="64.3" width="0.9" height="0.9" fill="#26268a" opacity="0.65"/><rect x="229.7" y="82.1" width="0.9" height="0.9" fill="#26268a" opacity="0.80"/><rect x="244.4" y="72.9" width="0.9" height="0.9" fill="#5a4fb4" opacity="0.66"/><rect x="252.0" y="67.4" width="0.9" height="0.9" fill="#5a4fb4" opacity="0.78"/><rect x="255.8" y="63.5" width="0.9" height="0.9" fill="#7a70c8" opacity="0.71"/><rect x="230.0" y="81.8" width="0.9" height="0.9" fill="#26268a" opacity="0.94"/><rect x="269.1" y="57.3" width="0.9" height="0.9" fill="#3a3a9e" opacity="0.79"/><rect x="271.3" y="58.2" width="0.9" height="0.9" fill="#3a3a9e" opacity="0.81"/><rect x="241.8" y="75.4" width="0.9" height="0.9" fill="#5a4fb4" opacity="0.61"/><rect x="237.9" y="76.0" width="0.9" height="0.9" fill="#5a4fb4" opacity="0.49"/><rect x="240.8" y="77.2" width="0.9" height="0.9" fill="#7a70c8" opacity="0.73"/><rect x="272.5" y="57.2" width="0.9" height="0.9" fill="#5a4fb4" opacity="0.70"/><rect x="275.5" y="53.2" width="0.9" height="0.9" fill="#3a3a9e" opacity="0.71"/><rect x="262.0" y="58.6" width="0.9" height="0.9" fill="#26268a" opacity="0.69"/><rect x="271.6" y="55.9" width="0.9" height="0.9" fill="#5a4fb4" opacity="0.52"/><rect x="275.5" y="52.7" width="0.9" height="0.9" fill="#7a70c8" opacity="0.73"/><rect x="219.8" y="83.0" width="0.9" height="0.9" fill="#3a3a9e" opacity="1.00"/><rect x="274.9" y="54.0" width="0.9" height="0.9" fill="#5a4fb4" opacity="0.40"/><rect x="269.7" y="56.0" width="0.9" height="0.9" fill="#5a4fb4" opacity="0.61"/><rect x="221.6" y="87.3" width="0.9" height="0.9" fill="#7a70c8" opacity="0.37"/><rect x="258.7" y="64.9" width="0.9" height="0.9" fill="#5a4fb4" opacity="0.49"/><rect x="246.4" y="71.9" width="0.9" height="0.9" fill="#7a70c8" opacity="0.63"/><rect x="240.3" y="75.6" width="0.9" height="0.9" fill="#26268a" opacity="0.50"/><rect x="225.1" y="82.1" width="0.9" height="0.9" fill="#3a3a9e" opacity="0.60"/><rect x="245.7" y="70.1" width="0.9" height="0.9" fill="#5a4fb4" opacity="0.70"/><rect x="260.8" y="61.3" width="0.9" height="0.9" fill="#26268a" opacity="0.71"/><rect x="235.7" y="79.4" width="0.9" height="0.9" fill="#26268a" opacity="0.68"/><rect x="235.8" y="77.3" width="0.9" height="0.9" fill="#3a3a9e" opacity="0.92"/><rect x="264.5" y="60.6" width="0.9" height="0.9" fill="#26268a" opacity="0.90"/><rect x="244.6" y="71.8" width="0.9" height="0.9" fill="#3a3a9e" opacity="0.77"/><rect x="243.0" y="74.6" width="0.9" height="0.9" fill="#26268a" opacity="0.77"/><rect x="247.1" y="72.9" width="0.9" height="0.9" fill="#3a3a9e" opacity="0.64"/><rect x="262.6" y="57.6" width="0.9" height="0.9" fill="#5a4fb4" opacity="0.48"/><rect x="224.6" y="82.2" width="0.9" height="0.9" fill="#26268a" opacity="0.80"/><rect x="251.6" y="68.9" width="0.9" height="0.9" fill="#5a4fb4" opacity="0.68"/><rect x="226.6" y="81.9" width="0.9" height="0.9" fill="#3a3a9e" opacity="0.56"/><rect x="268.8" y="56.0" width="0.9" height="0.9" fill="#26268a" opacity="0.38"/><rect x="248.6" y="67.0" width="0.9" height="0.9" fill="#5a4fb4" opacity="0.54"/><rect x="230.0" y="83.8" width="0.9" height="0.9" fill="#3a3a9e" opacity="0.37"/><rect x="250.3" y="71.5" width="0.9" height="0.9" fill="#3a3a9e" opacity="0.78"/><rect x="270.5" y="57.9" width="0.9" height="0.9" fill="#3a3a9e" opacity="0.93"/><rect x="250.1" y="68.8" width="0.9" height="0.9" fill="#3a3a9e" opacity="0.58"/><rect x="267.8" y="58.3" width="0.9" height="0.9" fill="#5a4fb4" opacity="0.82"/><rect x="265.1" y="58.1" width="0.9" height="0.9" fill="#5a4fb4" opacity="0.87"/><rect x="261.7" y="58.8" width="0.9" height="0.9" fill="#5a4fb4" opacity="0.70"/><rect x="223.3" y="83.6" width="0.9" height="0.9" fill="#5a4fb4" opacity="0.50"/><rect x="256.4" y="65.0" width="0.9" height="0.9" fill="#7a70c8" opacity="0.87"/><rect x="223.9" y="85.8" width="0.9" height="0.9" fill="#26268a" opacity="0.42"/><rect x="263.4" y="61.4" width="0.9" height="0.9" fill="#7a70c8" opacity="0.92"/><rect x="223.5" y="83.7" width="0.9" height="0.9" fill="#7a70c8" opacity="0.93"/><rect x="242.8" y="72.3" width="0.9" height="0.9" fill="#5a4fb4" opacity="0.74"/><rect x="242.7" y="74.7" width="0.9" height="0.9" fill="#3a3a9e" opacity="0.89"/><rect x="261.2" y="60.3" width="0.9" height="0.9" fill="#3a3a9e" opacity="0.79"/><rect x="236.6" y="80.9" width="0.9" height="0.9" fill="#7a70c8" opacity="0.36"/><rect x="276.7" y="51.9" width="0.9" height="0.9" fill="#26268a" opacity="0.58"/><rect x="251.6" y="68.9" width="0.9" height="0.9" fill="#26268a" opacity="0.67"/><rect x="260.8" y="65.4" width="0.9" height="0.9" fill="#5a4fb4" opacity="0.83"/><rect x="249.3" y="72.0" width="0.9" height="0.9" fill="#3a3a9e" opacity="0.98"/><rect x="275.1" y="56.7" width="0.9" height="0.9" fill="#5a4fb4" opacity="0.38"/><rect x="259.8" y="61.8" width="0.9" height="0.9" fill="#7a70c8" opacity="0.77"/><rect x="275.5" y="57.1" width="0.9" height="0.9" fill="#5a4fb4" opacity="0.96"/><rect x="232.6" y="79.2" width="0.9" height="0.9" fill="#3a3a9e" opacity="0.62"/><rect x="231.9" y="80.1" width="0.9" height="0.9" fill="#3a3a9e" opacity="0.38"/><rect x="246.3" y="73.4" width="0.9" height="0.9" fill="#3a3a9e" opacity="0.47"/><rect x="225.7" y="81.5" width="0.9" height="0.9" fill="#7a70c8" opacity="0.47"/><rect x="239.8" y="77.1" width="0.9" height="0.9" fill="#5a4fb4" opacity="0.36"/><rect x="237.5" y="77.6" width="0.9" height="0.9" fill="#26268a" opacity="0.69"/><rect x="272.4" y="57.5" width="0.9" height="0.9" fill="#7a70c8" opacity="0.87"/><rect x="242.9" y="72.2" width="0.9" height="0.9" fill="#3a3a9e" opacity="0.41"/><rect x="252.8" y="67.2" width="0.9" height="0.9" fill="#5a4fb4" opacity="0.70"/><rect x="252.9" y="67.2" width="0.9" height="0.9" fill="#7a70c8" opacity="0.40"/><rect x="278.0" y="51.8" width="0.9" height="0.9" fill="#3a3a9e" opacity="0.88"/><rect x="245.2" y="75.7" width="0.9" height="0.9" fill="#3a3a9e" opacity="0.47"/><rect x="227.0" y="83.6" width="0.9" height="0.9" fill="#26268a" opacity="0.81"/><rect x="261.6" y="62.9" width="0.9" height="0.9" fill="#5a4fb4" opacity="0.69"/><rect x="276.0" y="54.8" width="0.9" height="0.9" fill="#3a3a9e" opacity="0.74"/><rect x="261.7" y="62.0" width="0.9" height="0.9" fill="#7a70c8" opacity="0.86"/><rect x="276.8" y="53.7" width="0.9" height="0.9" fill="#3a3a9e" opacity="0.98"/><rect x="250.7" y="68.9" width="0.9" height="0.9" fill="#5a4fb4" opacity="0.61"/><rect x="255.1" y="62.1" width="0.9" height="0.9" fill="#26268a" opacity="0.36"/><rect x="255.0" y="68.7" width="0.9" height="0.9" fill="#5a4fb4" opacity="0.90"/><rect x="223.4" y="83.6" width="0.9" height="0.9" fill="#7a70c8" opacity="0.40"/><rect x="270.0" y="57.2" width="0.9" height="0.9" fill="#5a4fb4" opacity="0.90"/><rect x="247.0" y="71.7" width="0.9" height="0.9" fill="#26268a" opacity="0.91"/><rect x="245.8" y="71.6" width="0.9" height="0.9" fill="#5a4fb4" opacity="0.53"/><rect x="220.7" y="85.6" width="0.9" height="0.9" fill="#26268a" opacity="0.89"/><rect x="239.2" y="77.1" width="0.9" height="0.9" fill="#7a70c8" opacity="0.81"/><rect x="263.0" y="58.7" width="0.9" height="0.9" fill="#7a70c8" opacity="0.42"/><rect x="234.5" y="77.0" width="0.9" height="0.9" fill="#26268a" opacity="0.50"/><rect x="232.9" y="78.1" width="0.9" height="0.9" fill="#7a70c8" opacity="0.96"/><rect x="226.2" y="83.6" width="0.9" height="0.9" fill="#3a3a9e" opacity="0.56"/><rect x="247.4" y="70.0" width="0.9" height="0.9" fill="#5a4fb4" opacity="0.98"/><rect x="229.8" y="81.3" width="0.9" height="0.9" fill="#5a4fb4" opacity="0.77"/><rect x="247.8" y="72.0" width="0.9" height="0.9" fill="#26268a" opacity="0.93"/><rect x="241.9" y="74.0" width="0.9" height="0.9" fill="#7a70c8" opacity="0.68"/><rect x="279.1" y="51.7" width="0.9" height="0.9" fill="#5a4fb4" opacity="0.77"/><rect x="236.5" y="80.6" width="0.9" height="0.9" fill="#26268a" opacity="0.43"/><rect x="232.8" y="78.6" width="0.9" height="0.9" fill="#26268a" opacity="0.37"/><rect x="242.3" y="75.1" width="0.9" height="0.9" fill="#3a3a9e" opacity="0.87"/><rect x="275.7" y="50.9" width="0.9" height="0.9" fill="#26268a" opacity="0.63"/><rect x="261.9" y="59.9" width="0.9" height="0.9" fill="#3a3a9e" opacity="0.81"/><rect x="267.6" y="56.0" width="0.9" height="0.9" fill="#7a70c8" opacity="0.45"/><rect x="271.9" y="56.0" width="0.9" height="0.9" fill="#5a4fb4" opacity="0.47"/><rect x="240.9" y="74.7" width="0.9" height="0.9" fill="#5a4fb4" opacity="0.85"/><rect x="244.9" y="72.9" width="0.9" height="0.9" fill="#7a70c8" opacity="0.84"/><rect x="250.6" y="67.8" width="0.9" height="0.9" fill="#26268a" opacity="0.73"/><rect x="275.4" y="55.5" width="0.9" height="0.9" fill="#5a4fb4" opacity="0.74"/><rect x="278.3" y="50.1" width="0.9" height="0.9" fill="#7a70c8" opacity="0.83"/><rect x="278.3" y="54.7" width="0.9" height="0.9" fill="#3a3a9e" opacity="0.56"/><rect x="243.7" y="74.4" width="0.9" height="0.9" fill="#3a3a9e" opacity="0.60"/><rect x="220.9" y="84.5" width="0.9" height="0.9" fill="#5a4fb4" opacity="0.52"/><rect x="224.6" y="84.7" width="0.9" height="0.9" fill="#26268a" opacity="0.44"/><rect x="276.7" y="53.8" width="0.9" height="0.9" fill="#7a70c8" opacity="0.55"/><rect x="266.9" y="58.9" width="0.9" height="0.9" fill="#3a3a9e" opacity="0.87"/><rect x="267.3" y="55.7" width="0.9" height="0.9" fill="#5a4fb4" opacity="0.47"/><rect x="238.7" y="75.6" width="0.9" height="0.9" fill="#7a70c8" opacity="0.39"/><rect x="221.4" y="83.3" width="0.9" height="0.9" fill="#3a3a9e" opacity="0.48"/><rect x="251.1" y="68.3" width="0.9" height="0.9" fill="#3a3a9e" opacity="0.48"/><rect x="271.2" y="58.7" width="0.9" height="0.9" fill="#3a3a9e" opacity="0.57"/><rect x="222.3" y="84.3" width="0.9" height="0.9" fill="#3a3a9e" opacity="0.67"/><rect x="247.9" y="73.1" width="0.9" height="0.9" fill="#7a70c8" opacity="0.84"/><rect x="228.0" y="83.8" width="0.9" height="0.9" fill="#3a3a9e" opacity="0.85"/><rect x="242.4" y="74.8" width="0.9" height="0.9" fill="#5a4fb4" opacity="0.79"/><rect x="221.0" y="84.7" width="0.9" height="0.9" fill="#5a4fb4" opacity="0.72"/><rect x="259.2" y="64.3" width="0.9" height="0.9" fill="#26268a" opacity="0.84"/><rect x="274.9" y="56.1" width="0.9" height="0.9" fill="#7a70c8" opacity="0.76"/><rect x="223.4" y="82.8" width="0.9" height="0.9" fill="#3a3a9e" opacity="0.83"/><rect x="255.8" y="61.7" width="0.9" height="0.9" fill="#7a70c8" opacity="0.81"/><rect x="246.1" y="71.5" width="0.9" height="0.9" fill="#7a70c8" opacity="0.44"/><rect x="262.3" y="62.4" width="0.9" height="0.9" fill="#7a70c8" opacity="0.83"/><rect x="262.4" y="61.3" width="0.9" height="0.9" fill="#3a3a9e" opacity="0.62"/><rect x="243.5" y="75.6" width="0.9" height="0.9" fill="#3a3a9e" opacity="0.86"/><rect x="240.6" y="78.6" width="0.9" height="0.9" fill="#26268a" opacity="0.97"/><rect x="278.1" y="50.0" width="0.9" height="0.9" fill="#26268a" opacity="0.84"/></g>
<g><rect x="279.0" y="55.9" width="0.9" height="0.9" fill="#3a3a9e" opacity="0.75"/><rect x="278.7" y="88.0" width="0.9" height="0.9" fill="#26268a" opacity="0.66"/><rect x="278.3" y="68.6" width="0.9" height="0.9" fill="#7a70c8" opacity="0.69"/><rect x="278.6" y="52.0" width="0.9" height="0.9" fill="#3a3a9e" opacity="0.76"/><rect x="279.4" y="76.3" width="0.9" height="0.9" fill="#5a4fb4" opacity="0.98"/><rect x="279.8" y="62.1" width="0.9" height="0.9" fill="#26268a" opacity="0.67"/><rect x="280.3" y="53.7" width="0.9" height="0.9" fill="#7a70c8" opacity="0.51"/><rect x="279.3" y="54.5" width="0.9" height="0.9" fill="#26268a" opacity="0.78"/><rect x="280.6" y="63.3" width="0.9" height="0.9" fill="#7a70c8" opacity="0.58"/><rect x="278.9" y="92.7" width="0.9" height="0.9" fill="#5a4fb4" opacity="0.78"/><rect x="279.3" y="80.8" width="0.9" height="0.9" fill="#3a3a9e" opacity="0.64"/><rect x="280.2" y="55.9" width="0.9" height="0.9" fill="#7a70c8" opacity="0.92"/><rect x="279.9" y="66.5" width="0.9" height="0.9" fill="#26268a" opacity="0.91"/><rect x="280.8" y="74.3" width="0.9" height="0.9" fill="#26268a" opacity="0.93"/><rect x="279.2" y="58.6" width="0.9" height="0.9" fill="#3a3a9e" opacity="0.69"/><rect x="278.3" y="61.7" width="0.9" height="0.9" fill="#26268a" opacity="0.74"/><rect x="280.1" y="77.2" width="0.9" height="0.9" fill="#5a4fb4" opacity="0.75"/><rect x="278.8" y="99.7" width="0.9" height="0.9" fill="#3a3a9e" opacity="0.81"/><rect x="280.0" y="78.3" width="0.9" height="0.9" fill="#7a70c8" opacity="0.79"/><rect x="279.5" y="70.5" width="0.9" height="0.9" fill="#3a3a9e" opacity="0.80"/><rect x="279.4" y="93.1" width="0.9" height="0.9" fill="#3a3a9e" opacity="0.98"/><rect x="279.8" y="77.0" width="0.9" height="0.9" fill="#26268a" opacity="0.98"/><rect x="278.0" y="81.6" width="0.9" height="0.9" fill="#5a4fb4" opacity="0.89"/><rect x="279.7" y="72.9" width="0.9" height="0.9" fill="#3a3a9e" opacity="0.73"/><rect x="279.3" y="56.2" width="0.9" height="0.9" fill="#5a4fb4" opacity="0.65"/><rect x="278.3" y="97.8" width="0.9" height="0.9" fill="#3a3a9e" opacity="0.56"/><rect x="279.4" y="86.6" width="0.9" height="0.9" fill="#5a4fb4" opacity="0.69"/><rect x="277.9" y="93.0" width="0.9" height="0.9" fill="#26268a" opacity="0.80"/><rect x="278.7" y="95.6" width="0.9" height="0.9" fill="#3a3a9e" opacity="0.84"/><rect x="279.4" y="90.3" width="0.9" height="0.9" fill="#7a70c8" opacity="0.61"/><rect x="279.1" y="72.0" width="0.9" height="0.9" fill="#3a3a9e" opacity="0.62"/><rect x="278.4" y="74.1" width="0.9" height="0.9" fill="#7a70c8" opacity="0.84"/><rect x="280.5" y="53.3" width="0.9" height="0.9" fill="#26268a" opacity="0.77"/><rect x="278.8" y="58.5" width="0.9" height="0.9" fill="#26268a" opacity="0.86"/><rect x="279.0" y="58.0" width="0.9" height="0.9" fill="#5a4fb4" opacity="0.88"/><rect x="277.9" y="55.8" width="0.9" height="0.9" fill="#3a3a9e" opacity="1.00"/><rect x="279.0" y="77.2" width="0.9" height="0.9" fill="#26268a" opacity="0.99"/><rect x="279.1" y="64.4" width="0.9" height="0.9" fill="#5a4fb4" opacity="0.68"/><rect x="280.0" y="84.3" width="0.9" height="0.9" fill="#26268a" opacity="0.81"/><rect x="278.6" y="70.3" width="0.9" height="0.9" fill="#26268a" opacity="0.78"/><rect x="278.7" y="53.3" width="0.9" height="0.9" fill="#3a3a9e" opacity="0.69"/><rect x="279.6" y="75.7" width="0.9" height="0.9" fill="#3a3a9e" opacity="0.72"/><rect x="278.9" y="87.2" width="0.9" height="0.9" fill="#7a70c8" opacity="0.88"/><rect x="279.5" y="94.0" width="0.9" height="0.9" fill="#26268a" opacity="0.66"/><rect x="278.4" y="100.1" width="0.9" height="0.9" fill="#3a3a9e" opacity="0.92"/><rect x="279.9" y="62.7" width="0.9" height="0.9" fill="#5a4fb4" opacity="0.77"/><rect x="280.5" y="58.1" width="0.9" height="0.9" fill="#7a70c8" opacity="0.57"/><rect x="278.9" y="100.3" width="0.9" height="0.9" fill="#5a4fb4" opacity="0.65"/><rect x="278.5" y="101.8" width="0.9" height="0.9" fill="#7a70c8" opacity="0.58"/><rect x="279.1" y="54.4" width="0.9" height="0.9" fill="#3a3a9e" opacity="0.71"/><rect x="277.8" y="56.3" width="0.9" height="0.9" fill="#26268a" opacity="0.64"/><rect x="279.6" y="58.6" width="0.9" height="0.9" fill="#7a70c8" opacity="0.76"/><rect x="279.6" y="76.5" width="0.9" height="0.9" fill="#7a70c8" opacity="0.97"/><rect x="279.3" y="64.8" width="0.9" height="0.9" fill="#3a3a9e" opacity="0.95"/><rect x="278.9" y="69.5" width="0.9" height="0.9" fill="#3a3a9e" opacity="0.89"/><rect x="278.9" y="88.7" width="0.9" height="0.9" fill="#26268a" opacity="0.83"/><rect x="278.4" y="80.7" width="0.9" height="0.9" fill="#5a4fb4" opacity="0.64"/><rect x="279.2" y="63.5" width="0.9" height="0.9" fill="#7a70c8" opacity="0.64"/><rect x="280.2" y="85.5" width="0.9" height="0.9" fill="#5a4fb4" opacity="0.85"/><rect x="280.0" y="56.0" width="0.9" height="0.9" fill="#26268a" opacity="0.67"/></g>
</g>
<path d="M218,86 L224,84 L230,81.5 L238,77.8 L246,73.3 L252,68.8 L256,65.4 L261,62 L266,59 L271,57.3 L276,55.8 L278.4,53 L279.4,55 L279,62 L278.8,75 L278.6,90 L277.8,100 L274,103.2 L218,103.2 Z" fill="#26268a" filter="url(#rough)"/>
<path d="M226,84.5 L238,79.5 L250,72 L262,63.5 L272,58.5" fill="none" stroke="#5a50b8" stroke-width="0.9" opacity="0.5" filter="url(#bl)"/>
<path d="M220,89.2 L228,88 L236,87 L242,85.6 L248,82.2 L254,77.8 L259,74.2 L263,72.6 L266,73.6 L269,72.4 L271.6,73 L272.8,78 L273,92 L272,97.5 L269,100.6 L220,101.4 Z" fill="#4a3eae" filter="url(#bl)"/>
<path d="M220,89.2 L228,88 L236,87 L242,85.6 L248,82.2 L254,77.8 L259,74.2 L263,72.6 L266,73.6 L269,72.4 L271.6,73 L272.8,78 L273,92 L272,97.5 L269,100.6 L220,101.4 Z" fill="#7a70cc" filter="url(#er1)"/>
<g fill="none" stroke="#c8c4ee" stroke-width="0.5" opacity="0.8"><path d="M223,89.5 C230,88.6 236,88.2 242,87"/><path d="M224,91 C230,90.3 236,90 240,89.5"/></g>
<path d="M242,92 C244.5,88 248,84 252,81 C255,78.8 257,76.6 259.5,75.6 C261,75 262.5,74.7 264,75.2 C265.3,75.7 266,76.6 267,76.2 C268.2,75.5 269.2,74.9 270.4,75.2 C271.5,76 271.8,80 271.8,85 L271.5,91 C270.8,94 268.5,95.5 265,95.8 L248,95.8 Z" fill="#f3f2fb" filter="url(#bl)"/>
<g fill="none" stroke="#23237a" stroke-width="0.6" opacity="0.95">
<path d="M248.0,93.5 C251.0,86.0 255,80.0 259,78.0 C262,76.6 264,78.0 266.5,78.6 C268.3,78.0 269.3,78.6 269.8,83.0"/>
<path d="M250.8,93.5 C252.9,87.9 255,81.9 259,79.9 C262,78.5 264,79.9 266.5,80.5 C268.3,79.9 269.3,80.5 269.8,84.14"/>
<path d="M253.7,93.5 C254.8,89.8 255,83.8 259,81.8 C262,80.39999999999999 264,81.8 266.5,82.39999999999999 C268.3,81.8 269.3,82.39999999999999 269.8,85.28"/>
<path d="M256.6,93.5 C256.7,91.7 255,85.7 259,83.7 C262,82.3 264,83.7 266.5,84.3 C268.3,83.7 269.3,84.3 269.8,86.42"/>
</g>
<g filter="url(#bl)">
<path d="M220,94.5 C226,90.5 236,89.5 244,89 L256,88.6 C262,88.6 266,90.5 266,94 C266,98 262,100.2 256,100.2 L244,100.2 C234,100.2 226,100 220,98.5 Z" fill="#3e4cc8"/>
<path d="M221,95.2 C227,92.8 236,92.2 244,91.2 L256,89.2 C261.5,89 264,91 264,94 C264,97 261.5,99.2 256,99.2 L244,99 C236,98.6 227,98.4 221,97.2 Z" fill="#44c2e6"/>
<ellipse cx="251.8" cy="93.9" rx="8.4" ry="3.8" fill="#32b24a"/>
<ellipse cx="252.2" cy="93.8" rx="4.6" ry="2.1" fill="#f1e32a"/>
<ellipse cx="252.6" cy="93.8" rx="2.5" ry="1.4" fill="#e4221e"/>
<ellipse cx="223.3" cy="95.7" rx="2.6" ry="2.2" fill="#5ec040"/>
<ellipse cx="223.2" cy="95.7" rx="1.2" ry="1.0" fill="#cfe83a"/>
</g></g>
<line x1="37.9" y1="40.9" x2="37.9" y2="108.7" stroke="#1a1a2a" stroke-width="1.2"/>
<line x1="37.300000000000004" y1="108.1" x2="100.80000000000001" y2="108.1" stroke="#1a1a2a" stroke-width="1.3"/>
<line x1="128.3" y1="40.9" x2="128.3" y2="108.7" stroke="#1a1a2a" stroke-width="1.2"/>
<line x1="127.7" y1="108.1" x2="191.2" y2="108.1" stroke="#1a1a2a" stroke-width="1.3"/>
<line x1="219.5" y1="40.9" x2="219.5" y2="108.7" stroke="#1a1a2a" stroke-width="1.2"/>
<line x1="218.89999999999998" y1="108.1" x2="282.4" y2="108.1" stroke="#1a1a2a" stroke-width="1.3"/>
<rect x="329.9" y="39.913" width="11.3" height="65.48700000000001" fill="#c6c6cb"/>
<rect x="344.9" y="99.92200000000001" width="10.8" height="5.477999999999994" fill="#b7d3ec"/>
<line x1="334.1" y1="40.4" x2="337.1" y2="40.4" stroke="#111" stroke-width="1.3"/>
<line x1="350" y1="96.436" x2="350" y2="103.408" stroke="#1d3f66" stroke-width="0.9"/>
<line x1="348.6" y1="96.436" x2="351.4" y2="96.436" stroke="#1d3f66" stroke-width="0.7"/>
<text x="350.00" y="96.00" font-size="6" fill="#222" text-anchor="middle" stroke="#222" stroke-width="0.1" >*</text>
<line x1="324.1" y1="27.8" x2="324.1" y2="108.4" stroke="#111" stroke-width="1.3"/>
<line x1="323.6" y1="105.4" x2="364.4" y2="105.4" stroke="#111" stroke-width="1.3"/>
<line x1="361.5" y1="105.4" x2="361.5" y2="107.80000000000001" stroke="#111" stroke-width="0.9"/>
<line x1="321.1" y1="105.4" x2="324.1" y2="105.4" stroke="#111" stroke-width="0.9"/>
<text x="317.90" y="107.80" font-size="6.7" fill="#3c3c3c" text-anchor="end" textLength="3.3" lengthAdjust="spacingAndGlyphs" stroke="#3c3c3c" stroke-width="0.12" >0</text>
<line x1="321.1" y1="92.95" x2="324.1" y2="92.95" stroke="#111" stroke-width="0.9"/>
<text x="317.90" y="95.35" font-size="6.7" fill="#3c3c3c" text-anchor="end" textLength="3.3" lengthAdjust="spacingAndGlyphs" stroke="#3c3c3c" stroke-width="0.12" >5</text>
<line x1="321.1" y1="80.5" x2="324.1" y2="80.5" stroke="#111" stroke-width="0.9"/>
<text x="317.90" y="82.90" font-size="6.7" fill="#3c3c3c" text-anchor="end" textLength="6.2" lengthAdjust="spacingAndGlyphs" stroke="#3c3c3c" stroke-width="0.12" >10</text>
<line x1="321.1" y1="68.05000000000001" x2="324.1" y2="68.05000000000001" stroke="#111" stroke-width="0.9"/>
<text x="317.90" y="70.45" font-size="6.7" fill="#3c3c3c" text-anchor="end" textLength="6.2" lengthAdjust="spacingAndGlyphs" stroke="#3c3c3c" stroke-width="0.12" >15</text>
<line x1="321.1" y1="55.6" x2="324.1" y2="55.6" stroke="#111" stroke-width="0.9"/>
<text x="317.90" y="58.00" font-size="6.7" fill="#3c3c3c" text-anchor="end" textLength="6.8" lengthAdjust="spacingAndGlyphs" stroke="#3c3c3c" stroke-width="0.12" >20</text>
<line x1="321.1" y1="43.15" x2="324.1" y2="43.15" stroke="#111" stroke-width="0.9"/>
<text x="317.90" y="45.55" font-size="6.7" fill="#3c3c3c" text-anchor="end" textLength="6.8" lengthAdjust="spacingAndGlyphs" stroke="#3c3c3c" stroke-width="0.12" >25</text>
<line x1="321.1" y1="30.700000000000003" x2="324.1" y2="30.700000000000003" stroke="#111" stroke-width="0.9"/>
<text x="317.90" y="33.10" font-size="6.7" fill="#3c3c3c" text-anchor="end" textLength="6.8" lengthAdjust="spacingAndGlyphs" stroke="#3c3c3c" stroke-width="0.12" >30</text>
<text x="334.80" y="118.00" font-size="6.4" fill="#555" text-anchor="middle" textLength="3.6" lengthAdjust="spacingAndGlyphs" stroke="#555" stroke-width="0.18" >–</text>
<text x="350.10" y="118.00" font-size="6.4" fill="#444" text-anchor="middle" stroke="#444" stroke-width="0.18" >+</text>
<text x="344.20" y="130.20" font-size="9.9" fill="#333" text-anchor="middle" textLength="27.0" lengthAdjust="spacingAndGlyphs" stroke="#333" stroke-width="0.22" >GW4869</text>
<text transform="translate(305.5,66.9) rotate(-90)" font-size="8.4" fill="#3a3a3a" stroke="#3a3a3a" stroke-width="0.12" text-anchor="middle" textLength="67.5" lengthAdjust="spacingAndGlyphs">% Mitotracker+ events</text>
<line x1="417.2" y1="25.8" x2="417.2" y2="106.0" stroke="#111" stroke-width="1.3"/>
<line x1="416.7" y1="105.5" x2="511.8" y2="105.5" stroke="#111" stroke-width="1.3"/>
<line x1="414.2" y1="105.5" x2="417.2" y2="105.5" stroke="#111" stroke-width="0.9"/>
<text x="410.60" y="108.00" font-size="6.7" fill="#3c3c3c" text-anchor="end" textLength="3.3" lengthAdjust="spacingAndGlyphs" stroke="#3c3c3c" stroke-width="0.12" >0</text>
<line x1="414.2" y1="94.5" x2="417.2" y2="94.5" stroke="#111" stroke-width="0.9"/>
<text x="410.60" y="97.00" font-size="6.7" fill="#3c3c3c" text-anchor="end" textLength="6.2" lengthAdjust="spacingAndGlyphs" stroke="#3c3c3c" stroke-width="0.12" >10</text>
<line x1="414.2" y1="83.5" x2="417.2" y2="83.5" stroke="#111" stroke-width="0.9"/>
<text x="410.60" y="86.00" font-size="6.7" fill="#3c3c3c" text-anchor="end" textLength="6.8" lengthAdjust="spacingAndGlyphs" stroke="#3c3c3c" stroke-width="0.12" >20</text>
<line x1="414.2" y1="72.5" x2="417.2" y2="72.5" stroke="#111" stroke-width="0.9"/>
<text x="410.60" y="75.00" font-size="6.7" fill="#3c3c3c" text-anchor="end" textLength="6.8" lengthAdjust="spacingAndGlyphs" stroke="#3c3c3c" stroke-width="0.12" >30</text>
<line x1="414.2" y1="61.5" x2="417.2" y2="61.5" stroke="#111" stroke-width="0.9"/>
<text x="410.60" y="64.00" font-size="6.7" fill="#3c3c3c" text-anchor="end" textLength="6.8" lengthAdjust="spacingAndGlyphs" stroke="#3c3c3c" stroke-width="0.12" >40</text>
<line x1="414.2" y1="50.49999999999999" x2="417.2" y2="50.49999999999999" stroke="#111" stroke-width="0.9"/>
<text x="410.60" y="53.00" font-size="6.7" fill="#3c3c3c" text-anchor="end" textLength="6.8" lengthAdjust="spacingAndGlyphs" stroke="#3c3c3c" stroke-width="0.12" >50</text>
<line x1="414.2" y1="39.5" x2="417.2" y2="39.5" stroke="#111" stroke-width="0.9"/>
<text x="410.60" y="42.00" font-size="6.7" fill="#3c3c3c" text-anchor="end" textLength="6.8" lengthAdjust="spacingAndGlyphs" stroke="#3c3c3c" stroke-width="0.12" >60</text>
<line x1="414.2" y1="28.5" x2="417.2" y2="28.5" stroke="#111" stroke-width="0.9"/>
<text x="410.60" y="31.00" font-size="6.7" fill="#3c3c3c" text-anchor="end" textLength="6.8" lengthAdjust="spacingAndGlyphs" stroke="#3c3c3c" stroke-width="0.12" >70</text>
<line x1="417.2" y1="105.5" x2="417.2" y2="107.7" stroke="#111" stroke-width="0.9"/>
<text x="417.20" y="117.70" font-size="6.8" fill="#3c3c3c" text-anchor="middle" textLength="3.3" lengthAdjust="spacingAndGlyphs" stroke="#3c3c3c" stroke-width="0.12" >0</text>
<line x1="438.584" y1="105.5" x2="438.584" y2="107.7" stroke="#111" stroke-width="0.9"/>
<text x="438.58" y="117.70" font-size="6.8" fill="#3c3c3c" text-anchor="middle" textLength="3.3" lengthAdjust="spacingAndGlyphs" stroke="#3c3c3c" stroke-width="0.12" >8</text>
<line x1="459.96799999999996" y1="105.5" x2="459.96799999999996" y2="107.7" stroke="#111" stroke-width="0.9"/>
<text x="460.17" y="117.70" font-size="6.8" fill="#3c3c3c" text-anchor="middle" textLength="6.2" lengthAdjust="spacingAndGlyphs" stroke="#3c3c3c" stroke-width="0.12" >16</text>
<line x1="481.352" y1="105.5" x2="481.352" y2="107.7" stroke="#111" stroke-width="0.9"/>
<text x="481.55" y="117.70" font-size="6.8" fill="#3c3c3c" text-anchor="middle" textLength="6.8" lengthAdjust="spacingAndGlyphs" stroke="#3c3c3c" stroke-width="0.12" >24</text>
<line x1="502.736" y1="105.5" x2="502.736" y2="107.7" stroke="#111" stroke-width="0.9"/>
<text x="502.94" y="117.70" font-size="6.8" fill="#3c3c3c" text-anchor="middle" textLength="6.8" lengthAdjust="spacingAndGlyphs" stroke="#3c3c3c" stroke-width="0.12" >32</text>
<text x="465.40" y="129.60" font-size="8.8" fill="#2e2e2e" text-anchor="middle" textLength="83.2" lengthAdjust="spacingAndGlyphs" stroke="#2e2e2e" stroke-width="0.16" >Weeks post-transplantation</text>
<text transform="translate(389.2,64.5) rotate(-90)" font-size="8.1" fill="#3a3a3a" stroke="#3a3a3a" stroke-width="0.12" text-anchor="middle" textLength="57.4" lengthAdjust="spacingAndGlyphs">% peripheral blood</text>
<text transform="translate(397.8,63.4) rotate(-90)" font-size="8.1" fill="#3a3a3a" stroke="#3a3a3a" stroke-width="0.12" text-anchor="middle" textLength="27.8" lengthAdjust="spacingAndGlyphs">chimerism</text>
<polyline points="427.9,68.7 438.6,66.8 449.3,68.0 460.0,69.1 470.7,69.8 481.4,69.8 492.0,70.5 502.7,71.4" fill="none" stroke="#c8c8c8" stroke-width="0.8"/>
<polyline points="427.9,46.1 438.6,42.9 449.3,40.5 460.0,37.7 470.7,37.0 481.4,37.3 492.0,37.3 502.7,38.8" fill="none" stroke="#5cb85c" stroke-width="1.1"/>
<line x1="427.9" y1="67.3" x2="427.9" y2="70.0" stroke="#111" stroke-width="1.0"/><line x1="426.5" y1="67.3" x2="429.3" y2="67.3" stroke="#111" stroke-width="0.9"/><line x1="426.5" y1="70.0" x2="429.3" y2="70.0" stroke="#111" stroke-width="0.9"/>
<circle cx="427.9" cy="68.7" r="1.7" fill="#fff" stroke="#333" stroke-width="0.9"/>
<line x1="438.6" y1="65.2" x2="438.6" y2="68.3" stroke="#111" stroke-width="1.0"/><line x1="437.2" y1="65.2" x2="440.0" y2="65.2" stroke="#111" stroke-width="0.9"/><line x1="437.2" y1="68.3" x2="440.0" y2="68.3" stroke="#111" stroke-width="0.9"/>
<circle cx="438.6" cy="66.8" r="1.7" fill="#fff" stroke="#333" stroke-width="0.9"/>
<line x1="449.3" y1="65.6" x2="449.3" y2="70.4" stroke="#111" stroke-width="1.0"/><line x1="447.9" y1="65.6" x2="450.7" y2="65.6" stroke="#111" stroke-width="0.9"/><line x1="447.9" y1="70.4" x2="450.7" y2="70.4" stroke="#111" stroke-width="0.9"/>
<circle cx="449.3" cy="68.0" r="1.7" fill="#fff" stroke="#333" stroke-width="0.9"/>
<line x1="460.0" y1="66.4" x2="460.0" y2="71.7" stroke="#111" stroke-width="1.0"/><line x1="458.6" y1="66.4" x2="461.4" y2="66.4" stroke="#111" stroke-width="0.9"/><line x1="458.6" y1="71.7" x2="461.4" y2="71.7" stroke="#111" stroke-width="0.9"/>
<circle cx="460.0" cy="69.1" r="1.7" fill="#fff" stroke="#333" stroke-width="0.9"/>
<line x1="470.7" y1="68.3" x2="470.7" y2="71.2" stroke="#111" stroke-width="1.0"/><line x1="469.3" y1="68.3" x2="472.1" y2="68.3" stroke="#111" stroke-width="0.9"/><line x1="469.3" y1="71.2" x2="472.1" y2="71.2" stroke="#111" stroke-width="0.9"/>
<circle cx="470.7" cy="69.8" r="1.7" fill="#fff" stroke="#333" stroke-width="0.9"/>
<line x1="481.4" y1="67.2" x2="481.4" y2="72.3" stroke="#111" stroke-width="1.0"/><line x1="480.0" y1="67.2" x2="482.8" y2="67.2" stroke="#111" stroke-width="0.9"/><line x1="480.0" y1="72.3" x2="482.8" y2="72.3" stroke="#111" stroke-width="0.9"/>
<circle cx="481.4" cy="69.8" r="1.7" fill="#fff" stroke="#333" stroke-width="0.9"/>
<line x1="492.0" y1="67.8" x2="492.0" y2="73.3" stroke="#111" stroke-width="1.0"/><line x1="490.6" y1="67.8" x2="493.4" y2="67.8" stroke="#111" stroke-width="0.9"/><line x1="490.6" y1="73.3" x2="493.4" y2="73.3" stroke="#111" stroke-width="0.9"/>
<circle cx="492.0" cy="70.5" r="1.7" fill="#fff" stroke="#333" stroke-width="0.9"/>
<line x1="502.7" y1="68.3" x2="502.7" y2="74.5" stroke="#111" stroke-width="1.0"/><line x1="501.3" y1="68.3" x2="504.1" y2="68.3" stroke="#111" stroke-width="0.9"/><line x1="501.3" y1="74.5" x2="504.1" y2="74.5" stroke="#111" stroke-width="0.9"/>
<circle cx="502.7" cy="71.4" r="1.7" fill="#fff" stroke="#333" stroke-width="0.9"/>
<line x1="427.9" y1="44.8" x2="427.9" y2="47.4" stroke="#111" stroke-width="1.0"/><line x1="426.5" y1="44.8" x2="429.3" y2="44.8" stroke="#111" stroke-width="0.9"/><line x1="426.5" y1="47.4" x2="429.3" y2="47.4" stroke="#111" stroke-width="0.9"/>
<circle cx="427.9" cy="46.1" r="1.75" fill="#2d6b30" stroke="#142814" stroke-width="0.8"/>
<line x1="438.6" y1="41.1" x2="438.6" y2="44.7" stroke="#111" stroke-width="1.0"/><line x1="437.2" y1="41.1" x2="440.0" y2="41.1" stroke="#111" stroke-width="0.9"/><line x1="437.2" y1="44.7" x2="440.0" y2="44.7" stroke="#111" stroke-width="0.9"/>
<circle cx="438.6" cy="42.9" r="1.75" fill="#2d6b30" stroke="#142814" stroke-width="0.8"/>
<line x1="449.3" y1="37.7" x2="449.3" y2="43.2" stroke="#111" stroke-width="1.0"/><line x1="447.9" y1="37.7" x2="450.7" y2="37.7" stroke="#111" stroke-width="0.9"/><line x1="447.9" y1="43.2" x2="450.7" y2="43.2" stroke="#111" stroke-width="0.9"/>
<circle cx="449.3" cy="40.5" r="1.75" fill="#2d6b30" stroke="#142814" stroke-width="0.8"/>
<line x1="460.0" y1="35.2" x2="460.0" y2="40.3" stroke="#111" stroke-width="1.0"/><line x1="458.6" y1="35.2" x2="461.4" y2="35.2" stroke="#111" stroke-width="0.9"/><line x1="458.6" y1="40.3" x2="461.4" y2="40.3" stroke="#111" stroke-width="0.9"/>
<circle cx="460.0" cy="37.7" r="1.75" fill="#2d6b30" stroke="#142814" stroke-width="0.8"/>
<line x1="470.7" y1="35.6" x2="470.7" y2="38.3" stroke="#111" stroke-width="1.0"/><line x1="469.3" y1="35.6" x2="472.1" y2="35.6" stroke="#111" stroke-width="0.9"/><line x1="469.3" y1="38.3" x2="472.1" y2="38.3" stroke="#111" stroke-width="0.9"/>
<circle cx="470.7" cy="37.0" r="1.75" fill="#2d6b30" stroke="#142814" stroke-width="0.8"/>
<line x1="481.4" y1="34.7" x2="481.4" y2="39.9" stroke="#111" stroke-width="1.0"/><line x1="480.0" y1="34.7" x2="482.8" y2="34.7" stroke="#111" stroke-width="0.9"/><line x1="480.0" y1="39.9" x2="482.8" y2="39.9" stroke="#111" stroke-width="0.9"/>
<circle cx="481.4" cy="37.3" r="1.75" fill="#2d6b30" stroke="#142814" stroke-width="0.8"/>
<line x1="492.0" y1="34.4" x2="492.0" y2="40.2" stroke="#111" stroke-width="1.0"/><line x1="490.6" y1="34.4" x2="493.4" y2="34.4" stroke="#111" stroke-width="0.9"/><line x1="490.6" y1="40.2" x2="493.4" y2="40.2" stroke="#111" stroke-width="0.9"/>
<circle cx="492.0" cy="37.3" r="1.75" fill="#2d6b30" stroke="#142814" stroke-width="0.8"/>
<line x1="502.7" y1="37.2" x2="502.7" y2="40.5" stroke="#111" stroke-width="1.0"/><line x1="501.3" y1="37.2" x2="504.1" y2="37.2" stroke="#111" stroke-width="0.9"/><line x1="501.3" y1="40.5" x2="504.1" y2="40.5" stroke="#111" stroke-width="0.9"/>
<circle cx="502.7" cy="38.8" r="1.75" fill="#2d6b30" stroke="#142814" stroke-width="0.8"/>
<circle cx="425.1" cy="40.9" r="0.8" fill="#2a2a2a"/>
<circle cx="427.9" cy="40.9" r="0.8" fill="#2a2a2a"/>
<circle cx="430.7" cy="40.9" r="0.8" fill="#2a2a2a"/>
<circle cx="435.8" cy="36.8" r="0.8" fill="#2a2a2a"/>
<circle cx="438.6" cy="36.8" r="0.8" fill="#2a2a2a"/>
<circle cx="441.4" cy="36.8" r="0.8" fill="#2a2a2a"/>
<circle cx="446.5" cy="34.2" r="0.8" fill="#2a2a2a"/>
<circle cx="449.3" cy="34.2" r="0.8" fill="#2a2a2a"/>
<circle cx="452.1" cy="34.2" r="0.8" fill="#2a2a2a"/>
<circle cx="457.2" cy="31.6" r="0.8" fill="#2a2a2a"/>
<circle cx="460.0" cy="31.6" r="0.8" fill="#2a2a2a"/>
<circle cx="462.8" cy="31.6" r="0.8" fill="#2a2a2a"/>
<circle cx="467.9" cy="32.2" r="0.8" fill="#2a2a2a"/>
<circle cx="470.7" cy="32.2" r="0.8" fill="#2a2a2a"/>
<circle cx="473.5" cy="32.2" r="0.8" fill="#2a2a2a"/>
<circle cx="478.6" cy="31.2" r="0.8" fill="#2a2a2a"/>
<circle cx="481.4" cy="31.2" r="0.8" fill="#2a2a2a"/>
<circle cx="484.2" cy="31.2" r="0.8" fill="#2a2a2a"/>
<circle cx="489.2" cy="31.7" r="0.8" fill="#2a2a2a"/>
<circle cx="492.0" cy="31.7" r="0.8" fill="#2a2a2a"/>
<circle cx="494.8" cy="31.7" r="0.8" fill="#2a2a2a"/>
<circle cx="499.9" cy="33.6" r="0.8" fill="#2a2a2a"/>
<circle cx="502.7" cy="33.6" r="0.8" fill="#2a2a2a"/>
<circle cx="505.5" cy="33.6" r="0.8" fill="#2a2a2a"/>
<circle cx="435.7" cy="18" r="1.55" fill="#fff" stroke="#555" stroke-width="1.1"/>
<text x="440.50" y="20.50" font-size="7.6" fill="#444" text-anchor="start" textLength="22" lengthAdjust="spacingAndGlyphs" >Control</text>
<circle cx="469.1" cy="18" r="1.8" fill="#2f5f2f" stroke="#111" stroke-width="0.7"/>
<text x="473.6" y="20.5" font-size="7.6" fill="#444" textLength="32.6" lengthAdjust="spacingAndGlyphs"><tspan font-style="italic">Tsg101</tspan>-KO</text>
<line x1="241.5" y1="165.39000000000001" x2="241.5" y2="243.9" stroke="#111" stroke-width="1.3"/>
<line x1="241.0" y1="243.4" x2="332.4" y2="243.4" stroke="#111" stroke-width="1.3"/>
<line x1="238.5" y1="243.4" x2="241.5" y2="243.4" stroke="#111" stroke-width="0.9"/>
<text x="234.90" y="245.90" font-size="6.7" fill="#3c3c3c" text-anchor="end" textLength="3.3" lengthAdjust="spacingAndGlyphs" stroke="#3c3c3c" stroke-width="0.12" >0</text>
<line x1="238.5" y1="232.67000000000002" x2="241.5" y2="232.67000000000002" stroke="#111" stroke-width="0.9"/>
<text x="234.90" y="235.17" font-size="6.7" fill="#3c3c3c" text-anchor="end" textLength="6.2" lengthAdjust="spacingAndGlyphs" stroke="#3c3c3c" stroke-width="0.12" >10</text>
<line x1="238.5" y1="221.94" x2="241.5" y2="221.94" stroke="#111" stroke-width="0.9"/>
<text x="234.90" y="224.44" font-size="6.7" fill="#3c3c3c" text-anchor="end" textLength="6.8" lengthAdjust="spacingAndGlyphs" stroke="#3c3c3c" stroke-width="0.12" >20</text>
<line x1="238.5" y1="211.21" x2="241.5" y2="211.21" stroke="#111" stroke-width="0.9"/>
<text x="234.90" y="213.71" font-size="6.7" fill="#3c3c3c" text-anchor="end" textLength="6.8" lengthAdjust="spacingAndGlyphs" stroke="#3c3c3c" stroke-width="0.12" >30</text>
<line x1="238.5" y1="200.48000000000002" x2="241.5" y2="200.48000000000002" stroke="#111" stroke-width="0.9"/>
<text x="234.90" y="202.98" font-size="6.7" fill="#3c3c3c" text-anchor="end" textLength="6.8" lengthAdjust="spacingAndGlyphs" stroke="#3c3c3c" stroke-width="0.12" >40</text>
<line x1="238.5" y1="189.75" x2="241.5" y2="189.75" stroke="#111" stroke-width="0.9"/>
<text x="234.90" y="192.25" font-size="6.7" fill="#3c3c3c" text-anchor="end" textLength="6.8" lengthAdjust="spacingAndGlyphs" stroke="#3c3c3c" stroke-width="0.12" >50</text>
<line x1="238.5" y1="179.02" x2="241.5" y2="179.02" stroke="#111" stroke-width="0.9"/>
<text x="234.90" y="181.52" font-size="6.7" fill="#3c3c3c" text-anchor="end" textLength="6.8" lengthAdjust="spacingAndGlyphs" stroke="#3c3c3c" stroke-width="0.12" >60</text>
<line x1="238.5" y1="168.29000000000002" x2="241.5" y2="168.29000000000002" stroke="#111" stroke-width="0.9"/>
<text x="234.90" y="170.79" font-size="6.7" fill="#3c3c3c" text-anchor="end" textLength="6.8" lengthAdjust="spacingAndGlyphs" stroke="#3c3c3c" stroke-width="0.12" >70</text>
<line x1="241.5" y1="243.4" x2="241.5" y2="245.6" stroke="#111" stroke-width="0.9"/>
<text x="241.50" y="255.70" font-size="6.8" fill="#3c3c3c" text-anchor="middle" textLength="3.3" lengthAdjust="spacingAndGlyphs" stroke="#3c3c3c" stroke-width="0.12" >0</text>
<line x1="255.5" y1="243.4" x2="255.5" y2="245.6" stroke="#111" stroke-width="0.9"/>
<text x="255.50" y="255.70" font-size="6.8" fill="#3c3c3c" text-anchor="middle" textLength="3.3" lengthAdjust="spacingAndGlyphs" stroke="#3c3c3c" stroke-width="0.12" >4</text>
<line x1="269.5" y1="243.4" x2="269.5" y2="245.6" stroke="#111" stroke-width="0.9"/>
<text x="269.50" y="255.70" font-size="6.8" fill="#3c3c3c" text-anchor="middle" textLength="3.3" lengthAdjust="spacingAndGlyphs" stroke="#3c3c3c" stroke-width="0.12" >8</text>
<line x1="283.5" y1="243.4" x2="283.5" y2="245.6" stroke="#111" stroke-width="0.9"/>
<text x="283.60" y="255.70" font-size="6.8" fill="#3c3c3c" text-anchor="middle" textLength="6.2" lengthAdjust="spacingAndGlyphs" stroke="#3c3c3c" stroke-width="0.12" >12</text>
<line x1="297.5" y1="243.4" x2="297.5" y2="245.6" stroke="#111" stroke-width="0.9"/>
<text x="297.60" y="255.70" font-size="6.8" fill="#3c3c3c" text-anchor="middle" textLength="6.2" lengthAdjust="spacingAndGlyphs" stroke="#3c3c3c" stroke-width="0.12" >16</text>
<line x1="311.5" y1="243.4" x2="311.5" y2="245.6" stroke="#111" stroke-width="0.9"/>
<text x="311.60" y="255.70" font-size="6.8" fill="#3c3c3c" text-anchor="middle" textLength="6.8" lengthAdjust="spacingAndGlyphs" stroke="#3c3c3c" stroke-width="0.12" >20</text>
<line x1="325.5" y1="243.4" x2="325.5" y2="245.6" stroke="#111" stroke-width="0.9"/>
<text x="325.60" y="255.70" font-size="6.8" fill="#3c3c3c" text-anchor="middle" textLength="6.8" lengthAdjust="spacingAndGlyphs" stroke="#3c3c3c" stroke-width="0.12" >24</text>
<text x="287.10" y="267.60" font-size="8.8" fill="#2e2e2e" text-anchor="middle" textLength="83.6" lengthAdjust="spacingAndGlyphs" stroke="#2e2e2e" stroke-width="0.16" >Weeks post-transplantation</text>
<text transform="translate(213.3,203.5) rotate(-90)" font-size="8.1" fill="#3a3a3a" stroke="#3a3a3a" stroke-width="0.12" text-anchor="middle" textLength="58.7" lengthAdjust="spacingAndGlyphs">% peripheral blood</text>
<text transform="translate(222.5,200.3) rotate(-90)" font-size="8.1" fill="#3a3a3a" stroke="#3a3a3a" stroke-width="0.12" text-anchor="middle" textLength="29.0" lengthAdjust="spacingAndGlyphs">chimerism</text>
<polyline points="255.5,202.1 269.5,179.6 283.5,179.0 297.5,179.0 311.5,179.0 325.5,182.6" fill="none" stroke="#cfcfcf" stroke-width="0.8"/>
<polyline points="255.5,212.6 269.5,211.1 283.5,210.0 297.5,210.0 311.5,208.7 325.5,206.5" fill="none" stroke="#5283bb" stroke-width="1.3"/>
<line x1="255.5" y1="197.3" x2="255.5" y2="206.9" stroke="#111" stroke-width="1.0"/><line x1="254.1" y1="197.3" x2="256.9" y2="197.3" stroke="#111" stroke-width="0.9"/><line x1="254.1" y1="206.9" x2="256.9" y2="206.9" stroke="#111" stroke-width="0.9"/>
<circle cx="255.5" cy="202.1" r="1.7" fill="#fff" stroke="#333" stroke-width="0.8"/>
<line x1="269.5" y1="174.2" x2="269.5" y2="184.9" stroke="#111" stroke-width="1.0"/><line x1="268.1" y1="174.2" x2="270.9" y2="174.2" stroke="#111" stroke-width="0.9"/><line x1="268.1" y1="184.9" x2="270.9" y2="184.9" stroke="#111" stroke-width="0.9"/>
<circle cx="269.5" cy="179.6" r="1.7" fill="#fff" stroke="#333" stroke-width="0.8"/>
<line x1="283.5" y1="172.0" x2="283.5" y2="186.0" stroke="#111" stroke-width="1.0"/><line x1="282.1" y1="172.0" x2="284.9" y2="172.0" stroke="#111" stroke-width="0.9"/><line x1="282.1" y1="186.0" x2="284.9" y2="186.0" stroke="#111" stroke-width="0.9"/>
<circle cx="283.5" cy="179.0" r="1.7" fill="#fff" stroke="#333" stroke-width="0.8"/>
<line x1="297.5" y1="172.6" x2="297.5" y2="185.5" stroke="#111" stroke-width="1.0"/><line x1="296.1" y1="172.6" x2="298.9" y2="172.6" stroke="#111" stroke-width="0.9"/><line x1="296.1" y1="185.5" x2="298.9" y2="185.5" stroke="#111" stroke-width="0.9"/>
<circle cx="297.5" cy="179.0" r="1.7" fill="#fff" stroke="#333" stroke-width="0.8"/>
<line x1="311.5" y1="173.1" x2="311.5" y2="184.9" stroke="#111" stroke-width="1.0"/><line x1="310.1" y1="173.1" x2="312.9" y2="173.1" stroke="#111" stroke-width="0.9"/><line x1="310.1" y1="184.9" x2="312.9" y2="184.9" stroke="#111" stroke-width="0.9"/>
<circle cx="311.5" cy="179.0" r="1.7" fill="#fff" stroke="#333" stroke-width="0.8"/>
<line x1="325.5" y1="177.7" x2="325.5" y2="187.4" stroke="#111" stroke-width="1.0"/><line x1="324.1" y1="177.7" x2="326.9" y2="177.7" stroke="#111" stroke-width="0.9"/><line x1="324.1" y1="187.4" x2="326.9" y2="187.4" stroke="#111" stroke-width="0.9"/>
<circle cx="325.5" cy="182.6" r="1.7" fill="#fff" stroke="#333" stroke-width="0.8"/>
<line x1="255.5" y1="205.3" x2="255.5" y2="219.9" stroke="#111" stroke-width="1.0"/><line x1="254.1" y1="205.3" x2="256.9" y2="205.3" stroke="#111" stroke-width="0.9"/><line x1="254.1" y1="219.9" x2="256.9" y2="219.9" stroke="#111" stroke-width="0.9"/>
<circle cx="255.5" cy="212.6" r="1.8" fill="#1d3557" stroke="#0d1a2e" stroke-width="0.6"/>
<line x1="269.5" y1="203.6" x2="269.5" y2="218.6" stroke="#111" stroke-width="1.0"/><line x1="268.1" y1="203.6" x2="270.9" y2="203.6" stroke="#111" stroke-width="0.9"/><line x1="268.1" y1="218.6" x2="270.9" y2="218.6" stroke="#111" stroke-width="0.9"/>
<circle cx="269.5" cy="211.1" r="1.8" fill="#1d3557" stroke="#0d1a2e" stroke-width="0.6"/>
<circle cx="268.2" cy="200.6" r="0.8" fill="#333"/>
<circle cx="270.8" cy="200.6" r="0.8" fill="#333"/>
<line x1="283.5" y1="201.7" x2="283.5" y2="218.4" stroke="#111" stroke-width="1.0"/><line x1="282.1" y1="201.7" x2="284.9" y2="201.7" stroke="#111" stroke-width="0.9"/><line x1="282.1" y1="218.4" x2="284.9" y2="218.4" stroke="#111" stroke-width="0.9"/>
<circle cx="283.5" cy="210.0" r="1.8" fill="#1d3557" stroke="#0d1a2e" stroke-width="0.6"/>
<circle cx="283.5" cy="198.1" r="0.8" fill="#333"/>
<line x1="297.5" y1="201.7" x2="297.5" y2="218.4" stroke="#111" stroke-width="1.0"/><line x1="296.1" y1="201.7" x2="298.9" y2="201.7" stroke="#111" stroke-width="0.9"/><line x1="296.1" y1="218.4" x2="298.9" y2="218.4" stroke="#111" stroke-width="0.9"/>
<circle cx="297.5" cy="210.0" r="1.8" fill="#1d3557" stroke="#0d1a2e" stroke-width="0.6"/>
<circle cx="297.5" cy="198.1" r="0.8" fill="#333"/>
<line x1="311.5" y1="200.4" x2="311.5" y2="217.1" stroke="#111" stroke-width="1.0"/><line x1="310.1" y1="200.4" x2="312.9" y2="200.4" stroke="#111" stroke-width="0.9"/><line x1="310.1" y1="217.1" x2="312.9" y2="217.1" stroke="#111" stroke-width="0.9"/>
<circle cx="311.5" cy="208.7" r="1.8" fill="#1d3557" stroke="#0d1a2e" stroke-width="0.6"/>
<circle cx="311.5" cy="196.8" r="0.8" fill="#333"/>
<line x1="325.5" y1="199.5" x2="325.5" y2="213.5" stroke="#111" stroke-width="1.0"/><line x1="324.1" y1="199.5" x2="326.9" y2="199.5" stroke="#111" stroke-width="0.9"/><line x1="324.1" y1="213.5" x2="326.9" y2="213.5" stroke="#111" stroke-width="0.9"/>
<circle cx="325.5" cy="206.5" r="1.8" fill="#1d3557" stroke="#0d1a2e" stroke-width="0.6"/>
<circle cx="325.5" cy="195.9" r="0.8" fill="#333"/>
<circle cx="258.6" cy="158.9" r="1.55" fill="#fff" stroke="#555" stroke-width="1.1"/>
<text x="263.00" y="160.90" font-size="7.6" fill="#444" text-anchor="start" textLength="21.8" lengthAdjust="spacingAndGlyphs" >Control</text>
<circle cx="291.7" cy="158.9" r="1.9" fill="#1d3557"/>
<text x="297.60" y="160.90" font-size="7.6" fill="#444" text-anchor="start" textLength="27.2" lengthAdjust="spacingAndGlyphs" >Cd63-KO</text>
<rect x="0.5" y="0.5" width="519" height="276" fill="none" stroke="#4a4a4a" stroke-width="1"/>
</svg></body></html>
